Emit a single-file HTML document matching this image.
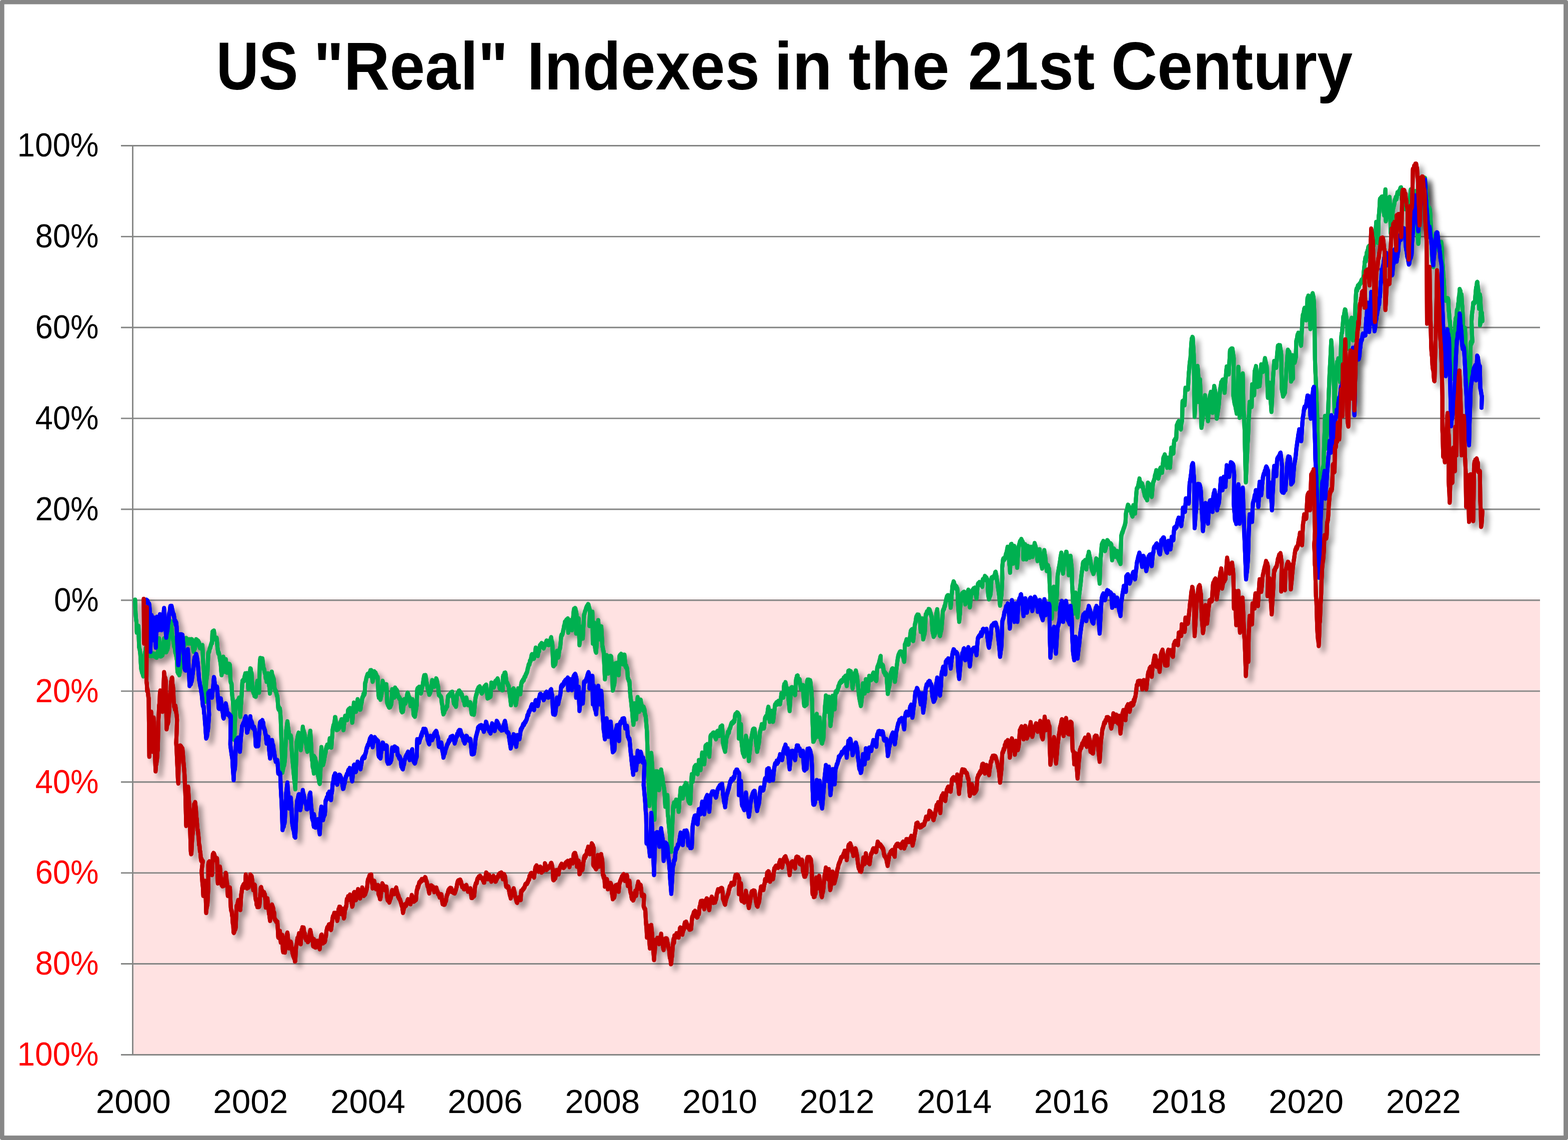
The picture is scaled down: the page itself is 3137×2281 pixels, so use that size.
<!DOCTYPE html>
<html><head><meta charset="utf-8"><title>US "Real" Indexes in the 21st Century</title>
<style>
html,body{margin:0;padding:0;background:#fff;}
body{width:3137px;height:2281px;overflow:hidden;}
svg{display:block;font-family:"Liberation Sans",sans-serif;}
.ax text{font-size:66.4px;}
.ln{fill:none;stroke-width:8;stroke-linejoin:round;stroke-linecap:round;}
</style></head><body>
<svg width="3137" height="2281" viewBox="0 0 3137 2281" xmlns="http://www.w3.org/2000/svg">
<defs>
<filter id="sh" x="-3%" y="-3%" width="106%" height="106%" filterUnits="objectBoundingBox" color-interpolation-filters="sRGB">
<feGaussianBlur in="SourceAlpha" stdDeviation="5.5"/>
<feOffset dx="9" dy="9"/>
<feComponentTransfer><feFuncA type="linear" slope="0.38"/></feComponentTransfer>
</filter>
</defs>
<rect x="0" y="0" width="3137" height="2281" fill="#fff"/>
<rect x="0" y="0" width="3137" height="2281" rx="4" ry="4" fill="#878787"/>
<rect x="8.6" y="8.5" width="3119.5" height="2263.6" fill="#fff"/>
<g font-weight="bold" font-size="134.8"><text x="432.4" y="178.6" textLength="164.0" lengthAdjust="spacingAndGlyphs">US</text><text x="627.4" y="178.6" textLength="389.1" lengthAdjust="spacingAndGlyphs">&quot;Real&quot;</text><text x="1054.6" y="178.6" textLength="465.4" lengthAdjust="spacingAndGlyphs">Indexes</text><text x="1549.1" y="178.6" textLength="116.0" lengthAdjust="spacingAndGlyphs">in</text><text x="1697.5" y="178.6" textLength="202.3" lengthAdjust="spacingAndGlyphs">the</text><text x="1936.4" y="178.6" textLength="253.7" lengthAdjust="spacingAndGlyphs">21st</text><text x="2222.9" y="178.6" textLength="483.2" lengthAdjust="spacingAndGlyphs">Century</text></g>
<linearGradient id="pg" x1="0" y1="0" x2="0" y2="1"><stop offset="0" stop-color="#ffe2e2" stop-opacity="0"/><stop offset="1" stop-color="#ffe2e2" stop-opacity="0.6"/></linearGradient>
<rect x="267" y="1194" width="2814" height="7" fill="url(#pg)"/>
<rect x="266.9" y="1201" width="2814.1" height="909.0" fill="#ffe2e2"/>
<g stroke="#858685" stroke-width="2.9"><line x1="242" x2="3081" y1="291.47" y2="291.47"/><line x1="242" x2="3081" y1="473.37" y2="473.37"/><line x1="242" x2="3081" y1="655.27" y2="655.27"/><line x1="242" x2="3081" y1="837.1700000000001" y2="837.1700000000001"/><line x1="242" x2="3081" y1="1019.07" y2="1019.07"/><line x1="242" x2="3081" y1="1200.97" y2="1200.97"/><line x1="242" x2="3081" y1="1382.8700000000001" y2="1382.8700000000001"/><line x1="242" x2="3081" y1="1564.77" y2="1564.77"/><line x1="242" x2="3081" y1="1746.67" y2="1746.67"/><line x1="242" x2="3081" y1="1928.5700000000002" y2="1928.5700000000002"/><line x1="242" x2="3081" y1="2110.4700000000003" y2="2110.4700000000003"/><line x1="265.5" x2="265.5" y1="290.97" y2="2111.9700000000003"/></g>
<g class="ax"><text x="197.5" y="313.2" text-anchor="end" fill="#000" textLength="163" lengthAdjust="spacingAndGlyphs">100%</text><text x="197.5" y="495.1" text-anchor="end" fill="#000" textLength="127" lengthAdjust="spacingAndGlyphs">80%</text><text x="197.5" y="677.0" text-anchor="end" fill="#000" textLength="127" lengthAdjust="spacingAndGlyphs">60%</text><text x="197.5" y="858.9" text-anchor="end" fill="#000" textLength="127" lengthAdjust="spacingAndGlyphs">40%</text><text x="197.5" y="1040.8" text-anchor="end" fill="#000" textLength="127" lengthAdjust="spacingAndGlyphs">20%</text><text x="197.5" y="1222.7" text-anchor="end" fill="#000" textLength="89.5" lengthAdjust="spacingAndGlyphs">0%</text><text x="197.5" y="1404.6" text-anchor="end" fill="#f00" textLength="127" lengthAdjust="spacingAndGlyphs">20%</text><text x="197.5" y="1586.5" text-anchor="end" fill="#f00" textLength="127" lengthAdjust="spacingAndGlyphs">40%</text><text x="197.5" y="1768.4" text-anchor="end" fill="#f00" textLength="127" lengthAdjust="spacingAndGlyphs">60%</text><text x="197.5" y="1950.3" text-anchor="end" fill="#f00" textLength="127" lengthAdjust="spacingAndGlyphs">80%</text><text x="197.5" y="2132.2" text-anchor="end" fill="#f00" textLength="163" lengthAdjust="spacingAndGlyphs">100%</text><text x="266.7" y="2227.2" text-anchor="middle" textLength="150" lengthAdjust="spacingAndGlyphs">2000</text><text x="501.3" y="2227.2" text-anchor="middle" textLength="150" lengthAdjust="spacingAndGlyphs">2002</text><text x="736.0" y="2227.2" text-anchor="middle" textLength="150" lengthAdjust="spacingAndGlyphs">2004</text><text x="970.6" y="2227.2" text-anchor="middle" textLength="150" lengthAdjust="spacingAndGlyphs">2006</text><text x="1205.3" y="2227.2" text-anchor="middle" textLength="150" lengthAdjust="spacingAndGlyphs">2008</text><text x="1439.9" y="2227.2" text-anchor="middle" textLength="150" lengthAdjust="spacingAndGlyphs">2010</text><text x="1674.5" y="2227.2" text-anchor="middle" textLength="150" lengthAdjust="spacingAndGlyphs">2012</text><text x="1909.2" y="2227.2" text-anchor="middle" textLength="150" lengthAdjust="spacingAndGlyphs">2014</text><text x="2143.8" y="2227.2" text-anchor="middle" textLength="150" lengthAdjust="spacingAndGlyphs">2016</text><text x="2378.5" y="2227.2" text-anchor="middle" textLength="150" lengthAdjust="spacingAndGlyphs">2018</text><text x="2613.1" y="2227.2" text-anchor="middle" textLength="150" lengthAdjust="spacingAndGlyphs">2020</text><text x="2847.7" y="2227.2" text-anchor="middle" textLength="150" lengthAdjust="spacingAndGlyphs">2022</text></g>
<defs><path id="lg" d="M270.3,1200.8 L270.8,1215.5 L271.3,1226.7 L272.1,1238.5 L273.0,1245.0 L273.7,1265.0 L274.5,1261.7 L275.4,1257.5 L276.2,1254.1 L277.0,1253.3 L277.6,1274.5 L278.3,1295.0 L279.1,1297.7 L280.0,1302.3 L280.8,1310.0 L281.6,1325.1 L282.5,1338.3 L283.3,1341.2 L284.2,1345.2 L285.0,1344.6 L285.9,1350.1 L286.7,1352.5 L287.4,1339.2 L288.0,1323.6 L288.7,1313.3 L289.4,1310.9 L290.2,1305.3 L290.9,1305.7 L291.7,1296.7 L292.5,1297.6 L293.4,1299.5 L294.2,1304.0 L295.0,1302.6 L295.9,1306.2 L296.7,1304.5 L297.5,1307.9 L298.3,1310.8 L299.2,1311.3 L300.0,1311.7 L300.8,1311.3 L301.7,1308.5 L302.5,1311.9 L303.4,1309.9 L304.2,1311.2 L305.0,1309.3 L305.9,1311.1 L306.7,1308.3 L307.6,1308.7 L308.5,1310.8 L309.4,1312.6 L310.2,1309.6 L311.1,1312.9 L312.0,1314.2 L312.8,1311.4 L313.5,1315.0 L314.3,1307.6 L315.0,1308.4 L315.8,1305.0 L316.6,1297.1 L317.5,1286.4 L318.3,1278.3 L319.1,1286.5 L320.0,1303.9 L320.8,1312.5 L321.6,1310.1 L322.5,1312.4 L323.3,1306.4 L324.1,1308.3 L325.0,1310.5 L325.8,1306.7 L326.6,1299.8 L327.5,1284.4 L328.3,1278.3 L329.1,1281.2 L330.0,1289.0 L330.8,1295.4 L331.7,1299.1 L332.5,1304.2 L333.3,1302.6 L334.1,1297.3 L335.0,1299.1 L335.8,1295.0 L336.6,1288.4 L337.5,1276.1 L338.4,1265.9 L339.2,1260.0 L339.9,1255.1 L340.6,1254.0 L341.3,1244.5 L342.0,1244.2 L342.7,1252.3 L343.5,1257.1 L344.2,1266.7 L345.0,1271.9 L345.9,1276.1 L346.7,1281.7 L347.5,1286.0 L348.4,1293.3 L349.2,1294.4 L350.0,1298.3 L350.8,1305.9 L351.7,1306.8 L352.5,1311.5 L353.4,1318.0 L354.2,1321.7 L355.0,1343.3 L355.7,1342.5 L356.5,1347.2 L357.2,1347.4 L358.0,1346.1 L358.7,1350.0 L359.6,1344.9 L360.4,1335.1 L361.3,1330.0 L362.0,1323.7 L362.8,1327.2 L363.5,1322.9 L364.2,1323.3 L365.0,1313.7 L365.9,1305.4 L366.7,1296.7 L367.5,1297.2 L368.4,1291.8 L369.2,1289.8 L370.0,1288.4 L370.8,1281.0 L371.6,1286.5 L372.5,1277.5 L373.3,1278.3 L374.1,1282.0 L375.0,1279.7 L375.9,1283.0 L376.7,1286.7 L377.5,1283.9 L378.4,1286.5 L379.2,1280.0 L380.0,1282.9 L380.9,1283.0 L381.7,1286.7 L382.5,1284.1 L383.4,1279.8 L384.2,1280.0 L385.0,1286.2 L385.9,1290.3 L386.7,1299.3 L387.5,1303.3 L388.3,1297.7 L389.2,1298.8 L390.0,1296.7 L390.8,1289.3 L391.7,1284.4 L392.5,1280.0 L393.3,1282.5 L394.2,1281.2 L395.0,1283.3 L395.9,1284.1 L396.7,1283.3 L397.5,1288.7 L398.4,1286.5 L399.2,1293.3 L400.0,1296.0 L400.9,1292.5 L401.7,1296.6 L402.5,1296.7 L403.3,1297.5 L404.2,1292.1 L405.0,1291.7 L405.6,1306.2 L406.3,1321.7 L407.0,1330.4 L407.6,1338.3 L408.3,1346.7 L409.2,1380.0 L409.8,1391.7 L410.3,1403.3 L411.0,1388.4 L411.8,1379.1 L412.5,1363.3 L413.3,1359.2 L414.2,1351.5 L415.0,1346.7 L415.9,1327.5 L416.7,1306.7 L417.5,1305.5 L418.4,1303.7 L419.2,1299.7 L420.0,1296.7 L420.9,1295.6 L421.7,1291.7 L422.5,1289.2 L423.4,1286.2 L424.2,1286.7 L425.0,1265.0 L425.8,1263.8 L426.5,1265.8 L427.2,1264.7 L428.0,1262.5 L428.9,1270.4 L429.7,1278.3 L430.4,1276.9 L431.1,1278.6 L431.9,1279.1 L432.6,1279.1 L433.3,1276.7 L434.1,1283.9 L435.0,1295.0 L435.9,1301.1 L436.7,1306.7 L437.5,1305.9 L438.4,1309.3 L439.2,1313.3 L440.0,1319.7 L440.9,1324.3 L441.7,1330.0 L442.5,1342.1 L443.3,1350.0 L444.1,1343.6 L445.0,1333.9 L445.9,1326.4 L446.7,1315.0 L447.5,1322.7 L448.4,1331.7 L449.2,1343.3 L450.0,1337.1 L450.9,1333.4 L451.7,1320.0 L452.5,1328.0 L453.4,1334.2 L454.2,1345.0 L455.0,1341.0 L455.9,1337.9 L456.7,1330.0 L457.5,1329.2 L458.4,1332.5 L459.2,1329.5 L460.0,1331.7 L460.6,1350.1 L461.3,1363.3 L462.0,1365.9 L462.6,1367.0 L463.3,1368.3 L464.1,1386.0 L465.0,1395.0 L465.9,1402.4 L466.7,1413.3 L467.5,1440.0 L468.1,1458.7 L468.7,1479.2 L469.4,1466.5 L470.0,1446.7 L470.9,1424.7 L471.7,1408.3 L472.5,1409.1 L473.3,1405.1 L474.2,1403.3 L475.0,1404.7 L475.8,1403.3 L476.6,1401.3 L477.5,1399.3 L478.3,1396.7 L479.1,1408.4 L480.0,1423.6 L480.8,1433.3 L481.6,1414.4 L482.5,1406.5 L483.3,1393.3 L484.1,1377.7 L485.0,1363.3 L485.8,1364.1 L486.6,1360.9 L487.5,1362.4 L488.3,1361.7 L489.1,1354.7 L490.0,1351.8 L490.8,1348.3 L491.6,1350.2 L492.5,1349.6 L493.3,1350.8 L494.2,1347.7 L495.0,1350.0 L495.9,1365.1 L496.7,1378.3 L497.5,1372.7 L498.3,1363.8 L499.2,1353.3 L500.0,1349.0 L500.8,1338.3 L501.6,1338.5 L502.5,1347.5 L503.3,1346.7 L504.1,1362.8 L505.0,1380.0 L505.8,1381.5 L506.6,1384.0 L507.5,1386.8 L508.3,1386.7 L509.1,1391.8 L510.0,1389.0 L510.9,1391.0 L511.7,1393.3 L512.5,1387.2 L513.4,1376.1 L514.2,1367.5 L515.0,1363.3 L515.8,1371.2 L516.6,1372.8 L517.5,1382.3 L518.3,1385.0 L519.1,1351.3 L520.0,1323.3 L520.8,1317.5 L521.7,1323.2 L522.5,1320.8 L523.3,1323.2 L524.2,1319.5 L525.0,1318.3 L525.9,1326.3 L526.7,1333.3 L527.5,1337.7 L528.4,1339.1 L529.2,1343.7 L530.0,1346.7 L530.8,1348.1 L531.6,1356.6 L532.5,1357.2 L533.3,1363.3 L534.1,1359.0 L535.0,1357.3 L535.9,1353.6 L536.7,1348.3 L537.5,1355.6 L538.4,1372.0 L539.2,1375.0 L540.0,1386.7 L540.7,1380.3 L541.5,1371.5 L542.2,1361.8 L543.0,1353.6 L543.7,1345.0 L544.5,1351.2 L545.2,1351.9 L546.0,1354.4 L546.7,1356.7 L547.5,1358.7 L548.4,1367.6 L549.2,1376.6 L550.0,1380.0 L550.8,1382.1 L551.7,1382.5 L552.5,1385.7 L553.3,1388.4 L554.2,1392.5 L555.0,1393.3 L555.9,1405.5 L556.7,1416.7 L557.5,1419.0 L558.4,1415.9 L559.2,1419.1 L560.0,1418.3 L560.9,1427.7 L561.7,1440.0 L562.5,1465.9 L563.4,1496.0 L564.2,1518.2 L565.0,1545.0 L565.8,1540.7 L566.7,1536.3 L567.5,1531.8 L568.3,1531.6 L569.2,1526.3 L570.0,1520.0 L570.8,1501.6 L571.7,1481.3 L572.5,1461.7 L573.3,1457.9 L574.2,1449.5 L575.0,1444.2 L575.8,1451.7 L576.6,1457.7 L577.5,1463.6 L578.3,1470.0 L579.1,1474.9 L580.0,1476.2 L580.8,1477.1 L581.7,1472.4 L582.5,1478.3 L583.3,1496.7 L584.2,1506.6 L585.0,1520.0 L585.8,1527.3 L586.7,1536.8 L587.5,1547.2 L588.3,1555.2 L589.1,1563.0 L590.0,1570.0 L590.8,1578.3 L591.6,1549.2 L592.5,1520.0 L593.3,1485.0 L594.1,1483.0 L595.0,1477.2 L595.8,1472.3 L596.7,1469.5 L597.5,1466.7 L598.3,1473.3 L599.2,1480.7 L600.0,1491.1 L600.9,1489.7 L601.7,1500.0 L602.5,1492.7 L603.3,1481.5 L604.2,1473.7 L605.0,1466.6 L605.8,1455.0 L606.6,1461.0 L607.5,1462.3 L608.3,1466.0 L609.2,1468.5 L610.0,1475.0 L610.8,1480.1 L611.7,1486.9 L612.5,1488.1 L613.3,1495.5 L614.2,1499.7 L615.0,1503.3 L615.8,1498.2 L616.7,1493.9 L617.5,1485.5 L618.3,1478.9 L619.1,1472.7 L620.0,1471.3 L620.8,1463.3 L621.6,1476.3 L622.5,1491.3 L623.4,1507.6 L624.2,1520.0 L625.0,1523.5 L625.7,1534.6 L626.5,1536.6 L627.2,1540.3 L628.0,1546.7 L628.0,1513.3 L628.8,1514.5 L629.7,1520.1 L630.5,1517.2 L631.3,1521.5 L632.2,1524.6 L633.0,1526.7 L633.8,1533.3 L634.6,1539.2 L635.5,1546.2 L636.3,1551.7 L637.1,1554.8 L638.0,1559.5 L638.9,1566.1 L639.7,1567.5 L640.5,1553.7 L641.3,1538.3 L642.1,1516.0 L643.0,1495.8 L643.8,1508.0 L644.6,1508.2 L645.5,1522.6 L646.3,1530.0 L647.1,1526.9 L648.0,1523.4 L648.9,1517.4 L649.7,1513.3 L650.5,1508.0 L651.4,1505.5 L652.2,1498.9 L653.0,1495.0 L653.8,1495.5 L654.7,1490.9 L655.5,1495.3 L656.3,1490.9 L657.2,1494.5 L658.0,1491.7 L658.9,1486.0 L659.7,1478.3 L660.5,1483.7 L661.4,1485.6 L662.2,1491.9 L663.0,1495.0 L663.8,1482.4 L664.7,1472.3 L665.5,1460.0 L666.3,1456.3 L667.1,1451.7 L668.0,1454.3 L668.8,1446.7 L669.5,1443.6 L670.3,1435.6 L671.0,1435.8 L671.7,1444.2 L672.4,1444.6 L673.1,1454.1 L673.8,1460.0 L674.6,1458.1 L675.5,1457.9 L676.3,1458.7 L677.2,1456.6 L678.0,1456.7 L678.8,1451.0 L679.6,1451.4 L680.5,1448.5 L681.3,1445.0 L682.1,1445.8 L683.0,1440.2 L683.8,1440.0 L684.6,1442.9 L685.5,1449.7 L686.4,1456.4 L687.2,1460.0 L688.0,1451.3 L688.9,1445.6 L689.7,1441.3 L690.5,1433.3 L691.3,1434.4 L692.2,1436.5 L693.0,1436.0 L693.9,1437.3 L694.7,1440.0 L695.5,1430.5 L696.3,1421.7 L697.1,1420.6 L698.0,1419.4 L698.8,1420.2 L699.7,1419.2 L700.5,1417.5 L701.3,1423.9 L702.2,1429.3 L703.0,1432.1 L703.9,1437.6 L704.7,1445.0 L705.5,1437.4 L706.4,1425.5 L707.2,1416.6 L708.0,1406.7 L708.8,1407.6 L709.7,1413.4 L710.5,1415.4 L711.4,1418.5 L712.2,1423.3 L713.0,1416.5 L713.9,1408.9 L714.7,1406.6 L715.5,1400.0 L716.3,1404.8 L717.2,1403.4 L718.0,1408.4 L718.8,1408.2 L719.6,1414.9 L720.5,1419.1 L721.3,1418.3 L722.1,1410.6 L723.0,1407.7 L723.9,1403.9 L724.7,1396.7 L725.5,1395.1 L726.4,1393.5 L727.2,1389.0 L728.0,1390.4 L728.9,1389.5 L729.7,1386.7 L730.5,1366.7 L731.3,1365.3 L732.2,1361.2 L733.0,1356.8 L733.9,1354.0 L734.7,1351.7 L735.5,1349.2 L736.4,1349.9 L737.2,1352.1 L738.0,1350.0 L738.8,1348.1 L739.6,1345.6 L740.4,1347.9 L741.1,1341.9 L741.9,1345.2 L742.7,1341.7 L743.4,1346.4 L744.1,1353.1 L744.8,1358.6 L745.5,1363.3 L746.3,1358.7 L747.1,1355.4 L748.0,1348.7 L748.8,1344.2 L749.6,1345.3 L750.5,1346.3 L751.4,1346.8 L752.2,1350.0 L753.0,1350.7 L753.9,1353.9 L754.7,1354.5 L755.5,1355.0 L756.4,1374.2 L757.2,1390.0 L758.0,1395.1 L758.8,1394.0 L759.7,1396.1 L760.5,1395.5 L761.3,1399.2 L762.1,1394.0 L763.0,1391.4 L763.8,1383.3 L764.6,1373.4 L765.5,1363.3 L766.3,1366.1 L767.2,1369.7 L768.0,1369.7 L768.9,1374.7 L769.7,1378.3 L770.5,1374.6 L771.4,1371.7 L772.2,1373.6 L773.0,1370.0 L773.9,1389.3 L774.7,1406.7 L775.5,1407.9 L776.3,1410.6 L777.2,1410.3 L778.0,1414.2 L778.8,1415.0 L779.6,1414.5 L780.5,1414.2 L781.3,1412.6 L782.2,1409.9 L783.0,1408.3 L783.9,1393.9 L784.7,1380.0 L785.5,1382.0 L786.3,1385.4 L787.2,1389.9 L788.0,1392.6 L788.8,1395.0 L789.6,1385.8 L790.5,1376.7 L791.3,1380.2 L792.2,1379.7 L793.0,1380.6 L793.9,1381.7 L794.7,1383.3 L795.5,1388.4 L796.3,1393.3 L797.1,1393.2 L798.0,1394.5 L798.8,1397.3 L799.6,1396.9 L800.5,1398.7 L801.3,1400.0 L802.1,1412.5 L803.0,1421.7 L803.8,1421.6 L804.5,1424.1 L805.2,1422.5 L806.0,1423.3 L806.7,1419.3 L807.4,1411.8 L808.1,1403.8 L808.8,1400.0 L809.6,1404.3 L810.5,1403.8 L811.3,1406.7 L812.1,1400.3 L813.0,1399.3 L813.8,1394.8 L814.7,1389.0 L815.5,1386.7 L816.3,1388.2 L817.2,1391.5 L818.0,1394.4 L818.9,1395.8 L819.7,1396.7 L820.5,1405.6 L821.3,1411.7 L822.1,1410.5 L823.0,1403.6 L823.8,1404.4 L824.7,1402.6 L825.5,1400.0 L826.4,1410.6 L827.2,1428.3 L827.9,1431.0 L828.6,1431.6 L829.3,1431.0 L830.0,1433.3 L830.8,1428.4 L831.5,1422.8 L832.3,1419.5 L833.0,1414.6 L833.8,1410.0 L834.2,1395.0 L834.7,1380.0 L835.5,1377.7 L836.3,1378.8 L837.2,1376.4 L838.0,1377.4 L838.8,1375.0 L839.6,1378.1 L840.5,1378.9 L841.4,1382.3 L842.2,1386.7 L843.0,1383.1 L843.8,1378.0 L844.7,1375.5 L845.5,1371.6 L846.3,1366.7 L847.1,1360.7 L848.0,1355.0 L848.8,1352.0 L849.6,1352.2 L850.5,1353.5 L851.3,1351.7 L852.1,1355.5 L853.0,1364.3 L853.9,1367.4 L854.7,1373.3 L855.5,1377.2 L856.3,1378.4 L857.2,1383.0 L858.0,1382.1 L858.8,1389.2 L859.6,1387.8 L860.5,1386.1 L861.4,1382.3 L862.2,1381.7 L863.0,1374.2 L863.9,1368.5 L864.7,1361.7 L865.5,1364.1 L866.3,1365.3 L867.2,1369.8 L868.0,1368.6 L868.8,1373.3 L869.6,1372.2 L870.4,1365.1 L871.1,1363.7 L871.9,1363.1 L872.7,1358.3 L873.6,1360.4 L874.5,1364.0 L875.4,1370.0 L876.3,1373.3 L877.1,1380.4 L878.0,1390.0 L878.8,1389.9 L879.7,1391.6 L880.5,1392.5 L881.3,1393.4 L882.2,1394.5 L883.0,1396.7 L883.8,1406.2 L884.7,1409.8 L885.5,1418.3 L886.4,1424.8 L887.2,1428.3 L888.0,1424.2 L888.8,1425.4 L889.7,1420.4 L890.5,1420.1 L891.3,1418.3 L892.1,1417.9 L893.0,1414.9 L893.9,1412.5 L894.7,1413.3 L895.5,1403.1 L896.3,1393.3 L897.1,1392.6 L898.0,1393.0 L898.8,1390.2 L899.6,1391.0 L900.5,1390.7 L901.3,1390.0 L902.1,1386.6 L903.0,1387.8 L903.9,1385.1 L904.7,1385.0 L905.5,1391.2 L906.4,1395.5 L907.2,1401.1 L908.0,1406.7 L908.8,1405.9 L909.7,1409.8 L910.5,1410.1 L911.4,1410.9 L912.2,1413.3 L913.0,1404.5 L913.9,1395.1 L914.7,1388.3 L915.5,1387.7 L916.3,1386.7 L917.2,1385.4 L918.0,1382.9 L918.8,1382.5 L919.6,1386.3 L920.5,1386.1 L921.3,1385.6 L922.2,1388.6 L923.0,1390.0 L923.8,1389.5 L924.6,1393.6 L925.5,1395.9 L926.3,1396.7 L927.1,1401.5 L928.0,1402.5 L928.9,1404.5 L929.7,1410.0 L930.5,1406.9 L931.4,1405.1 L932.2,1399.9 L933.0,1396.7 L933.8,1401.7 L934.6,1404.1 L935.5,1408.6 L936.3,1410.0 L937.1,1409.9 L938.0,1408.0 L938.8,1409.1 L939.6,1410.8 L940.5,1405.9 L941.3,1406.7 L942.1,1411.7 L943.0,1424.3 L943.8,1428.3 L944.6,1428.4 L945.5,1427.9 L946.3,1428.2 L947.2,1427.5 L948.0,1429.2 L948.8,1422.4 L949.6,1412.9 L950.5,1404.0 L951.3,1396.7 L952.1,1393.0 L953.0,1389.5 L953.8,1388.2 L954.7,1382.8 L955.5,1380.0 L956.3,1380.7 L957.2,1376.2 L958.0,1376.0 L958.9,1374.8 L959.7,1374.2 L960.5,1376.1 L961.3,1379.2 L962.2,1383.0 L963.0,1385.5 L963.8,1386.7 L964.6,1383.0 L965.5,1384.7 L966.3,1380.4 L967.2,1380.8 L968.0,1376.7 L968.8,1375.1 L969.6,1373.8 L970.4,1375.0 L971.1,1373.3 L971.9,1371.1 L972.7,1370.8 L973.4,1377.4 L974.1,1383.9 L974.8,1390.6 L975.5,1396.7 L976.3,1393.9 L977.2,1394.6 L978.0,1395.5 L978.8,1395.0 L979.6,1393.5 L980.5,1392.5 L981.3,1393.3 L982.1,1382.2 L983.0,1366.7 L983.8,1367.2 L984.7,1368.3 L985.5,1373.2 L986.3,1373.2 L987.2,1374.8 L988.0,1375.0 L988.8,1372.9 L989.6,1369.7 L990.5,1364.8 L991.3,1363.3 L992.1,1362.6 L993.0,1361.7 L993.8,1361.0 L994.7,1359.8 L995.5,1358.3 L996.3,1360.6 L997.2,1365.2 L998.0,1369.0 L998.9,1372.8 L999.7,1376.7 L1000.6,1376.1 L1001.5,1375.9 L1002.4,1377.0 L1003.3,1379.2 L1004.2,1378.9 L1005.1,1380.3 L1006.0,1380.0 L1006.0,1356.7 L1006.8,1352.4 L1007.7,1353.3 L1008.5,1352.9 L1009.3,1347.3 L1010.2,1347.5 L1011.0,1346.7 L1011.8,1350.8 L1012.7,1360.9 L1013.5,1365.0 L1014.3,1366.3 L1015.2,1367.6 L1016.0,1370.3 L1016.9,1371.5 L1017.7,1373.3 L1018.5,1380.1 L1019.4,1385.7 L1020.2,1390.0 L1020.9,1397.5 L1021.6,1403.6 L1022.3,1410.0 L1023.1,1403.2 L1023.9,1395.3 L1024.7,1386.7 L1025.5,1385.9 L1026.2,1379.8 L1027.0,1381.3 L1027.7,1378.3 L1028.5,1384.5 L1029.3,1391.2 L1030.2,1397.0 L1031.0,1403.6 L1031.8,1410.0 L1032.7,1405.6 L1033.5,1400.1 L1034.3,1395.1 L1035.2,1390.0 L1036.0,1382.7 L1036.8,1378.3 L1037.6,1379.0 L1038.5,1381.6 L1039.3,1382.1 L1040.2,1386.1 L1041.0,1388.3 L1041.8,1378.1 L1042.7,1370.0 L1043.5,1365.9 L1044.3,1363.9 L1045.2,1363.8 L1046.0,1361.3 L1046.8,1360.0 L1047.6,1360.8 L1048.5,1357.8 L1049.3,1354.9 L1050.2,1354.2 L1051.0,1353.3 L1051.8,1350.0 L1052.7,1348.4 L1053.5,1346.8 L1054.3,1345.0 L1055.2,1341.2 L1056.0,1336.7 L1056.8,1335.0 L1057.7,1330.0 L1058.5,1328.9 L1059.3,1329.1 L1060.2,1322.8 L1061.0,1323.3 L1061.8,1321.3 L1062.7,1315.9 L1063.5,1311.4 L1064.3,1310.0 L1065.1,1311.3 L1066.0,1310.5 L1066.8,1314.4 L1067.7,1317.5 L1068.5,1316.7 L1069.3,1312.7 L1070.2,1308.9 L1071.0,1302.8 L1071.8,1296.7 L1072.6,1297.5 L1073.5,1303.7 L1074.3,1305.7 L1075.2,1309.3 L1076.0,1311.7 L1076.8,1306.2 L1077.7,1301.4 L1078.5,1302.9 L1079.4,1296.6 L1080.2,1291.7 L1081.0,1291.2 L1081.8,1289.7 L1082.7,1290.0 L1083.5,1287.5 L1084.3,1288.3 L1085.2,1292.0 L1086.0,1292.4 L1086.8,1294.4 L1087.7,1296.7 L1088.5,1294.1 L1089.4,1292.7 L1090.2,1290.8 L1091.0,1288.0 L1091.8,1287.9 L1092.7,1284.5 L1093.5,1282.5 L1094.3,1283.9 L1095.2,1284.4 L1096.0,1288.8 L1096.9,1289.8 L1097.7,1290.0 L1098.5,1288.3 L1099.4,1282.7 L1100.2,1283.0 L1101.0,1281.8 L1101.9,1278.0 L1102.7,1275.8 L1103.5,1282.2 L1104.4,1284.4 L1105.2,1290.0 L1106.0,1316.7 L1106.8,1331.7 L1107.6,1332.2 L1108.5,1330.8 L1109.3,1327.5 L1110.2,1329.1 L1111.0,1328.3 L1111.8,1321.7 L1112.7,1315.1 L1113.5,1308.5 L1114.3,1303.3 L1115.1,1309.5 L1116.0,1310.5 L1116.8,1315.0 L1117.6,1311.8 L1118.5,1304.3 L1119.3,1299.7 L1120.2,1297.5 L1121.0,1293.3 L1121.8,1283.9 L1122.7,1273.3 L1123.5,1270.6 L1124.3,1270.9 L1125.2,1269.2 L1126.0,1266.7 L1126.8,1261.6 L1127.7,1258.1 L1128.5,1252.7 L1129.4,1250.9 L1130.2,1245.0 L1131.0,1245.8 L1131.9,1243.3 L1132.7,1241.4 L1133.5,1240.4 L1134.3,1240.0 L1135.2,1240.5 L1136.0,1238.3 L1136.8,1265.0 L1137.6,1259.9 L1138.5,1259.4 L1139.3,1251.3 L1140.1,1249.9 L1141.0,1247.2 L1141.8,1241.7 L1142.6,1249.8 L1143.5,1253.0 L1144.3,1260.0 L1145.2,1252.0 L1146.0,1244.7 L1146.8,1233.4 L1147.7,1223.3 L1148.5,1219.0 L1149.2,1221.4 L1150.0,1221.7 L1150.7,1217.5 L1151.4,1218.8 L1152.1,1225.4 L1152.8,1224.2 L1153.5,1230.0 L1152.7,1266.7 L1153.5,1264.6 L1154.4,1255.6 L1155.2,1253.9 L1156.0,1248.7 L1156.9,1239.2 L1157.7,1238.3 L1158.5,1263.0 L1159.3,1290.0 L1160.1,1283.6 L1161.0,1273.9 L1161.8,1269.4 L1162.7,1260.7 L1163.5,1255.0 L1164.3,1264.2 L1165.2,1268.4 L1166.0,1276.7 L1166.8,1260.2 L1167.7,1246.6 L1168.5,1230.0 L1169.3,1228.7 L1170.2,1224.2 L1171.0,1222.5 L1171.9,1219.9 L1172.7,1216.7 L1173.5,1214.9 L1174.2,1213.1 L1175.0,1214.3 L1175.8,1211.6 L1176.5,1209.5 L1177.3,1210.0 L1178.0,1214.2 L1178.8,1216.1 L1179.5,1218.9 L1180.2,1221.7 L1179.8,1236.1 L1179.3,1251.7 L1180.1,1247.8 L1181.0,1244.9 L1181.8,1240.7 L1182.7,1235.3 L1183.5,1231.7 L1184.4,1229.4 L1185.2,1225.0 L1186.0,1286.7 L1186.8,1273.5 L1187.7,1261.1 L1188.5,1246.7 L1189.3,1290.0 L1190.2,1292.0 L1191.0,1299.0 L1191.8,1303.2 L1192.7,1305.0 L1193.5,1291.7 L1194.3,1276.7 L1195.1,1265.0 L1196.0,1254.5 L1196.8,1241.7 L1197.6,1252.0 L1198.5,1265.9 L1199.3,1278.3 L1200.0,1276.0 L1200.8,1266.0 L1201.5,1262.9 L1202.3,1260.2 L1203.0,1254.2 L1203.7,1266.2 L1204.5,1279.8 L1205.2,1293.3 L1206.0,1295.3 L1206.9,1302.4 L1207.7,1303.3 L1208.5,1320.4 L1209.4,1339.9 L1210.2,1358.3 L1211.0,1344.3 L1211.8,1336.5 L1212.7,1323.0 L1213.5,1311.7 L1214.3,1321.2 L1215.2,1331.1 L1216.0,1337.8 L1216.8,1346.7 L1217.7,1329.3 L1218.5,1315.0 L1219.3,1313.8 L1220.2,1315.0 L1221.0,1315.8 L1221.9,1313.4 L1222.7,1314.2 L1223.5,1327.2 L1224.3,1340.0 L1225.2,1360.2 L1226.0,1380.8 L1226.8,1378.2 L1227.7,1372.4 L1228.5,1370.9 L1229.3,1366.7 L1230.2,1348.4 L1231.0,1328.3 L1231.8,1327.8 L1232.7,1327.7 L1233.5,1328.3 L1234.3,1327.8 L1235.2,1328.5 L1236.0,1326.7 L1236.8,1336.6 L1237.7,1350.0 L1238.5,1333.6 L1239.3,1313.3 L1240.1,1312.0 L1241.0,1310.6 L1241.8,1310.9 L1242.7,1309.2 L1243.5,1310.0 L1244.3,1316.1 L1245.2,1323.5 L1246.0,1328.3 L1246.8,1320.7 L1247.7,1318.7 L1248.5,1316.4 L1249.3,1310.8 L1250.2,1320.6 L1251.0,1331.7 L1251.8,1334.1 L1252.7,1332.2 L1253.5,1335.8 L1254.3,1336.7 L1255.2,1343.2 L1256.0,1356.7 L1256.8,1357.9 L1257.7,1361.0 L1258.5,1363.0 L1259.3,1363.3 L1260.2,1378.5 L1261.0,1390.0 L1261.8,1397.1 L1262.7,1403.9 L1263.5,1412.2 L1264.3,1420.0 L1265.0,1425.0 L1265.8,1436.8 L1266.5,1442.9 L1267.3,1449.2 L1268.0,1434.4 L1268.6,1424.2 L1269.3,1408.3 L1270.2,1411.8 L1271.0,1425.6 L1271.8,1428.2 L1272.7,1438.3 L1273.5,1423.9 L1274.2,1418.9 L1275.0,1403.3 L1275.7,1395.8 L1276.4,1406.0 L1277.1,1406.5 L1277.8,1417.2 L1278.5,1423.3 L1279.3,1416.3 L1280.2,1412.7 L1281.0,1404.7 L1281.8,1400.8 L1282.6,1407.5 L1283.5,1410.2 L1284.3,1413.3 L1285.1,1414.4 L1286.0,1415.2 L1286.8,1420.8 L1287.6,1414.9 L1288.5,1418.3 L1289.3,1420.0 L1290.2,1427.9 L1291.0,1431.2 L1291.8,1433.3 L1292.7,1443.3 L1293.5,1453.8 L1294.3,1463.3 L1295.1,1490.0 L1296.0,1516.5 L1296.8,1546.7 L1297.6,1569.3 L1298.5,1586.9 L1299.3,1611.7 L1300.0,1590.8 L1300.8,1567.1 L1301.5,1553.8 L1302.3,1526.8 L1303.0,1507.5 L1303.8,1518.7 L1304.5,1527.5 L1305.2,1538.5 L1306.0,1546.7 L1306.8,1569.1 L1307.7,1595.1 L1308.5,1616.0 L1309.3,1639.2 L1310.1,1602.0 L1311.0,1579.6 L1311.8,1546.7 L1312.6,1544.2 L1313.5,1547.5 L1314.3,1545.6 L1315.2,1544.4 L1316.0,1545.0 L1316.8,1550.3 L1317.7,1564.0 L1318.5,1580.0 L1319.3,1570.0 L1320.2,1563.8 L1321.0,1553.0 L1321.9,1554.5 L1322.7,1540.8 L1323.5,1546.4 L1324.3,1551.8 L1325.2,1555.2 L1326.0,1563.3 L1326.8,1567.9 L1327.7,1572.8 L1328.5,1577.3 L1329.3,1583.3 L1330.2,1598.3 L1331.0,1613.3 L1331.8,1611.1 L1332.7,1599.7 L1333.5,1601.9 L1334.4,1598.6 L1335.2,1591.7 L1336.0,1630.0 L1336.8,1634.3 L1337.7,1647.0 L1338.5,1653.9 L1339.3,1663.3 L1340.0,1668.7 L1340.8,1682.3 L1341.5,1685.8 L1342.3,1698.3 L1343.0,1703.3 L1343.7,1684.8 L1344.5,1664.8 L1345.2,1646.7 L1346.0,1630.9 L1346.8,1613.3 L1347.6,1610.8 L1348.5,1606.6 L1349.3,1613.8 L1350.2,1608.1 L1351.0,1606.7 L1351.8,1607.5 L1352.7,1600.9 L1353.5,1607.5 L1354.3,1604.8 L1355.2,1602.1 L1356.0,1601.7 L1356.8,1607.1 L1357.7,1623.3 L1358.5,1615.5 L1359.3,1603.0 L1360.2,1595.7 L1361.0,1586.8 L1361.8,1577.5 L1362.6,1579.0 L1363.5,1585.3 L1364.3,1589.0 L1365.2,1596.7 L1366.0,1596.7 L1366.8,1589.8 L1367.7,1591.3 L1368.5,1574.8 L1369.3,1573.3 L1370.1,1572.8 L1371.0,1574.1 L1371.8,1567.5 L1372.7,1571.9 L1373.5,1568.3 L1374.3,1575.8 L1375.2,1580.6 L1376.0,1589.0 L1376.9,1600.4 L1377.7,1603.3 L1378.5,1602.5 L1379.3,1606.1 L1380.2,1606.7 L1381.0,1606.7 L1381.8,1595.3 L1382.5,1572.4 L1383.2,1561.7 L1384.0,1550.0 L1384.8,1553.7 L1385.7,1563.3 L1386.5,1556.5 L1387.3,1551.6 L1388.2,1545.2 L1389.0,1536.7 L1389.8,1534.3 L1390.7,1537.5 L1391.5,1531.9 L1392.3,1531.7 L1393.2,1537.9 L1394.0,1537.6 L1394.8,1546.8 L1395.7,1548.3 L1396.5,1537.0 L1397.4,1534.1 L1398.2,1521.7 L1399.0,1527.8 L1399.8,1535.4 L1400.7,1533.4 L1401.5,1540.0 L1402.3,1530.6 L1403.2,1524.6 L1404.0,1515.2 L1404.8,1506.7 L1405.6,1510.3 L1406.5,1513.7 L1407.3,1521.0 L1408.2,1521.2 L1409.0,1528.3 L1409.8,1516.6 L1410.7,1506.4 L1411.5,1493.3 L1412.3,1491.9 L1413.2,1492.4 L1414.0,1491.3 L1414.8,1490.0 L1415.6,1495.3 L1416.5,1500.6 L1417.3,1504.6 L1418.2,1508.0 L1419.0,1513.3 L1419.8,1498.5 L1420.7,1486.6 L1421.5,1473.3 L1422.3,1471.4 L1423.2,1471.8 L1424.0,1470.0 L1424.8,1470.8 L1425.7,1469.4 L1426.5,1467.0 L1427.4,1467.8 L1428.2,1466.7 L1429.0,1468.9 L1429.8,1470.7 L1430.7,1475.5 L1431.5,1476.4 L1432.3,1478.3 L1433.2,1474.9 L1434.0,1469.1 L1434.8,1464.0 L1435.7,1463.3 L1436.5,1465.1 L1437.3,1469.0 L1438.2,1469.0 L1439.0,1471.7 L1439.8,1466.2 L1440.7,1460.2 L1441.5,1455.0 L1442.3,1455.1 L1443.2,1453.6 L1444.0,1455.4 L1444.8,1452.5 L1445.7,1469.0 L1446.5,1486.7 L1447.3,1489.8 L1448.2,1495.2 L1449.0,1497.3 L1449.9,1500.8 L1450.7,1503.3 L1451.5,1495.0 L1452.4,1485.4 L1453.2,1476.7 L1454.0,1474.8 L1454.8,1472.6 L1455.7,1469.7 L1456.5,1464.9 L1457.3,1465.0 L1458.2,1465.2 L1459.0,1459.8 L1459.8,1458.3 L1460.7,1456.7 L1461.5,1453.9 L1462.3,1450.8 L1463.2,1448.2 L1464.0,1446.7 L1464.8,1446.2 L1465.7,1446.7 L1466.5,1444.4 L1467.3,1445.2 L1468.2,1442.5 L1469.0,1443.3 L1469.8,1438.9 L1470.7,1431.7 L1471.5,1429.2 L1472.2,1431.3 L1473.0,1428.0 L1473.8,1427.8 L1474.5,1426.1 L1475.3,1426.7 L1476.0,1426.8 L1476.8,1429.3 L1477.5,1429.4 L1478.3,1431.9 L1479.0,1433.3 L1478.2,1476.7 L1479.0,1472.8 L1479.8,1464.6 L1480.7,1460.5 L1481.5,1455.2 L1482.3,1450.0 L1482.8,1464.6 L1483.2,1480.0 L1484.0,1487.9 L1484.9,1495.8 L1485.7,1503.3 L1486.5,1507.1 L1487.3,1507.1 L1488.2,1510.8 L1489.0,1513.3 L1489.8,1503.1 L1490.7,1494.9 L1491.5,1481.7 L1492.3,1473.3 L1493.2,1478.0 L1494.0,1482.5 L1494.8,1486.4 L1495.7,1490.0 L1496.5,1499.5 L1497.4,1510.0 L1498.2,1521.7 L1499.0,1511.2 L1499.9,1504.8 L1500.7,1496.7 L1501.5,1489.8 L1502.4,1481.5 L1503.2,1476.7 L1504.0,1474.0 L1504.8,1468.3 L1505.7,1463.9 L1506.5,1460.0 L1507.3,1459.2 L1508.2,1460.3 L1509.0,1458.9 L1509.8,1459.2 L1510.6,1468.0 L1511.5,1474.5 L1512.3,1483.3 L1513.1,1491.5 L1514.0,1494.2 L1514.8,1503.3 L1515.6,1497.7 L1516.5,1496.5 L1517.3,1490.2 L1518.2,1486.6 L1519.0,1480.0 L1519.8,1470.2 L1520.7,1463.3 L1521.5,1461.2 L1522.3,1457.7 L1523.2,1454.3 L1524.0,1450.0 L1524.8,1450.9 L1525.7,1454.7 L1526.5,1454.2 L1527.4,1453.6 L1528.2,1456.7 L1529.0,1453.6 L1529.9,1442.8 L1530.7,1436.7 L1531.5,1437.5 L1532.3,1433.7 L1533.2,1433.2 L1534.0,1433.3 L1534.8,1430.1 L1535.7,1425.0 L1536.5,1418.4 L1537.3,1415.0 L1538.1,1425.0 L1539.0,1432.0 L1539.8,1443.3 L1540.7,1436.0 L1541.5,1435.2 L1542.3,1426.4 L1543.2,1423.3 L1544.0,1429.6 L1544.8,1434.4 L1545.7,1438.6 L1546.5,1443.3 L1547.3,1438.6 L1548.2,1430.1 L1549.0,1423.7 L1549.9,1416.6 L1550.7,1410.0 L1551.5,1409.7 L1552.3,1408.7 L1553.2,1406.2 L1554.0,1406.8 L1554.8,1405.3 L1555.7,1408.8 L1556.5,1405.0 L1557.3,1403.3 L1558.2,1403.4 L1559.0,1406.8 L1559.8,1404.6 L1560.7,1408.3 L1561.5,1402.2 L1562.4,1397.2 L1563.2,1388.3 L1564.0,1389.3 L1564.8,1392.7 L1565.7,1391.5 L1566.5,1394.4 L1567.3,1395.0 L1567.8,1385.2 L1568.2,1375.0 L1569.0,1369.8 L1569.8,1369.9 L1570.7,1370.7 L1571.5,1365.8 L1572.3,1369.8 L1573.2,1378.9 L1574.0,1384.5 L1574.8,1388.3 L1575.2,1383.1 L1575.7,1378.3 L1576.5,1388.9 L1577.3,1396.7 L1578.1,1405.2 L1579.0,1412.6 L1579.8,1421.7 L1580.6,1408.2 L1581.5,1393.1 L1582.3,1378.3 L1583.1,1376.6 L1584.0,1377.4 L1584.8,1375.9 L1585.7,1376.9 L1586.5,1376.7 L1587.3,1379.3 L1588.2,1380.8 L1589.0,1382.5 L1589.9,1388.7 L1590.7,1390.0 L1591.5,1379.2 L1592.3,1363.3 L1593.0,1357.9 L1593.6,1357.2 L1594.3,1353.3 L1595.1,1353.7 L1595.9,1352.5 L1596.6,1364.1 L1597.4,1360.8 L1598.2,1363.3 L1599.0,1359.2 L1599.8,1360.0 L1600.6,1369.5 L1601.5,1373.1 L1602.3,1378.3 L1603.1,1379.1 L1604.0,1376.7 L1604.8,1375.3 L1605.7,1376.0 L1606.5,1371.7 L1607.3,1387.2 L1608.2,1405.0 L1609.0,1411.7 L1609.8,1411.9 L1610.7,1408.0 L1611.5,1408.0 L1612.3,1410.3 L1613.2,1409.2 L1614.0,1408.3 L1614.8,1363.3 L1615.6,1360.9 L1616.5,1364.1 L1617.3,1364.1 L1618.2,1360.9 L1619.0,1362.0 L1619.9,1364.1 L1620.7,1361.7 L1621.5,1365.2 L1622.4,1375.7 L1623.2,1380.0 L1624.0,1393.0 L1624.8,1403.3 L1625.2,1425.1 L1625.7,1446.7 L1626.3,1465.2 L1627.0,1483.3 L1627.7,1483.1 L1628.5,1481.1 L1629.2,1479.6 L1630.0,1475.9 L1630.7,1476.7 L1631.5,1458.7 L1632.3,1438.3 L1633.2,1431.8 L1634.0,1429.2 L1634.8,1443.9 L1635.7,1455.4 L1636.5,1463.9 L1637.3,1473.3 L1638.1,1456.0 L1639.0,1452.1 L1639.8,1436.7 L1640.6,1450.6 L1641.5,1464.2 L1642.3,1480.0 L1643.1,1480.9 L1644.0,1486.1 L1644.8,1486.7 L1645.6,1482.2 L1646.5,1480.2 L1647.3,1476.7 L1648.2,1457.6 L1649.0,1438.3 L1649.8,1428.1 L1650.7,1411.7 L1651.5,1406.3 L1652.3,1392.5 L1653.2,1398.7 L1654.0,1407.7 L1654.8,1416.4 L1655.7,1423.3 L1656.5,1414.2 L1657.4,1401.4 L1658.2,1395.0 L1659.0,1410.6 L1659.8,1422.9 L1660.7,1436.3 L1661.5,1451.7 L1662.3,1443.9 L1663.2,1435.3 L1664.0,1430.0 L1664.8,1413.1 L1665.7,1393.3 L1666.5,1399.9 L1667.3,1402.2 L1668.2,1407.9 L1669.0,1411.5 L1669.8,1418.3 L1670.7,1401.9 L1671.5,1386.7 L1672.3,1384.1 L1673.2,1384.3 L1674.0,1384.9 L1674.9,1382.3 L1675.7,1380.0 L1676.5,1378.6 L1677.3,1373.5 L1678.2,1373.9 L1679.0,1370.0 L1679.8,1367.1 L1680.7,1365.7 L1681.5,1366.1 L1682.3,1363.3 L1683.1,1362.4 L1684.0,1364.1 L1684.8,1361.2 L1685.6,1360.8 L1686.5,1361.6 L1687.3,1360.0 L1688.1,1356.9 L1689.0,1358.5 L1689.8,1357.8 L1690.7,1354.1 L1691.5,1353.3 L1692.3,1358.9 L1693.2,1367.1 L1694.0,1371.7 L1694.8,1362.8 L1695.7,1358.3 L1696.5,1349.5 L1697.3,1343.3 L1698.1,1344.0 L1699.0,1342.5 L1699.8,1344.8 L1700.6,1344.4 L1701.5,1345.0 L1702.3,1344.2 L1703.2,1351.4 L1704.0,1361.2 L1704.8,1366.1 L1705.7,1376.7 L1706.5,1370.3 L1707.3,1365.5 L1708.2,1357.3 L1709.0,1353.3 L1709.8,1350.8 L1710.7,1346.7 L1711.5,1346.1 L1712.3,1342.5 L1713.1,1347.3 L1714.0,1350.1 L1714.8,1355.0 L1715.6,1364.3 L1716.5,1370.7 L1717.3,1380.0 L1718.2,1387.8 L1719.0,1395.0 L1719.8,1399.8 L1720.7,1404.0 L1721.5,1408.2 L1722.3,1411.7 L1723.1,1407.6 L1724.0,1398.2 L1724.8,1393.3 L1725.7,1380.8 L1726.5,1368.3 L1727.3,1370.5 L1728.2,1379.1 L1729.0,1380.3 L1729.8,1386.7 L1730.6,1377.4 L1731.5,1368.3 L1732.3,1360.0 L1733.1,1365.0 L1734.0,1368.2 L1734.8,1372.8 L1735.7,1377.5 L1736.5,1381.7 L1737.3,1371.8 L1738.2,1362.8 L1739.0,1353.3 L1739.8,1353.4 L1740.7,1355.5 L1741.5,1355.8 L1742.4,1360.1 L1743.2,1360.0 L1744.0,1358.2 L1744.8,1355.4 L1745.7,1352.3 L1746.5,1348.5 L1747.3,1346.7 L1748.1,1349.7 L1749.0,1348.8 L1749.8,1350.3 L1750.7,1354.3 L1751.5,1359.6 L1752.4,1359.4 L1753.2,1361.7 L1754.0,1352.0 L1754.8,1338.3 L1755.6,1334.2 L1756.5,1334.3 L1757.3,1330.0 L1758.1,1328.9 L1758.9,1325.4 L1759.7,1321.8 L1760.4,1320.2 L1761.2,1315.2 L1762.0,1313.3 L1762.0,1330.0 L1762.8,1332.5 L1763.7,1329.2 L1764.5,1330.4 L1765.4,1331.5 L1766.2,1331.7 L1767.0,1335.1 L1767.9,1343.1 L1768.7,1345.0 L1769.5,1346.2 L1770.4,1345.6 L1771.2,1349.9 L1772.0,1349.6 L1772.9,1348.4 L1773.7,1350.0 L1774.5,1364.7 L1775.4,1376.1 L1776.2,1387.5 L1777.0,1382.1 L1777.8,1377.9 L1778.7,1374.5 L1779.5,1370.9 L1780.3,1365.0 L1781.2,1357.6 L1782.0,1346.7 L1782.8,1346.6 L1783.7,1342.4 L1784.5,1339.5 L1785.4,1338.2 L1786.2,1338.3 L1787.0,1345.6 L1787.8,1349.2 L1788.7,1354.7 L1789.5,1358.0 L1790.3,1363.3 L1791.1,1356.8 L1792.0,1350.6 L1792.8,1343.3 L1793.6,1337.1 L1794.5,1330.0 L1795.3,1323.3 L1796.1,1317.6 L1797.0,1312.9 L1797.8,1310.0 L1798.6,1308.8 L1799.5,1306.4 L1800.3,1305.0 L1801.1,1307.5 L1802.0,1304.3 L1802.8,1304.4 L1803.6,1305.1 L1804.5,1308.1 L1805.3,1308.3 L1806.0,1313.2 L1806.8,1313.4 L1807.5,1316.6 L1808.3,1320.9 L1809.0,1323.3 L1809.7,1308.2 L1810.3,1290.0 L1811.2,1288.5 L1812.0,1285.9 L1812.8,1283.5 L1813.7,1280.0 L1814.5,1281.1 L1815.3,1283.5 L1816.2,1285.5 L1817.0,1288.9 L1817.8,1288.3 L1818.6,1281.1 L1819.5,1280.5 L1820.3,1276.7 L1821.2,1270.5 L1822.0,1263.3 L1822.8,1261.8 L1823.7,1261.0 L1824.5,1260.0 L1825.3,1266.9 L1826.2,1273.3 L1827.0,1281.7 L1827.8,1274.7 L1828.7,1267.4 L1829.5,1257.2 L1830.3,1250.0 L1831.2,1246.6 L1832.0,1242.9 L1832.8,1236.4 L1833.7,1233.3 L1834.5,1232.9 L1835.3,1230.6 L1836.2,1234.1 L1837.0,1233.1 L1837.8,1230.8 L1838.6,1233.3 L1839.5,1239.7 L1840.3,1240.0 L1841.2,1252.2 L1842.0,1263.3 L1842.8,1254.6 L1843.7,1251.9 L1844.5,1244.6 L1845.3,1238.3 L1846.2,1258.9 L1847.0,1278.3 L1847.8,1275.3 L1848.7,1270.1 L1849.5,1268.7 L1850.3,1263.3 L1851.2,1246.7 L1852.0,1230.0 L1852.8,1230.8 L1853.7,1226.9 L1854.5,1224.2 L1855.3,1225.0 L1856.1,1225.8 L1857.0,1223.1 L1857.8,1219.6 L1858.7,1220.7 L1859.5,1220.0 L1860.3,1221.7 L1861.2,1226.7 L1862.0,1226.9 L1862.9,1232.4 L1863.7,1233.3 L1864.5,1245.6 L1865.3,1260.0 L1866.1,1265.9 L1867.0,1267.8 L1867.8,1273.3 L1868.7,1270.3 L1869.5,1271.0 L1870.3,1267.8 L1871.2,1266.7 L1872.0,1250.8 L1872.8,1233.3 L1873.5,1226.8 L1874.3,1223.6 L1875.0,1220.0 L1875.7,1228.9 L1876.4,1241.0 L1877.1,1247.5 L1877.8,1256.7 L1878.5,1258.5 L1879.2,1260.5 L1880.0,1270.8 L1880.7,1271.7 L1881.5,1267.8 L1882.2,1262.6 L1883.0,1262.0 L1883.7,1256.7 L1884.5,1246.4 L1885.4,1237.1 L1886.2,1223.3 L1887.0,1221.0 L1887.8,1218.7 L1888.7,1218.5 L1889.5,1213.3 L1890.3,1213.3 L1891.2,1209.0 L1892.0,1203.7 L1892.8,1200.4 L1893.7,1196.7 L1894.5,1193.9 L1895.3,1192.6 L1896.2,1191.8 L1897.0,1191.7 L1897.8,1194.5 L1898.7,1195.7 L1899.5,1197.8 L1900.3,1200.0 L1901.2,1208.1 L1902.0,1215.0 L1902.8,1205.4 L1903.7,1194.6 L1904.5,1186.3 L1905.3,1173.3 L1906.1,1170.1 L1907.0,1167.8 L1907.8,1164.2 L1908.7,1165.7 L1909.5,1170.3 L1910.3,1172.6 L1911.2,1173.3 L1912.0,1172.5 L1912.8,1177.2 L1913.7,1174.5 L1914.5,1178.1 L1915.3,1178.3 L1916.2,1196.6 L1917.0,1215.0 L1917.7,1223.1 L1918.3,1232.7 L1919.0,1243.3 L1919.8,1234.1 L1920.5,1228.4 L1921.2,1213.7 L1922.0,1206.7 L1922.8,1200.5 L1923.7,1194.1 L1924.5,1188.3 L1925.3,1187.4 L1926.2,1188.5 L1927.0,1188.7 L1927.9,1185.1 L1928.7,1185.0 L1929.5,1193.4 L1930.4,1200.0 L1931.2,1208.3 L1932.0,1206.5 L1932.8,1199.8 L1933.7,1197.3 L1934.5,1191.8 L1935.3,1188.3 L1936.0,1187.1 L1936.6,1183.0 L1937.3,1180.8 L1938.0,1188.2 L1938.8,1200.2 L1939.5,1203.0 L1940.3,1214.2 L1941.1,1207.0 L1942.0,1197.4 L1942.8,1190.0 L1943.6,1186.2 L1944.5,1187.4 L1945.3,1181.7 L1946.1,1180.7 L1947.0,1179.5 L1947.8,1178.1 L1948.6,1179.0 L1949.5,1177.4 L1950.3,1176.7 L1951.2,1181.4 L1952.0,1185.9 L1952.8,1193.8 L1953.7,1196.7 L1954.5,1187.7 L1955.4,1178.7 L1956.2,1170.0 L1957.0,1167.6 L1957.8,1167.6 L1958.7,1168.6 L1959.5,1165.4 L1960.3,1165.8 L1961.1,1168.1 L1962.0,1167.9 L1962.8,1170.1 L1963.6,1171.1 L1964.5,1171.4 L1965.3,1173.3 L1965.8,1166.5 L1966.2,1160.0 L1967.0,1159.0 L1967.9,1158.9 L1968.7,1160.1 L1969.5,1156.7 L1970.4,1153.4 L1971.2,1154.2 L1972.0,1158.6 L1972.8,1155.7 L1973.7,1156.9 L1974.5,1159.2 L1975.3,1160.0 L1976.2,1174.9 L1977.0,1190.0 L1977.8,1194.5 L1978.7,1198.3 L1979.5,1195.3 L1980.3,1192.5 L1981.2,1191.2 L1982.0,1186.7 L1982.8,1173.6 L1983.7,1156.7 L1984.5,1155.9 L1985.4,1157.5 L1986.2,1155.8 L1987.0,1155.8 L1987.9,1153.9 L1988.7,1153.3 L1989.5,1151.5 L1990.3,1150.1 L1991.2,1145.6 L1992.0,1145.0 L1992.8,1150.4 L1993.7,1153.5 L1994.5,1161.5 L1995.3,1165.0 L1996.2,1171.2 L1997.0,1178.3 L1997.8,1183.2 L1998.7,1190.0 L1999.4,1196.2 L2000.1,1205.1 L2000.8,1210.8 L2001.5,1204.8 L2002.2,1200.3 L2003.0,1195.3 L2003.7,1190.0 L2004.5,1173.9 L2005.3,1156.7 L2005.0,1136.7 L2005.8,1128.3 L2006.7,1120.0 L2007.5,1118.0 L2008.3,1117.6 L2009.2,1119.6 L2010.0,1116.6 L2010.8,1116.7 L2011.6,1113.2 L2012.5,1108.9 L2013.3,1106.7 L2014.1,1104.2 L2015.0,1099.2 L2015.8,1095.0 L2016.6,1100.3 L2017.5,1105.1 L2018.3,1113.3 L2019.1,1126.6 L2020.0,1133.2 L2020.8,1145.0 L2021.7,1116.2 L2022.5,1090.0 L2023.1,1089.3 L2023.7,1089.2 L2024.5,1097.3 L2025.2,1108.2 L2026.0,1116.6 L2026.7,1126.7 L2027.5,1114.2 L2028.4,1105.6 L2029.2,1093.3 L2030.0,1096.0 L2030.8,1099.2 L2031.7,1106.2 L2032.5,1108.4 L2033.3,1113.3 L2034.2,1122.9 L2035.0,1135.0 L2035.8,1120.3 L2036.7,1108.9 L2037.5,1096.7 L2038.3,1092.7 L2039.2,1089.5 L2040.0,1086.1 L2040.8,1083.3 L2041.6,1083.7 L2042.5,1081.6 L2043.3,1079.2 L2044.2,1081.3 L2045.0,1083.6 L2045.8,1084.1 L2046.7,1086.7 L2047.5,1118.3 L2048.3,1109.5 L2049.2,1105.2 L2050.0,1098.7 L2050.8,1090.0 L2051.6,1098.2 L2052.5,1108.2 L2053.3,1118.3 L2054.2,1111.3 L2055.0,1104.2 L2055.8,1100.6 L2056.7,1093.3 L2057.5,1097.1 L2058.3,1106.3 L2059.2,1111.3 L2060.0,1115.0 L2060.8,1109.8 L2061.7,1105.0 L2062.5,1098.9 L2063.3,1095.0 L2064.1,1102.5 L2065.0,1107.0 L2065.8,1113.3 L2066.6,1106.2 L2067.5,1102.1 L2068.3,1098.6 L2069.2,1091.9 L2070.0,1087.5 L2070.8,1090.9 L2071.7,1093.1 L2072.5,1097.4 L2073.3,1098.3 L2074.1,1105.6 L2075.0,1115.4 L2075.8,1121.7 L2076.6,1118.5 L2077.5,1114.5 L2078.3,1107.9 L2079.2,1104.9 L2080.0,1100.0 L2080.8,1110.3 L2081.7,1113.3 L2082.5,1120.6 L2083.3,1128.3 L2084.2,1132.8 L2085.0,1136.7 L2085.8,1128.1 L2086.7,1121.9 L2087.5,1115.3 L2088.4,1108.4 L2089.2,1101.7 L2090.0,1109.2 L2090.9,1112.2 L2091.7,1120.0 L2092.5,1127.3 L2093.4,1134.8 L2094.2,1141.7 L2095.0,1137.9 L2095.9,1136.1 L2096.7,1131.7 L2097.5,1138.3 L2098.4,1137.5 L2099.2,1143.3 L2100.0,1170.0 L2100.8,1185.9 L2101.7,1203.3 L2102.5,1213.9 L2103.4,1225.0 L2104.2,1236.7 L2105.0,1223.8 L2105.8,1212.7 L2106.7,1201.8 L2107.5,1190.1 L2108.3,1175.0 L2109.1,1183.0 L2110.0,1189.8 L2110.8,1203.5 L2111.7,1209.2 L2112.5,1218.3 L2113.3,1205.1 L2114.2,1194.3 L2115.0,1180.0 L2115.8,1153.3 L2116.6,1147.5 L2117.5,1142.5 L2118.3,1136.2 L2119.2,1133.4 L2120.0,1126.7 L2120.8,1122.5 L2121.7,1115.4 L2122.5,1111.2 L2123.3,1106.7 L2124.2,1118.4 L2125.0,1125.4 L2125.8,1136.4 L2126.7,1146.7 L2127.5,1139.1 L2128.3,1133.2 L2129.2,1127.8 L2130.0,1120.0 L2130.8,1116.1 L2131.5,1113.8 L2132.2,1109.2 L2133.0,1105.0 L2133.7,1105.1 L2134.5,1110.8 L2135.2,1112.8 L2136.0,1113.7 L2136.7,1118.3 L2137.5,1135.6 L2138.3,1150.0 L2139.2,1140.5 L2140.0,1131.1 L2140.8,1123.3 L2141.7,1113.3 L2142.5,1122.2 L2143.4,1129.6 L2144.2,1136.7 L2145.0,1170.0 L2145.8,1185.8 L2146.7,1203.3 L2147.5,1211.2 L2148.4,1222.1 L2149.2,1226.7 L2150.0,1211.0 L2150.9,1200.6 L2151.7,1186.7 L2152.5,1196.1 L2153.3,1207.7 L2154.2,1215.6 L2155.0,1224.9 L2155.8,1234.2 L2156.6,1221.3 L2157.5,1210.9 L2158.3,1196.7 L2159.2,1189.8 L2160.0,1183.3 L2160.8,1176.9 L2161.7,1170.0 L2162.5,1162.5 L2163.3,1153.3 L2164.2,1146.5 L2165.0,1140.4 L2165.8,1134.3 L2166.7,1126.7 L2167.5,1124.6 L2168.3,1124.6 L2169.2,1123.8 L2170.0,1123.6 L2170.8,1121.7 L2171.6,1127.8 L2172.5,1132.0 L2173.3,1138.3 L2174.1,1129.9 L2175.0,1123.7 L2175.8,1116.7 L2176.6,1112.2 L2177.5,1110.2 L2178.3,1105.0 L2179.2,1110.1 L2180.0,1114.1 L2180.8,1117.3 L2181.7,1123.3 L2182.5,1127.7 L2183.3,1135.0 L2184.1,1137.9 L2185.0,1140.7 L2185.8,1142.8 L2186.7,1144.6 L2187.5,1147.5 L2188.3,1145.6 L2189.2,1139.4 L2190.0,1141.4 L2190.8,1136.7 L2191.6,1132.1 L2192.5,1124.4 L2193.3,1118.3 L2194.2,1119.9 L2195.0,1120.5 L2195.8,1123.3 L2196.7,1123.3 L2197.5,1132.7 L2198.3,1144.5 L2199.2,1156.5 L2200.0,1166.7 L2200.8,1141.4 L2201.7,1120.0 L2202.5,1111.0 L2203.4,1100.4 L2204.2,1090.0 L2205.0,1088.2 L2205.8,1086.0 L2206.7,1087.4 L2207.5,1083.3 L2208.3,1086.7 L2209.2,1092.9 L2210.0,1098.1 L2210.8,1101.7 L2211.6,1098.2 L2212.3,1096.4 L2213.1,1091.4 L2213.8,1088.8 L2214.6,1085.0 L2215.3,1081.7 L2216.1,1083.9 L2216.9,1083.3 L2217.6,1087.0 L2218.4,1088.0 L2219.2,1088.3 L2220.0,1087.5 L2220.8,1087.5 L2221.7,1087.9 L2222.5,1088.9 L2223.3,1090.0 L2224.2,1106.0 L2225.0,1120.0 L2225.8,1114.5 L2226.7,1111.6 L2227.5,1105.3 L2228.3,1098.3 L2229.2,1099.7 L2230.0,1105.8 L2230.8,1109.2 L2231.7,1113.3 L2232.5,1113.0 L2233.3,1108.9 L2234.2,1106.9 L2235.0,1103.3 L2235.8,1107.0 L2236.7,1116.2 L2237.5,1118.3 L2238.3,1118.1 L2239.2,1122.4 L2240.0,1122.5 L2240.9,1124.8 L2241.7,1127.5 L2242.5,1095.0 L2243.3,1071.7 L2244.1,1069.7 L2245.0,1065.4 L2245.8,1065.3 L2246.6,1062.1 L2247.5,1059.2 L2248.3,1056.7 L2249.2,1054.6 L2250.0,1052.1 L2250.8,1049.1 L2251.7,1045.0 L2252.5,1028.3 L2253.3,1023.1 L2254.2,1022.5 L2255.0,1018.7 L2255.9,1013.6 L2256.7,1010.8 L2257.5,1011.6 L2258.3,1014.8 L2259.2,1014.9 L2260.0,1015.6 L2260.8,1016.7 L2261.6,1021.2 L2262.5,1022.8 L2263.3,1026.7 L2264.1,1026.3 L2265.0,1031.3 L2265.8,1032.5 L2266.7,1019.2 L2267.5,1011.7 L2268.3,1015.2 L2269.2,1021.4 L2270.0,1021.2 L2270.8,1026.7 L2271.7,1013.5 L2272.5,1000.0 L2273.3,988.7 L2274.2,978.3 L2275.0,976.9 L2275.8,975.5 L2276.7,973.9 L2277.5,970.0 L2278.2,965.6 L2279.0,962.7 L2279.7,958.3 L2280.4,962.6 L2281.1,966.3 L2281.8,967.8 L2282.5,971.7 L2283.3,972.5 L2284.2,967.5 L2285.0,968.3 L2285.8,972.9 L2286.7,973.8 L2287.5,979.3 L2288.3,983.3 L2289.2,984.8 L2290.0,990.8 L2290.8,992.5 L2291.7,993.3 L2292.5,995.7 L2293.3,996.7 L2294.2,995.8 L2295.0,1000.0 L2295.8,981.7 L2296.7,966.7 L2297.5,968.1 L2298.3,969.2 L2299.2,969.7 L2300.0,970.0 L2300.8,973.6 L2301.7,978.5 L2302.5,984.8 L2303.4,991.4 L2304.2,993.3 L2305.0,984.8 L2305.9,975.4 L2306.7,966.7 L2307.5,964.1 L2308.3,962.3 L2309.2,959.5 L2310.0,956.7 L2310.8,951.0 L2311.7,951.6 L2312.5,945.6 L2313.3,941.7 L2314.1,945.4 L2315.0,947.0 L2315.8,952.3 L2316.7,954.7 L2317.5,956.7 L2318.3,951.6 L2319.2,950.3 L2320.0,943.5 L2320.9,938.6 L2321.7,936.7 L2322.5,940.3 L2323.3,939.3 L2324.2,942.5 L2325.0,945.0 L2325.8,934.4 L2326.7,926.3 L2327.5,916.7 L2328.2,914.6 L2328.9,913.7 L2329.6,912.2 L2330.3,910.0 L2331.1,916.1 L2331.9,918.5 L2332.7,923.1 L2333.4,927.2 L2334.2,931.8 L2335.0,935.0 L2335.8,926.8 L2336.7,916.7 L2337.5,920.5 L2338.3,922.5 L2339.2,926.7 L2340.0,931.9 L2340.8,935.0 L2341.6,921.7 L2342.5,909.0 L2343.3,896.7 L2344.1,898.1 L2345.0,899.9 L2345.8,904.3 L2346.7,905.4 L2347.5,906.7 L2348.3,892.4 L2349.2,881.7 L2350.0,881.3 L2350.8,879.6 L2351.7,878.1 L2352.5,879.2 L2353.3,876.7 L2354.2,851.7 L2355.0,850.1 L2355.8,848.4 L2356.7,845.5 L2357.5,846.4 L2358.3,843.3 L2359.1,846.3 L2360.0,849.7 L2360.8,851.3 L2361.7,857.4 L2362.5,858.3 L2363.3,847.8 L2364.2,845.2 L2365.0,840.0 L2365.8,803.3 L2366.6,802.7 L2367.5,804.7 L2368.3,806.2 L2369.2,808.2 L2370.0,810.0 L2370.8,792.6 L2371.7,776.7 L2372.5,777.6 L2373.4,779.1 L2374.2,778.3 L2375.0,777.9 L2375.9,777.6 L2376.7,778.3 L2377.5,763.5 L2378.3,746.7 L2379.1,740.2 L2380.0,727.8 L2380.8,721.7 L2381.7,716.5 L2382.5,701.7 L2383.3,689.0 L2384.2,678.3 L2384.9,679.1 L2385.6,675.0 L2386.3,675.8 L2387.0,688.7 L2387.6,697.5 L2388.3,710.0 L2389.2,776.7 L2390.0,833.3 L2390.8,818.6 L2391.7,798.4 L2392.5,778.8 L2393.3,760.0 L2394.1,752.6 L2395.0,741.1 L2395.8,733.3 L2396.6,740.2 L2397.5,754.4 L2398.3,760.0 L2397.5,803.3 L2398.3,788.8 L2399.2,781.1 L2400.0,768.0 L2400.8,760.0 L2401.7,784.3 L2402.5,810.0 L2403.1,832.2 L2403.7,855.0 L2404.5,850.4 L2405.2,842.2 L2406.0,839.3 L2406.7,829.8 L2407.5,826.7 L2408.3,817.4 L2409.2,808.2 L2410.0,801.5 L2410.8,791.7 L2411.6,799.3 L2412.5,800.6 L2413.3,810.0 L2414.2,818.7 L2415.0,827.8 L2415.8,833.4 L2416.7,841.7 L2417.5,830.6 L2418.4,816.1 L2419.2,801.7 L2420.0,797.7 L2420.8,791.5 L2421.7,788.7 L2422.5,785.0 L2423.3,797.1 L2424.2,803.4 L2425.0,813.9 L2425.8,825.0 L2426.7,807.1 L2427.5,790.0 L2428.3,783.4 L2429.2,773.3 L2430.0,778.1 L2430.8,781.4 L2431.7,787.9 L2432.5,793.3 L2433.3,816.0 L2434.2,836.7 L2435.0,832.7 L2435.8,827.7 L2436.7,821.0 L2437.5,815.9 L2438.3,810.0 L2439.2,798.6 L2440.0,790.0 L2440.8,783.3 L2441.7,775.8 L2442.5,771.4 L2443.3,765.0 L2444.1,764.5 L2445.0,763.0 L2445.8,760.8 L2446.7,762.0 L2447.5,760.0 L2448.3,769.3 L2449.2,778.1 L2450.0,785.0 L2450.8,771.4 L2451.7,761.3 L2452.5,753.3 L2453.3,742.8 L2454.2,734.2 L2455.0,737.9 L2455.8,741.0 L2456.7,743.4 L2457.5,745.4 L2458.3,748.3 L2459.1,733.1 L2460.0,716.8 L2460.8,701.7 L2461.6,700.3 L2462.5,699.4 L2463.3,702.5 L2464.1,698.2 L2465.0,699.8 L2465.8,698.3 L2466.6,705.0 L2467.5,711.6 L2468.3,716.7 L2467.5,791.7 L2468.3,796.0 L2469.2,802.1 L2470.0,807.8 L2470.8,810.0 L2471.7,812.9 L2472.5,817.9 L2473.3,821.3 L2474.2,826.7 L2475.0,803.6 L2475.8,779.3 L2476.7,758.7 L2477.5,735.0 L2478.3,769.1 L2479.2,803.1 L2480.0,835.0 L2480.8,827.5 L2481.7,812.6 L2482.5,804.5 L2483.3,793.3 L2484.1,780.0 L2484.8,771.4 L2485.6,759.7 L2486.3,748.3 L2486.9,780.1 L2487.5,810.0 L2488.3,826.3 L2489.2,840.8 L2490.0,860.0 L2490.8,899.7 L2491.7,933.3 L2492.5,964.2 L2493.3,945.2 L2494.2,924.8 L2495.0,910.0 L2495.8,889.7 L2496.7,879.1 L2497.5,860.0 L2498.3,836.7 L2499.2,826.0 L2500.0,805.0 L2500.8,809.9 L2501.7,809.0 L2502.5,811.9 L2503.4,812.7 L2504.2,813.3 L2505.0,770.0 L2505.8,772.3 L2506.7,778.9 L2507.5,777.2 L2508.4,788.5 L2509.2,790.0 L2510.0,743.3 L2510.7,741.8 L2511.4,738.5 L2512.1,738.1 L2512.8,733.3 L2513.6,742.4 L2514.3,749.2 L2515.1,767.4 L2515.8,773.3 L2516.6,772.4 L2517.5,771.3 L2518.3,771.3 L2519.2,771.3 L2520.0,771.7 L2520.8,761.7 L2521.7,749.1 L2522.5,740.9 L2523.3,730.0 L2524.2,732.8 L2525.0,737.6 L2525.8,739.4 L2526.7,743.3 L2527.5,739.1 L2528.3,731.7 L2529.2,728.5 L2530.0,722.1 L2530.8,717.5 L2531.7,722.9 L2532.5,725.6 L2533.3,730.6 L2534.2,733.3 L2535.0,753.0 L2535.9,773.8 L2536.7,795.0 L2537.5,788.0 L2538.3,779.5 L2539.2,773.7 L2540.0,766.7 L2540.7,779.5 L2541.5,787.6 L2542.2,800.3 L2543.0,812.1 L2543.7,823.3 L2544.4,809.4 L2545.2,794.0 L2545.9,774.7 L2546.7,760.0 L2547.5,747.4 L2548.4,735.9 L2549.2,723.3 L2550.0,724.7 L2550.8,725.6 L2551.7,731.6 L2552.5,732.9 L2553.3,735.0 L2554.2,722.8 L2555.0,710.0 L2555.8,701.9 L2556.7,692.5 L2557.5,692.5 L2558.3,691.3 L2559.2,693.0 L2560.0,691.6 L2560.8,691.7 L2561.6,698.1 L2562.5,702.4 L2563.3,710.0 L2564.2,776.7 L2564.9,781.0 L2565.6,784.5 L2566.3,787.6 L2567.0,792.5 L2567.8,790.3 L2568.5,789.1 L2569.3,788.1 L2570.0,785.7 L2570.8,785.0 L2571.6,769.9 L2572.5,757.5 L2573.3,743.3 L2574.2,731.0 L2575.0,722.8 L2575.8,710.2 L2576.7,700.8 L2577.5,703.0 L2578.3,706.6 L2579.2,704.2 L2580.0,708.4 L2580.8,711.7 L2581.5,728.2 L2582.3,745.5 L2583.0,762.5 L2583.7,760.3 L2584.5,759.2 L2585.2,758.4 L2586.0,756.8 L2586.7,756.7 L2585.8,711.7 L2586.6,714.7 L2587.5,716.1 L2588.3,719.7 L2589.2,722.4 L2590.0,725.0 L2590.8,722.5 L2591.7,717.4 L2592.5,715.0 L2593.3,683.3 L2594.1,679.6 L2595.0,677.3 L2595.8,670.4 L2596.7,670.7 L2597.5,666.7 L2598.3,668.7 L2599.2,674.7 L2600.0,676.7 L2600.8,679.6 L2601.5,682.8 L2602.2,688.7 L2603.0,690.8 L2603.7,676.4 L2604.4,662.8 L2605.1,650.9 L2605.8,636.7 L2606.6,630.1 L2607.5,629.0 L2608.3,625.5 L2609.2,618.9 L2610.0,616.7 L2610.8,625.9 L2611.7,626.7 L2612.5,632.8 L2613.3,640.0 L2614.1,620.6 L2615.0,616.6 L2615.8,596.7 L2616.7,597.5 L2617.5,592.5 L2618.3,601.1 L2619.2,614.5 L2620.0,623.3 L2620.8,634.1 L2621.7,657.5 L2622.5,638.7 L2623.4,617.8 L2624.2,596.7 L2624.9,591.5 L2625.5,589.3 L2626.2,587.5 L2626.9,591.4 L2627.6,593.6 L2628.3,600.0 L2629.2,618.5 L2630.0,646.7 L2630.8,718.3 L2631.6,742.2 L2632.5,761.5 L2633.3,780.0 L2634.1,803.6 L2635.0,826.4 L2635.8,846.7 L2636.7,907.8 L2637.5,963.3 L2638.2,1011.8 L2639.0,1055.0 L2639.7,1113.3 L2640.2,1064.6 L2640.8,1013.3 L2641.7,980.0 L2642.5,971.6 L2643.3,964.2 L2644.2,963.4 L2645.0,955.0 L2645.8,943.0 L2646.7,935.3 L2647.5,938.2 L2648.3,921.7 L2649.1,889.3 L2650.0,863.8 L2650.8,833.3 L2651.7,866.6 L2652.5,896.7 L2653.3,887.1 L2654.2,873.8 L2655.0,863.3 L2655.8,848.4 L2656.7,829.3 L2657.5,813.3 L2658.3,789.8 L2659.2,768.3 L2660.0,746.7 L2660.8,732.5 L2661.7,715.9 L2662.5,699.0 L2663.3,681.7 L2664.1,692.8 L2665.0,714.2 L2665.8,730.0 L2666.6,738.8 L2667.5,742.9 L2668.3,751.7 L2669.2,789.3 L2670.0,823.3 L2670.8,793.3 L2671.7,763.3 L2672.5,757.5 L2673.3,736.2 L2674.2,736.7 L2675.0,725.0 L2675.8,725.8 L2676.7,723.2 L2677.5,718.0 L2678.3,718.3 L2679.1,733.0 L2680.0,747.2 L2680.8,763.3 L2681.6,736.0 L2682.5,707.6 L2683.3,676.7 L2684.2,667.0 L2685.0,665.5 L2685.8,654.9 L2686.7,646.7 L2687.5,634.1 L2688.3,635.1 L2689.2,628.7 L2690.0,623.3 L2690.8,620.0 L2691.7,620.8 L2692.5,628.0 L2693.3,633.4 L2694.2,640.0 L2695.0,646.7 L2695.8,670.9 L2696.7,696.7 L2697.5,689.4 L2698.4,677.9 L2699.2,673.8 L2700.0,657.3 L2700.9,656.4 L2701.7,646.7 L2702.5,641.6 L2703.4,639.2 L2704.2,636.7 L2705.0,652.2 L2705.9,663.3 L2706.7,680.0 L2707.5,663.7 L2708.3,664.0 L2709.2,659.9 L2710.0,652.5 L2710.8,646.7 L2711.7,610.0 L2712.5,594.5 L2713.3,581.7 L2714.1,578.2 L2715.0,580.8 L2715.8,576.2 L2716.7,571.8 L2717.5,571.2 L2718.3,575.0 L2719.2,569.6 L2720.0,568.3 L2720.8,568.5 L2721.7,566.0 L2722.5,565.9 L2723.3,562.3 L2724.2,560.4 L2725.0,559.5 L2725.9,559.2 L2726.7,560.0 L2727.5,558.5 L2728.3,545.8 L2729.2,537.5 L2730.0,530.0 L2730.0,525.0 L2730.8,522.6 L2731.7,515.9 L2732.5,522.2 L2733.3,516.7 L2734.2,506.4 L2735.0,512.8 L2735.8,501.7 L2736.7,500.0 L2737.5,495.0 L2738.3,500.8 L2739.2,492.7 L2740.0,495.8 L2740.8,494.3 L2741.7,490.9 L2742.5,495.0 L2743.3,491.7 L2744.1,486.1 L2745.0,490.1 L2745.8,485.2 L2746.6,492.5 L2747.5,486.0 L2748.3,490.9 L2749.1,482.5 L2750.0,485.5 L2750.8,483.3 L2751.6,472.0 L2752.5,457.7 L2753.3,445.0 L2754.2,454.2 L2755.0,468.7 L2755.8,475.4 L2756.7,485.0 L2757.5,459.3 L2758.3,433.3 L2759.2,425.9 L2760.0,413.3 L2760.8,398.7 L2761.7,400.8 L2762.5,396.7 L2763.3,397.5 L2764.2,394.5 L2765.0,395.1 L2765.9,394.2 L2766.7,395.0 L2767.5,406.4 L2768.4,422.7 L2769.2,430.0 L2770.0,410.9 L2770.9,394.0 L2771.7,380.0 L2772.5,441.7 L2773.3,436.3 L2774.2,435.1 L2775.0,424.0 L2775.9,417.1 L2776.7,416.7 L2777.5,412.9 L2778.3,404.4 L2779.2,401.2 L2780.0,395.0 L2780.8,413.4 L2781.7,440.4 L2782.5,466.7 L2783.3,456.2 L2784.2,447.9 L2785.0,442.0 L2785.9,429.9 L2786.7,416.7 L2787.5,416.3 L2788.3,412.4 L2789.2,409.5 L2790.0,404.8 L2790.8,400.0 L2791.6,400.0 L2792.5,395.1 L2793.3,393.8 L2794.2,397.7 L2795.0,391.7 L2795.8,385.8 L2796.7,388.0 L2797.5,387.0 L2798.3,386.8 L2799.2,382.5 L2800.0,383.3 L2800.8,380.5 L2801.5,377.3 L2802.2,375.9 L2803.0,375.8 L2803.7,381.1 L2804.4,398.6 L2805.1,388.8 L2805.8,400.0 L2806.6,412.2 L2807.5,401.0 L2808.3,411.7 L2809.2,412.8 L2810.0,416.7 L2810.8,417.4 L2811.7,412.5 L2812.5,409.4 L2813.3,410.0 L2814.2,408.9 L2815.0,408.3 L2815.8,407.5 L2816.7,411.7 L2817.5,412.7 L2818.3,409.1 L2819.2,412.1 L2820.0,416.7 L2820.8,407.6 L2821.7,388.6 L2822.5,380.0 L2823.3,382.6 L2824.2,386.4 L2825.0,390.3 L2825.9,398.0 L2826.7,400.0 L2827.5,397.5 L2828.4,400.8 L2829.2,389.2 L2830.0,390.5 L2830.9,383.6 L2831.7,383.3 L2832.5,401.6 L2833.4,407.4 L2834.2,426.1 L2835.0,442.0 L2835.8,466.0 L2836.7,477.1 L2837.5,486.7 L2838.3,474.6 L2839.2,450.9 L2840.0,430.0 L2840.9,420.0 L2841.7,400.0 L2842.5,397.3 L2843.4,386.2 L2844.2,390.1 L2845.0,382.6 L2845.9,366.0 L2846.7,366.7 L2847.5,364.7 L2848.3,361.9 L2849.2,360.1 L2850.0,358.3 L2850.8,356.7 L2851.6,365.8 L2852.5,373.6 L2853.3,383.3 L2854.2,399.9 L2855.0,396.9 L2855.8,405.1 L2856.7,416.7 L2857.5,420.8 L2858.3,420.3 L2859.2,415.9 L2860.0,417.3 L2860.8,420.0 L2861.7,432.6 L2862.5,450.0 L2863.3,465.9 L2864.2,491.6 L2865.0,516.7 L2865.8,524.2 L2866.7,523.2 L2867.5,533.3 L2868.3,516.8 L2869.2,499.1 L2870.0,483.3 L2870.8,477.5 L2871.7,476.8 L2872.5,471.0 L2873.3,466.7 L2874.1,476.1 L2875.0,478.1 L2875.8,481.4 L2876.6,494.6 L2877.5,494.3 L2878.3,500.0 L2879.1,499.1 L2880.0,495.6 L2880.8,491.3 L2881.6,487.3 L2882.5,492.0 L2883.3,485.0 L2884.2,493.9 L2885.0,508.8 L2885.8,524.1 L2886.7,533.3 L2887.5,549.2 L2888.4,559.5 L2889.2,573.3 L2890.0,593.0 L2890.8,600.0 L2891.6,597.7 L2892.5,600.8 L2893.3,600.8 L2894.2,598.6 L2895.0,597.5 L2895.9,600.8 L2896.7,597.5 L2897.5,600.6 L2898.3,619.3 L2899.1,626.4 L2899.9,638.9 L2900.7,643.3 L2901.5,655.2 L2902.3,660.3 L2903.2,669.8 L2904.0,676.7 L2904.8,713.4 L2905.7,756.7 L2906.5,739.1 L2907.3,713.8 L2908.2,693.0 L2909.0,676.7 L2909.8,673.4 L2910.7,661.9 L2911.5,646.7 L2912.3,638.3 L2913.1,635.5 L2914.0,637.6 L2914.8,620.6 L2915.7,628.3 L2916.5,618.3 L2917.3,608.4 L2918.0,605.1 L2918.8,594.1 L2919.5,591.8 L2920.3,579.2 L2921.0,584.0 L2921.8,582.5 L2922.5,589.7 L2923.3,589.9 L2924.0,590.0 L2924.8,606.5 L2925.7,615.0 L2926.5,633.4 L2927.3,660.0 L2928.2,660.8 L2929.0,657.7 L2929.8,658.5 L2930.7,656.7 L2931.5,669.9 L2932.3,693.3 L2933.2,713.7 L2934.0,716.6 L2934.8,732.6 L2935.7,743.3 L2936.4,761.3 L2937.0,788.1 L2937.7,810.0 L2938.4,793.8 L2939.2,777.0 L2939.9,756.6 L2940.7,743.3 L2941.5,716.8 L2942.3,686.7 L2943.2,684.2 L2944.0,687.5 L2944.8,682.5 L2945.7,683.3 L2944.8,667.9 L2944.0,643.3 L2944.8,630.0 L2945.7,622.3 L2946.5,617.9 L2947.3,606.7 L2948.2,607.5 L2949.0,606.9 L2949.8,604.2 L2950.7,605.0 L2951.5,594.5 L2952.3,585.0 L2953.1,575.8 L2954.0,576.3 L2954.8,565.8 L2955.7,565.0 L2956.5,574.5 L2957.3,579.5 L2958.2,588.3 L2959.0,616.7 L2959.8,605.6 L2960.7,590.0 L2961.5,595.4 L2962.4,614.7 L2963.2,621.7 L2962.5,625.5 L2961.7,636.7 L2961.0,650.0 L2961.8,647.1 L2962.5,641.6 L2963.3,634.7 L2964.0,635.7 L2964.8,626.7 L2965.7,641.7"/><path id="lb" d="M292.5,1200.8 L293.4,1204.1 L294.2,1203.3 L295.0,1202.5 L295.8,1206.9 L296.7,1206.4 L297.5,1209.1 L298.3,1208.3 L299.1,1214.2 L300.0,1228.3 L300.8,1303.3 L301.6,1279.2 L302.5,1253.7 L303.3,1231.7 L304.1,1245.4 L305.0,1262.2 L305.8,1280.0 L306.6,1264.6 L307.5,1250.6 L308.3,1236.7 L309.1,1249.0 L310.0,1267.4 L310.9,1278.7 L311.7,1295.0 L312.5,1267.0 L313.4,1259.7 L314.2,1235.0 L315.0,1241.4 L315.9,1250.1 L316.7,1260.0 L317.5,1253.5 L318.4,1245.4 L319.2,1237.6 L320.0,1230.0 L320.8,1235.3 L321.6,1245.9 L322.5,1248.3 L323.3,1260.0 L324.1,1257.5 L325.0,1241.6 L325.8,1239.1 L326.6,1231.7 L327.5,1225.2 L328.3,1217.5 L329.1,1228.2 L330.0,1241.9 L330.8,1242.3 L331.7,1264.8 L332.5,1275.0 L333.3,1268.3 L334.2,1262.4 L335.0,1261.9 L335.9,1248.7 L336.7,1246.7 L337.5,1240.2 L338.4,1227.7 L339.2,1228.2 L340.0,1220.0 L340.8,1213.4 L341.6,1213.2 L342.5,1220.8 L343.3,1213.3 L344.1,1217.7 L345.0,1221.2 L345.9,1226.0 L346.7,1230.0 L347.5,1229.2 L348.4,1234.4 L349.2,1241.2 L350.0,1243.3 L350.8,1242.5 L351.6,1249.9 L352.5,1245.6 L353.3,1253.3 L354.2,1273.3 L355.0,1293.2 L355.9,1307.6 L356.7,1330.0 L357.5,1320.8 L358.4,1303.0 L359.2,1285.5 L360.0,1273.3 L360.8,1270.0 L361.7,1271.0 L362.5,1271.8 L363.3,1270.0 L364.2,1272.2 L365.0,1270.8 L365.9,1281.6 L366.7,1288.3 L367.5,1303.5 L368.4,1319.3 L369.2,1336.7 L370.0,1339.5 L370.9,1336.8 L371.7,1340.8 L372.5,1340.0 L373.3,1328.4 L374.1,1324.2 L375.0,1308.1 L375.8,1300.0 L376.6,1315.2 L377.5,1336.3 L378.4,1351.7 L379.2,1371.7 L380.0,1367.6 L380.8,1368.1 L381.7,1368.3 L382.5,1362.5 L383.3,1363.3 L384.1,1358.6 L385.0,1351.3 L385.8,1346.7 L386.6,1338.4 L387.5,1333.0 L388.3,1323.3 L389.1,1316.3 L390.0,1319.9 L390.8,1313.5 L391.7,1312.3 L392.5,1309.2 L393.3,1312.4 L394.2,1316.5 L395.0,1321.7 L395.9,1329.3 L396.7,1340.0 L397.5,1348.8 L398.4,1360.6 L399.2,1363.3 L400.0,1369.2 L400.9,1373.9 L401.7,1376.7 L402.5,1383.7 L403.4,1387.2 L404.2,1395.0 L405.0,1402.8 L405.9,1412.1 L406.7,1413.3 L407.5,1414.2 L408.4,1427.3 L409.2,1430.0 L410.0,1443.5 L410.9,1453.5 L411.7,1466.8 L412.5,1476.7 L413.3,1475.1 L414.2,1472.3 L415.0,1464.9 L415.9,1461.7 L416.7,1453.3 L417.5,1441.6 L418.3,1430.0 L417.5,1410.3 L416.7,1386.7 L417.5,1386.0 L418.4,1386.2 L419.2,1383.5 L420.0,1386.4 L420.9,1387.1 L421.7,1383.3 L422.5,1386.0 L423.4,1391.9 L424.2,1395.0 L425.0,1388.4 L425.7,1379.0 L426.5,1373.9 L427.2,1363.7 L428.0,1355.8 L428.7,1358.4 L429.3,1364.6 L430.0,1371.7 L430.8,1374.6 L431.7,1374.1 L432.5,1375.8 L433.4,1374.4 L434.2,1375.0 L435.0,1385.4 L435.8,1395.0 L436.6,1401.5 L437.5,1416.7 L438.3,1417.4 L439.2,1405.9 L440.0,1409.0 L440.9,1398.2 L441.7,1398.3 L442.5,1404.5 L443.4,1413.3 L444.2,1420.0 L445.0,1422.9 L445.9,1426.7 L446.7,1435.1 L447.5,1436.7 L448.3,1432.2 L449.2,1426.1 L450.0,1418.6 L450.9,1412.0 L451.7,1408.3 L452.5,1412.9 L453.4,1418.2 L454.2,1425.0 L455.0,1426.4 L455.9,1429.4 L456.7,1427.9 L457.5,1430.0 L458.3,1429.2 L459.2,1430.0 L460.0,1434.1 L460.9,1432.3 L461.7,1433.3 L460.8,1490.0 L461.6,1496.6 L462.5,1502.6 L463.3,1509.4 L464.2,1514.0 L465.0,1520.0 L465.8,1536.4 L466.7,1548.2 L467.5,1560.0 L468.3,1542.3 L469.1,1541.2 L470.0,1537.5 L470.8,1520.0 L471.6,1496.0 L472.5,1481.7 L473.3,1482.0 L474.2,1482.2 L475.0,1478.2 L475.9,1481.3 L476.7,1476.7 L477.5,1479.3 L478.4,1487.5 L479.2,1496.6 L480.0,1503.3 L480.8,1490.3 L481.7,1478.7 L482.5,1470.0 L483.4,1463.6 L484.2,1453.3 L485.0,1451.9 L485.8,1449.9 L486.7,1447.3 L487.5,1447.6 L488.3,1445.0 L489.1,1441.8 L490.0,1437.8 L490.9,1438.6 L491.7,1434.2 L492.5,1445.1 L493.4,1454.8 L494.2,1465.0 L495.0,1464.5 L495.8,1457.1 L496.7,1458.3 L497.5,1454.2 L498.3,1453.3 L499.1,1450.7 L500.0,1441.1 L500.8,1434.2 L501.6,1443.4 L502.5,1444.9 L503.3,1444.1 L504.2,1446.9 L505.0,1453.3 L505.8,1456.2 L506.7,1454.4 L507.5,1456.5 L508.3,1455.0 L509.2,1460.8 L510.0,1460.0 L510.9,1475.9 L511.7,1491.7 L512.5,1492.5 L513.4,1492.3 L514.2,1490.9 L515.0,1490.9 L515.9,1492.1 L516.7,1491.7 L517.5,1478.7 L518.4,1468.2 L519.2,1460.7 L520.0,1446.7 L520.8,1445.1 L521.7,1447.5 L522.5,1443.9 L523.3,1444.9 L524.2,1443.3 L525.0,1441.7 L525.8,1447.1 L526.6,1446.1 L527.5,1456.0 L528.3,1456.7 L529.1,1459.7 L530.0,1461.3 L530.9,1468.4 L531.7,1470.0 L532.5,1478.8 L533.3,1486.7 L534.1,1486.5 L535.0,1481.9 L535.9,1478.5 L536.7,1475.0 L537.6,1481.7 L538.5,1500.3 L539.4,1508.7 L540.3,1516.7 L541.1,1510.9 L541.9,1503.5 L542.6,1498.2 L543.4,1486.3 L544.2,1481.7 L545.0,1488.0 L545.8,1490.0 L546.7,1492.5 L547.5,1500.2 L548.3,1503.3 L549.1,1508.8 L550.0,1516.9 L550.9,1519.6 L551.7,1523.3 L552.5,1520.9 L553.4,1520.9 L554.2,1522.6 L555.0,1521.7 L555.9,1533.6 L556.7,1546.7 L557.5,1545.9 L558.3,1545.9 L559.2,1548.8 L560.0,1546.8 L560.8,1550.0 L561.2,1561.9 L561.7,1575.0 L562.5,1591.2 L563.3,1603.3 L564.0,1622.3 L564.6,1639.7 L565.3,1660.0 L566.1,1654.6 L566.9,1653.3 L567.6,1653.8 L568.4,1644.8 L569.2,1647.4 L570.0,1640.0 L570.8,1619.7 L571.7,1604.5 L572.5,1586.7 L573.3,1581.6 L574.2,1571.4 L575.0,1566.7 L575.8,1579.7 L576.6,1588.6 L577.5,1606.3 L578.3,1616.7 L579.1,1613.8 L580.0,1604.8 L580.9,1602.5 L581.7,1596.7 L582.5,1609.0 L583.4,1618.8 L584.2,1643.6 L585.0,1650.0 L585.8,1653.6 L586.7,1659.0 L587.5,1661.2 L588.3,1664.6 L589.1,1673.0 L590.0,1666.4 L590.8,1675.0 L591.6,1656.2 L592.5,1636.7 L593.4,1619.0 L594.2,1603.3 L595.0,1600.4 L595.8,1599.6 L596.7,1593.4 L597.5,1590.1 L598.3,1590.0 L599.1,1598.0 L600.0,1611.4 L600.8,1620.0 L601.6,1615.4 L602.5,1608.6 L603.3,1604.1 L604.1,1592.7 L605.0,1590.6 L605.8,1581.7 L606.6,1587.0 L607.5,1589.8 L608.3,1593.1 L609.2,1601.2 L610.0,1603.3 L610.8,1603.9 L611.7,1608.0 L612.5,1608.7 L613.3,1617.6 L614.2,1614.8 L615.0,1618.3 L615.8,1612.9 L616.7,1608.9 L617.5,1604.3 L618.3,1600.5 L619.1,1591.9 L620.0,1589.4 L620.8,1586.7 L621.6,1600.2 L622.5,1612.9 L623.4,1620.3 L624.2,1635.0 L625.0,1639.4 L625.7,1640.9 L626.5,1641.3 L627.2,1649.9 L628.0,1653.3 L628.0,1630.0 L628.8,1633.8 L629.6,1644.9 L630.5,1647.8 L631.3,1655.0 L632.1,1652.6 L633.0,1646.8 L633.8,1648.5 L634.6,1640.5 L635.5,1643.9 L636.3,1640.0 L637.1,1649.8 L638.0,1650.9 L638.9,1663.7 L639.7,1668.3 L640.5,1651.7 L641.3,1630.0 L642.1,1621.5 L643.0,1615.0 L643.8,1623.9 L644.6,1627.2 L645.5,1632.7 L646.3,1640.0 L647.1,1633.3 L648.0,1633.5 L648.9,1629.5 L649.7,1630.0 L650.5,1622.5 L651.3,1603.3 L652.1,1601.0 L653.0,1599.7 L653.9,1595.9 L654.7,1596.7 L655.5,1597.5 L656.3,1588.6 L657.2,1593.6 L658.0,1588.9 L658.8,1585.0 L659.6,1588.6 L660.5,1591.1 L661.4,1596.4 L662.2,1600.0 L663.0,1589.1 L663.9,1586.2 L664.7,1579.5 L665.5,1568.3 L666.3,1565.5 L667.1,1562.0 L668.0,1553.9 L668.8,1551.7 L669.5,1551.8 L670.3,1548.4 L671.0,1549.2 L671.7,1552.7 L672.5,1558.9 L673.2,1566.4 L674.0,1564.4 L674.7,1569.2 L675.5,1565.1 L676.4,1556.2 L677.2,1557.3 L678.0,1551.7 L678.8,1550.9 L679.7,1551.3 L680.5,1552.2 L681.3,1557.0 L682.2,1556.1 L683.0,1558.3 L683.8,1564.8 L684.6,1567.0 L685.5,1572.9 L686.3,1577.5 L687.1,1577.2 L688.0,1571.6 L688.8,1568.5 L689.7,1566.5 L690.5,1560.0 L691.3,1557.9 L692.2,1553.8 L693.0,1552.7 L693.9,1549.2 L694.7,1550.0 L695.5,1548.1 L696.3,1543.3 L697.1,1541.1 L698.0,1542.7 L698.8,1541.9 L699.7,1537.5 L700.5,1538.3 L701.3,1544.0 L702.2,1550.6 L703.0,1552.5 L703.9,1559.8 L704.7,1562.5 L705.5,1553.9 L706.4,1545.2 L707.2,1539.3 L708.0,1531.7 L708.8,1530.9 L709.7,1538.7 L710.5,1537.0 L711.4,1544.1 L712.2,1543.3 L713.0,1535.3 L713.9,1535.1 L714.7,1530.1 L715.5,1525.0 L716.3,1526.3 L717.2,1529.8 L718.0,1528.8 L718.8,1530.6 L719.6,1531.8 L720.5,1535.7 L721.3,1538.3 L722.1,1532.4 L723.0,1528.8 L723.9,1522.7 L724.7,1518.3 L725.5,1517.0 L726.4,1516.4 L727.2,1514.3 L728.0,1516.1 L728.9,1516.1 L729.7,1515.0 L730.5,1509.4 L731.4,1507.5 L732.2,1504.6 L733.0,1500.0 L733.8,1496.4 L734.6,1495.5 L735.5,1491.8 L736.3,1490.0 L737.1,1490.8 L738.0,1486.2 L738.9,1483.8 L739.7,1480.0 L740.5,1477.5 L741.2,1478.2 L742.0,1475.2 L742.7,1474.2 L743.4,1479.7 L744.1,1483.3 L744.8,1489.5 L745.5,1494.2 L746.3,1488.7 L747.1,1486.1 L748.0,1483.3 L748.8,1476.7 L749.6,1475.9 L750.5,1477.1 L751.4,1480.1 L752.2,1480.0 L753.0,1481.5 L753.8,1480.7 L754.7,1482.9 L755.5,1483.0 L756.3,1483.3 L756.8,1497.0 L757.2,1510.0 L758.0,1513.0 L758.8,1511.5 L759.7,1515.1 L760.5,1515.4 L761.3,1516.7 L762.1,1508.3 L763.0,1501.7 L763.8,1497.5 L764.7,1489.8 L765.5,1486.7 L766.3,1487.1 L767.2,1492.4 L768.0,1490.9 L768.9,1497.3 L769.7,1496.7 L770.5,1496.9 L771.3,1494.5 L772.2,1493.7 L773.0,1492.5 L773.8,1493.3 L774.2,1508.6 L774.7,1523.3 L775.5,1522.5 L776.3,1527.2 L777.2,1522.6 L778.0,1526.6 L778.8,1526.7 L779.6,1521.6 L780.5,1524.3 L781.3,1524.4 L782.2,1520.4 L783.0,1520.0 L783.9,1507.4 L784.7,1496.7 L785.5,1497.5 L786.4,1499.8 L787.2,1501.5 L788.0,1501.7 L788.8,1498.9 L789.7,1494.6 L790.5,1495.0 L791.3,1496.6 L792.2,1497.4 L793.0,1499.1 L793.9,1497.3 L794.7,1498.3 L795.5,1510.0 L796.3,1511.5 L797.2,1511.6 L798.0,1514.7 L798.8,1516.9 L799.6,1514.2 L800.5,1517.6 L801.3,1518.3 L802.1,1524.3 L803.0,1533.3 L803.8,1534.0 L804.5,1535.7 L805.2,1537.7 L806.0,1538.3 L806.7,1533.5 L807.5,1530.8 L808.2,1529.2 L809.0,1523.9 L809.7,1520.0 L810.5,1518.4 L811.3,1515.0 L812.1,1513.7 L813.0,1511.3 L813.8,1510.6 L814.6,1508.9 L815.5,1506.5 L816.3,1505.0 L817.1,1510.1 L818.0,1512.2 L818.9,1517.5 L819.7,1520.0 L820.5,1516.4 L821.4,1514.3 L822.2,1508.9 L823.0,1506.1 L823.9,1501.9 L824.7,1500.0 L825.5,1511.9 L826.3,1520.0 L827.0,1521.6 L827.8,1522.9 L828.5,1524.8 L829.3,1524.2 L830.0,1526.7 L830.8,1524.4 L831.5,1520.6 L832.3,1516.3 L833.0,1516.1 L833.8,1513.3 L834.2,1496.0 L834.7,1480.0 L835.5,1483.1 L836.3,1480.6 L837.2,1482.5 L838.0,1485.4 L838.8,1485.0 L839.6,1481.8 L840.5,1477.4 L841.4,1476.9 L842.2,1473.3 L843.0,1470.2 L843.8,1471.8 L844.7,1465.4 L845.5,1464.7 L846.3,1463.3 L847.1,1459.2 L848.0,1462.0 L848.8,1464.1 L849.6,1460.4 L850.5,1459.4 L851.3,1460.0 L852.1,1463.9 L853.0,1466.1 L853.9,1470.0 L854.7,1473.3 L855.5,1479.6 L856.3,1481.3 L857.2,1484.0 L858.0,1487.2 L858.8,1488.3 L859.6,1481.7 L860.5,1476.0 L861.3,1473.3 L862.1,1476.4 L863.0,1476.9 L863.9,1478.3 L864.7,1480.0 L865.5,1477.5 L866.3,1476.3 L867.2,1473.5 L868.0,1470.9 L868.8,1468.3 L869.6,1467.9 L870.4,1465.9 L871.1,1464.9 L871.9,1466.2 L872.7,1463.3 L873.6,1465.9 L874.5,1472.8 L875.4,1473.6 L876.3,1476.7 L877.1,1485.0 L878.0,1493.3 L878.8,1493.7 L879.7,1490.1 L880.5,1489.9 L881.3,1488.5 L882.2,1487.9 L883.0,1486.7 L883.8,1493.2 L884.7,1500.6 L885.5,1503.9 L886.4,1507.9 L887.2,1515.0 L888.0,1511.2 L888.8,1506.7 L889.7,1507.4 L890.5,1503.9 L891.3,1500.0 L892.1,1497.8 L893.0,1495.4 L893.9,1493.1 L894.7,1490.0 L895.5,1488.8 L896.4,1487.4 L897.2,1485.1 L898.0,1482.0 L898.9,1483.2 L899.7,1480.0 L900.5,1480.5 L901.4,1475.6 L902.2,1477.3 L903.0,1474.6 L903.8,1476.2 L904.7,1473.7 L905.5,1473.3 L906.3,1478.0 L907.2,1479.7 L908.0,1480.5 L908.9,1483.5 L909.7,1486.7 L910.5,1483.1 L911.4,1481.7 L912.2,1476.5 L913.0,1475.0 L913.8,1474.0 L914.7,1469.2 L915.5,1471.1 L916.3,1467.7 L917.1,1463.9 L918.0,1462.9 L918.8,1461.7 L919.6,1463.3 L920.5,1464.6 L921.3,1461.8 L922.2,1468.0 L923.0,1468.3 L923.8,1472.2 L924.6,1471.5 L925.5,1473.0 L926.3,1476.7 L927.1,1481.1 L928.0,1481.6 L928.9,1484.5 L929.7,1486.7 L930.5,1484.1 L931.4,1478.2 L932.2,1476.1 L933.0,1473.3 L933.8,1473.6 L934.6,1475.4 L935.5,1478.1 L936.3,1480.0 L937.1,1479.2 L938.0,1480.8 L938.8,1480.2 L939.6,1480.8 L940.5,1479.2 L941.3,1480.0 L942.1,1489.6 L943.0,1498.6 L943.8,1508.3 L944.6,1508.4 L945.5,1508.5 L946.3,1506.7 L947.2,1506.7 L948.0,1507.5 L948.8,1502.1 L949.6,1496.4 L950.5,1489.1 L951.3,1480.0 L952.1,1475.3 L953.0,1471.3 L953.8,1468.8 L954.6,1465.0 L955.5,1462.8 L956.3,1456.7 L957.1,1455.3 L958.0,1454.6 L958.8,1456.4 L959.6,1452.9 L960.5,1452.7 L961.3,1453.8 L962.2,1451.9 L963.0,1451.7 L963.8,1452.3 L964.7,1455.5 L965.5,1457.0 L966.3,1459.2 L967.2,1460.4 L968.0,1463.3 L968.8,1460.6 L969.7,1455.3 L970.5,1451.6 L971.4,1450.2 L972.2,1445.0 L973.0,1445.8 L973.8,1451.0 L974.7,1452.5 L975.5,1453.9 L976.3,1456.7 L977.1,1458.7 L978.0,1458.0 L978.8,1462.4 L979.6,1461.8 L980.5,1464.2 L981.3,1466.7 L982.1,1462.6 L983.0,1456.4 L983.9,1453.3 L984.7,1448.3 L985.5,1451.0 L986.4,1454.1 L987.2,1455.3 L988.0,1458.5 L988.9,1458.2 L989.7,1461.7 L990.5,1457.8 L991.3,1455.2 L992.2,1452.0 L993.0,1447.3 L993.8,1443.3 L994.6,1444.4 L995.5,1445.9 L996.3,1448.0 L997.2,1452.6 L998.0,1451.2 L998.9,1454.8 L999.7,1456.7 L1000.6,1458.0 L1001.5,1458.0 L1002.4,1457.1 L1003.3,1460.8 L1004.2,1458.7 L1005.1,1460.0 L1006.0,1460.0 L1006.0,1456.7 L1006.8,1455.0 L1007.7,1450.7 L1008.5,1449.7 L1009.4,1445.6 L1010.2,1443.3 L1011.0,1447.2 L1011.9,1452.3 L1012.7,1459.0 L1013.5,1463.3 L1014.3,1464.3 L1015.2,1465.1 L1016.0,1465.7 L1016.9,1467.1 L1017.7,1468.3 L1018.5,1475.2 L1019.3,1480.0 L1020.1,1486.8 L1021.0,1490.6 L1021.8,1496.7 L1022.5,1492.9 L1023.2,1485.8 L1024.0,1483.3 L1024.7,1480.0 L1025.5,1476.8 L1026.2,1473.9 L1027.0,1473.5 L1027.7,1470.0 L1028.5,1470.9 L1029.4,1479.0 L1030.2,1482.3 L1031.0,1488.3 L1031.9,1488.2 L1032.7,1493.3 L1033.5,1486.9 L1034.4,1480.7 L1035.2,1471.7 L1036.0,1473.9 L1036.8,1472.9 L1037.7,1475.5 L1038.5,1475.5 L1039.3,1478.3 L1040.1,1472.6 L1041.0,1466.9 L1041.8,1460.0 L1042.6,1460.0 L1043.5,1457.1 L1044.3,1456.1 L1045.2,1454.5 L1046.0,1451.7 L1046.8,1449.3 L1047.7,1450.6 L1048.5,1449.4 L1049.3,1446.8 L1050.2,1445.0 L1051.0,1445.0 L1051.8,1443.4 L1052.7,1441.0 L1053.5,1439.7 L1054.3,1436.7 L1055.2,1431.3 L1056.0,1430.9 L1056.8,1430.6 L1057.7,1425.0 L1058.5,1424.9 L1059.3,1422.1 L1060.2,1421.0 L1061.0,1420.0 L1061.8,1417.2 L1062.7,1413.8 L1063.5,1412.1 L1064.3,1410.0 L1065.1,1412.0 L1066.0,1412.4 L1066.8,1416.2 L1067.7,1418.3 L1068.5,1420.0 L1069.3,1413.7 L1070.2,1410.6 L1071.0,1404.3 L1071.8,1401.7 L1072.6,1404.1 L1073.5,1405.9 L1074.3,1407.0 L1075.2,1409.9 L1076.0,1411.7 L1076.8,1408.0 L1077.7,1403.8 L1078.5,1396.8 L1079.4,1394.3 L1080.2,1390.0 L1081.0,1389.2 L1081.8,1389.2 L1082.7,1392.5 L1083.5,1392.0 L1084.3,1391.7 L1085.2,1395.3 L1086.0,1396.5 L1086.8,1397.1 L1087.7,1400.0 L1088.5,1398.3 L1089.4,1394.9 L1090.2,1395.5 L1091.0,1388.0 L1091.8,1390.5 L1092.7,1386.2 L1093.5,1385.0 L1094.3,1388.6 L1095.2,1391.3 L1096.0,1391.4 L1096.8,1395.0 L1097.6,1394.9 L1098.5,1391.7 L1099.3,1386.3 L1100.2,1389.3 L1101.0,1382.2 L1101.9,1380.8 L1102.7,1380.0 L1103.5,1387.1 L1104.4,1389.9 L1105.2,1396.7 L1106.0,1420.0 L1106.8,1428.3 L1107.6,1428.5 L1108.5,1427.5 L1109.3,1426.0 L1110.2,1429.1 L1111.0,1426.7 L1111.8,1420.7 L1112.7,1411.5 L1113.5,1406.3 L1114.3,1396.7 L1115.1,1400.1 L1116.0,1404.9 L1116.8,1408.3 L1117.6,1404.2 L1118.5,1399.3 L1119.3,1397.2 L1120.2,1392.4 L1121.0,1390.0 L1121.8,1382.4 L1122.7,1373.3 L1123.5,1372.5 L1124.3,1370.9 L1125.2,1372.7 L1126.0,1370.0 L1126.8,1368.8 L1127.7,1369.7 L1128.5,1365.0 L1129.4,1364.3 L1130.2,1363.3 L1131.0,1361.5 L1131.9,1361.9 L1132.7,1360.2 L1133.5,1359.6 L1134.3,1360.9 L1135.2,1358.2 L1136.0,1356.7 L1136.8,1380.0 L1137.6,1375.7 L1138.5,1374.0 L1139.3,1369.5 L1140.1,1366.4 L1141.0,1363.1 L1141.8,1360.0 L1142.6,1366.8 L1143.5,1374.1 L1144.3,1380.0 L1145.2,1374.5 L1146.0,1366.5 L1146.8,1359.0 L1147.7,1353.3 L1148.5,1352.5 L1149.2,1351.0 L1150.0,1350.0 L1150.7,1349.2 L1151.4,1350.6 L1152.1,1354.7 L1152.8,1355.2 L1153.5,1360.0 L1152.7,1395.0 L1153.5,1393.8 L1154.4,1388.9 L1155.2,1385.9 L1156.0,1380.3 L1156.9,1378.9 L1157.7,1375.0 L1158.5,1399.9 L1159.3,1421.7 L1160.1,1414.1 L1161.0,1406.4 L1161.8,1400.8 L1162.7,1390.7 L1163.5,1386.7 L1164.3,1395.2 L1165.2,1400.2 L1166.0,1406.7 L1166.8,1391.0 L1167.7,1380.2 L1168.5,1365.0 L1169.3,1365.2 L1170.2,1363.6 L1171.0,1362.8 L1171.9,1362.9 L1172.7,1360.0 L1173.5,1357.6 L1174.2,1357.1 L1175.0,1352.3 L1175.8,1349.8 L1176.5,1347.9 L1177.3,1345.8 L1178.0,1347.3 L1178.8,1352.0 L1179.5,1353.0 L1180.2,1356.7 L1179.8,1367.1 L1179.3,1376.7 L1180.1,1373.6 L1181.0,1372.1 L1181.8,1368.6 L1182.7,1362.2 L1183.5,1360.0 L1184.4,1356.4 L1185.2,1353.3 L1186.0,1408.3 L1186.8,1395.9 L1187.7,1387.5 L1188.5,1373.3 L1189.3,1413.3 L1190.2,1418.2 L1191.0,1420.3 L1191.8,1422.9 L1192.7,1428.3 L1193.5,1414.5 L1194.3,1401.7 L1195.1,1392.4 L1196.0,1384.8 L1196.8,1373.3 L1197.6,1382.9 L1198.5,1398.9 L1199.3,1408.3 L1200.0,1401.2 L1200.8,1399.2 L1201.5,1391.6 L1202.3,1388.1 L1203.0,1383.3 L1203.7,1392.7 L1204.5,1409.0 L1205.2,1420.0 L1206.0,1433.1 L1206.9,1445.4 L1207.7,1460.0 L1208.5,1463.6 L1209.4,1472.6 L1210.2,1478.3 L1211.0,1468.2 L1211.8,1456.4 L1212.7,1449.3 L1213.5,1438.3 L1214.3,1446.7 L1215.2,1454.4 L1216.0,1463.8 L1216.8,1473.3 L1217.7,1456.9 L1218.5,1446.7 L1219.3,1447.5 L1220.2,1446.8 L1221.0,1445.0 L1221.8,1445.0 L1222.7,1458.4 L1223.5,1475.0 L1224.3,1483.6 L1225.2,1494.3 L1226.0,1504.2 L1226.8,1502.0 L1227.7,1502.7 L1228.5,1499.8 L1229.3,1500.0 L1230.2,1483.1 L1231.0,1463.3 L1231.8,1462.6 L1232.7,1458.4 L1233.5,1456.6 L1234.3,1451.9 L1235.2,1454.4 L1236.0,1451.7 L1236.8,1462.0 L1237.7,1470.4 L1238.5,1481.7 L1239.3,1450.0 L1240.1,1450.4 L1241.0,1446.1 L1241.8,1444.7 L1242.7,1446.0 L1243.5,1443.3 L1244.3,1442.8 L1245.2,1438.9 L1246.0,1440.4 L1246.8,1438.3 L1247.7,1439.2 L1248.5,1438.3 L1249.3,1444.6 L1250.2,1449.9 L1251.0,1456.7 L1251.8,1456.2 L1252.7,1456.1 L1253.5,1453.5 L1254.3,1453.3 L1255.2,1461.8 L1256.0,1473.3 L1256.8,1473.6 L1257.7,1477.1 L1258.5,1479.0 L1259.3,1478.3 L1260.2,1486.9 L1261.0,1496.7 L1261.8,1505.6 L1262.7,1512.2 L1263.5,1521.7 L1264.3,1528.0 L1265.2,1536.8 L1266.0,1541.4 L1266.8,1549.2 L1267.6,1538.8 L1268.5,1527.6 L1269.3,1516.7 L1270.2,1525.5 L1271.0,1528.3 L1271.8,1534.0 L1272.7,1540.0 L1273.5,1530.1 L1274.2,1520.4 L1275.0,1515.2 L1275.7,1503.3 L1276.4,1512.6 L1277.1,1508.2 L1277.8,1521.5 L1278.5,1523.3 L1279.3,1515.4 L1280.2,1513.2 L1281.0,1508.9 L1281.8,1505.0 L1282.6,1507.8 L1283.5,1512.0 L1284.3,1516.7 L1285.1,1516.9 L1286.0,1524.9 L1286.8,1516.9 L1287.6,1522.6 L1288.5,1523.1 L1289.3,1526.7 L1288.5,1550.0 L1287.7,1571.7 L1288.5,1576.5 L1289.4,1589.0 L1290.2,1596.7 L1291.0,1607.9 L1291.9,1623.9 L1292.7,1630.0 L1293.5,1686.7 L1294.3,1685.7 L1295.2,1683.0 L1296.0,1682.0 L1296.8,1680.0 L1297.7,1692.8 L1298.5,1695.0 L1299.3,1702.8 L1300.2,1712.5 L1300.9,1690.1 L1301.6,1669.3 L1302.3,1650.8 L1303.0,1627.5 L1303.8,1637.7 L1304.5,1652.8 L1305.2,1666.9 L1306.0,1680.0 L1306.8,1700.9 L1307.7,1728.8 L1308.5,1750.0 L1309.3,1721.3 L1310.2,1697.1 L1311.0,1668.3 L1311.8,1669.0 L1312.7,1669.1 L1313.5,1669.1 L1314.3,1665.9 L1315.2,1665.9 L1316.0,1666.7 L1316.8,1670.9 L1317.7,1681.7 L1318.5,1687.6 L1319.3,1693.3 L1320.2,1684.3 L1321.0,1675.7 L1321.8,1671.0 L1322.7,1658.3 L1323.5,1665.2 L1324.3,1669.4 L1325.2,1676.1 L1326.0,1680.0 L1326.8,1696.6 L1327.7,1721.7 L1328.5,1716.8 L1329.3,1708.7 L1330.2,1694.9 L1331.0,1686.7 L1331.8,1687.0 L1332.7,1692.7 L1333.5,1688.7 L1334.4,1692.6 L1335.2,1693.3 L1336.0,1703.4 L1336.8,1710.0 L1337.7,1721.3 L1338.5,1722.6 L1339.3,1736.7 L1340.0,1742.0 L1340.8,1760.0 L1341.5,1768.0 L1342.3,1777.7 L1343.0,1787.5 L1343.8,1773.8 L1344.5,1762.4 L1345.2,1750.4 L1346.0,1736.7 L1346.8,1729.3 L1347.7,1729.6 L1348.5,1721.9 L1349.3,1720.0 L1350.2,1720.4 L1351.0,1708.9 L1351.8,1704.5 L1352.7,1698.3 L1353.5,1699.1 L1354.4,1697.5 L1355.2,1696.2 L1356.0,1690.7 L1356.9,1692.2 L1357.7,1690.0 L1358.5,1687.5 L1359.3,1680.8 L1360.2,1676.3 L1361.0,1669.8 L1361.8,1666.7 L1362.6,1672.2 L1363.5,1679.4 L1364.3,1676.9 L1365.2,1682.6 L1366.0,1690.0 L1366.8,1680.8 L1367.7,1673.2 L1368.5,1674.0 L1369.3,1663.3 L1370.1,1664.1 L1371.0,1663.5 L1371.8,1663.0 L1372.7,1664.1 L1373.5,1662.5 L1374.3,1670.0 L1375.2,1667.2 L1376.0,1680.1 L1376.9,1690.6 L1377.7,1690.0 L1378.5,1689.2 L1379.4,1690.3 L1380.2,1691.2 L1381.0,1695.8 L1381.9,1692.2 L1382.7,1695.0 L1383.3,1695.8 L1384.0,1695.0 L1384.8,1677.0 L1385.7,1653.3 L1386.5,1649.1 L1387.3,1645.1 L1388.2,1638.2 L1389.0,1636.7 L1389.8,1633.2 L1390.7,1637.5 L1391.5,1632.5 L1392.3,1633.3 L1393.2,1640.6 L1394.0,1643.3 L1394.8,1647.9 L1395.7,1648.3 L1396.5,1637.7 L1397.4,1627.5 L1398.2,1620.0 L1399.0,1622.7 L1399.8,1627.4 L1400.7,1627.0 L1401.5,1628.3 L1402.3,1622.9 L1403.2,1616.4 L1404.0,1612.1 L1404.8,1605.0 L1405.6,1606.9 L1406.5,1613.4 L1407.3,1621.2 L1408.2,1623.8 L1409.0,1628.3 L1409.8,1619.7 L1410.7,1606.8 L1411.5,1600.0 L1412.3,1597.4 L1413.2,1595.4 L1414.0,1593.7 L1414.8,1591.7 L1415.6,1599.6 L1416.5,1603.3 L1417.3,1611.0 L1418.2,1616.0 L1419.0,1623.3 L1419.8,1612.7 L1420.7,1602.7 L1421.5,1591.7 L1422.3,1590.5 L1423.2,1589.6 L1424.0,1586.7 L1424.8,1584.5 L1425.7,1587.4 L1426.5,1586.0 L1427.4,1584.3 L1428.2,1585.0 L1429.0,1588.9 L1429.8,1587.8 L1430.7,1590.8 L1431.5,1593.7 L1432.3,1595.0 L1433.2,1592.9 L1434.0,1586.6 L1434.8,1585.8 L1435.7,1580.0 L1436.5,1578.7 L1437.4,1576.2 L1438.2,1577.0 L1439.0,1574.3 L1439.9,1572.2 L1440.7,1571.7 L1441.5,1571.2 L1442.3,1572.3 L1443.2,1570.3 L1444.0,1569.4 L1444.8,1569.2 L1445.7,1580.7 L1446.5,1590.0 L1447.3,1592.8 L1448.2,1600.9 L1449.0,1606.0 L1449.9,1607.6 L1450.7,1614.2 L1451.5,1606.2 L1452.4,1599.4 L1453.2,1593.3 L1454.0,1590.6 L1454.8,1587.0 L1455.7,1585.5 L1456.5,1581.4 L1457.3,1580.0 L1458.2,1576.9 L1459.0,1573.1 L1459.8,1569.2 L1460.7,1565.0 L1461.5,1562.9 L1462.3,1563.7 L1463.2,1559.2 L1464.0,1560.0 L1464.8,1558.8 L1465.7,1558.3 L1466.5,1559.2 L1467.3,1555.8 L1468.2,1556.8 L1469.0,1555.0 L1469.8,1551.9 L1470.7,1545.0 L1471.5,1545.8 L1472.3,1545.1 L1473.2,1541.1 L1474.0,1542.3 L1474.8,1540.8 L1475.6,1542.8 L1476.5,1544.6 L1477.3,1545.8 L1478.2,1546.6 L1479.0,1548.3 L1478.2,1590.0 L1479.0,1584.8 L1479.8,1577.5 L1480.7,1575.3 L1481.5,1568.8 L1482.3,1563.3 L1483.2,1584.2 L1484.0,1606.7 L1484.8,1611.4 L1485.7,1610.7 L1486.5,1612.6 L1487.3,1616.5 L1488.2,1618.2 L1489.0,1620.0 L1489.8,1612.4 L1490.7,1603.1 L1491.5,1596.1 L1492.3,1586.7 L1493.2,1594.6 L1494.0,1604.1 L1494.8,1610.5 L1495.7,1618.3 L1496.5,1622.2 L1497.4,1627.2 L1498.2,1633.3 L1499.0,1627.6 L1499.9,1621.0 L1500.7,1613.3 L1501.5,1605.7 L1502.4,1603.4 L1503.2,1596.7 L1504.0,1593.9 L1504.8,1592.1 L1505.7,1588.1 L1506.5,1586.7 L1507.3,1584.7 L1508.2,1584.5 L1509.0,1583.2 L1509.8,1583.3 L1510.6,1589.6 L1511.5,1596.8 L1512.3,1603.3 L1513.1,1609.5 L1514.0,1618.0 L1514.8,1621.7 L1515.6,1616.3 L1516.5,1614.1 L1517.3,1610.8 L1518.2,1607.8 L1519.0,1603.3 L1519.8,1593.0 L1520.7,1584.0 L1521.5,1576.7 L1522.3,1577.8 L1523.2,1578.0 L1524.0,1578.8 L1524.8,1579.3 L1525.6,1577.0 L1526.5,1580.8 L1527.3,1580.0 L1528.2,1574.1 L1529.0,1571.9 L1529.8,1562.7 L1530.7,1558.3 L1531.5,1557.5 L1532.3,1559.5 L1533.2,1559.8 L1534.0,1560.0 L1534.8,1540.0 L1535.7,1540.0 L1536.5,1539.4 L1537.3,1538.0 L1538.2,1538.3 L1539.0,1548.0 L1539.8,1561.7 L1540.7,1557.7 L1541.5,1552.9 L1542.3,1548.4 L1543.2,1545.0 L1544.0,1549.0 L1544.8,1552.1 L1545.7,1553.8 L1546.5,1560.0 L1547.3,1551.7 L1548.2,1543.5 L1549.0,1536.7 L1549.8,1532.4 L1550.7,1528.3 L1551.5,1529.1 L1552.3,1526.6 L1553.2,1527.2 L1554.0,1523.0 L1554.8,1527.3 L1555.7,1523.5 L1556.5,1524.8 L1557.3,1523.3 L1558.2,1518.4 L1559.0,1516.9 L1559.8,1514.3 L1560.7,1510.0 L1561.5,1511.8 L1562.3,1514.3 L1563.2,1515.0 L1564.0,1517.3 L1564.8,1520.0 L1565.6,1514.9 L1566.5,1508.5 L1567.3,1503.3 L1568.1,1501.0 L1569.0,1497.4 L1569.8,1495.5 L1570.7,1494.3 L1571.5,1490.8 L1572.3,1496.8 L1573.2,1498.7 L1574.0,1503.3 L1574.8,1508.3 L1575.2,1503.5 L1575.7,1498.3 L1576.5,1506.9 L1577.3,1513.3 L1578.1,1521.8 L1579.0,1531.3 L1579.8,1538.3 L1580.6,1527.3 L1581.5,1516.1 L1582.3,1506.7 L1583.1,1503.9 L1584.0,1506.9 L1584.8,1504.7 L1585.7,1503.2 L1586.5,1503.3 L1587.3,1507.3 L1588.2,1508.4 L1589.0,1515.0 L1589.9,1517.7 L1590.7,1520.0 L1591.5,1514.0 L1592.3,1503.3 L1593.0,1498.5 L1593.6,1498.9 L1594.3,1492.5 L1595.1,1495.1 L1595.9,1498.7 L1596.6,1492.7 L1597.4,1500.8 L1598.2,1500.0 L1599.0,1500.8 L1599.8,1498.3 L1600.6,1501.7 L1601.5,1509.5 L1602.3,1511.7 L1603.1,1509.8 L1604.0,1511.5 L1604.8,1505.5 L1605.7,1505.3 L1606.5,1503.3 L1607.3,1517.4 L1608.2,1536.7 L1609.0,1540.0 L1609.8,1540.8 L1610.7,1536.2 L1611.5,1536.7 L1612.3,1536.2 L1613.2,1537.8 L1614.0,1536.7 L1614.8,1518.0 L1615.7,1499.2 L1616.5,1500.6 L1617.4,1502.5 L1618.2,1502.0 L1619.0,1498.4 L1619.9,1502.4 L1620.7,1501.7 L1621.5,1504.5 L1622.4,1510.1 L1623.2,1511.7 L1624.0,1524.1 L1624.8,1536.7 L1625.2,1560.0 L1625.7,1580.0 L1626.3,1593.9 L1627.0,1608.3 L1627.7,1609.1 L1628.5,1604.2 L1629.2,1609.1 L1630.0,1606.9 L1630.7,1605.0 L1631.5,1594.0 L1632.3,1586.7 L1633.2,1571.7 L1634.0,1561.7 L1634.8,1569.6 L1635.7,1580.2 L1636.5,1591.3 L1637.3,1596.7 L1638.1,1581.8 L1639.0,1574.6 L1639.8,1563.3 L1640.6,1575.0 L1641.5,1591.3 L1642.3,1603.3 L1643.1,1607.7 L1644.0,1612.3 L1644.8,1616.7 L1645.6,1607.7 L1646.5,1596.9 L1647.3,1586.7 L1648.2,1576.8 L1649.0,1563.3 L1649.8,1554.7 L1650.7,1546.9 L1651.5,1539.8 L1652.3,1531.7 L1653.2,1539.1 L1654.0,1548.4 L1654.8,1553.4 L1655.7,1561.7 L1656.5,1552.3 L1657.4,1543.2 L1658.2,1535.0 L1659.0,1547.9 L1659.8,1560.2 L1660.7,1576.9 L1661.5,1590.0 L1662.3,1581.6 L1663.2,1572.3 L1664.0,1563.3 L1664.8,1550.7 L1665.7,1540.0 L1666.5,1547.0 L1667.3,1552.0 L1668.2,1557.2 L1669.0,1563.4 L1669.8,1568.3 L1670.7,1553.0 L1671.5,1538.3 L1672.3,1536.6 L1673.2,1534.2 L1674.0,1529.7 L1674.9,1528.7 L1675.7,1526.7 L1676.5,1522.9 L1677.3,1521.5 L1678.2,1514.5 L1679.0,1515.0 L1679.8,1514.8 L1680.7,1512.3 L1681.5,1511.1 L1682.3,1510.0 L1683.1,1509.4 L1684.0,1505.8 L1684.8,1507.3 L1685.6,1504.4 L1686.5,1503.9 L1687.3,1503.3 L1688.1,1503.9 L1689.0,1499.9 L1689.8,1500.9 L1690.7,1497.7 L1691.5,1496.7 L1692.3,1502.5 L1693.2,1508.5 L1694.0,1515.0 L1694.8,1505.3 L1695.7,1499.1 L1696.5,1491.4 L1697.3,1483.3 L1698.1,1484.1 L1699.0,1482.6 L1699.8,1482.3 L1700.7,1479.3 L1701.5,1480.0 L1702.3,1485.3 L1703.2,1492.6 L1704.0,1498.6 L1704.9,1502.6 L1705.7,1510.0 L1706.5,1507.5 L1707.3,1500.5 L1708.2,1498.1 L1709.0,1493.3 L1709.8,1490.9 L1710.7,1491.1 L1711.5,1489.3 L1712.3,1486.7 L1713.1,1491.7 L1714.0,1493.1 L1714.8,1498.3 L1715.6,1506.0 L1716.5,1515.5 L1717.3,1520.0 L1718.2,1527.8 L1719.0,1536.7 L1719.7,1539.0 L1720.5,1540.1 L1721.2,1541.0 L1722.0,1545.5 L1722.7,1545.0 L1723.4,1541.4 L1724.1,1534.0 L1724.8,1530.0 L1725.7,1520.9 L1726.5,1510.0 L1727.3,1516.8 L1728.2,1519.3 L1729.0,1523.8 L1729.8,1528.3 L1730.6,1519.6 L1731.5,1509.1 L1732.3,1498.3 L1733.1,1500.3 L1734.0,1505.0 L1734.8,1511.5 L1735.7,1511.9 L1736.5,1516.7 L1737.3,1510.2 L1738.2,1502.5 L1739.0,1496.7 L1739.8,1500.3 L1740.7,1496.6 L1741.5,1500.4 L1742.4,1500.1 L1743.2,1501.7 L1744.0,1497.5 L1744.8,1492.2 L1745.7,1489.0 L1746.5,1485.6 L1747.3,1481.7 L1748.1,1483.7 L1749.0,1482.6 L1749.8,1487.3 L1750.7,1487.1 L1751.5,1490.2 L1752.4,1491.1 L1753.2,1493.3 L1754.0,1482.5 L1754.8,1471.7 L1755.6,1468.9 L1756.5,1467.4 L1757.3,1464.2 L1758.1,1464.8 L1758.9,1463.4 L1759.7,1463.6 L1760.4,1465.6 L1761.2,1468.2 L1762.0,1468.3 L1762.0,1466.7 L1762.8,1464.2 L1763.7,1465.2 L1764.5,1467.5 L1765.4,1464.4 L1766.2,1465.0 L1767.0,1469.9 L1767.9,1475.4 L1768.7,1480.0 L1769.5,1480.7 L1770.4,1479.2 L1771.2,1480.3 L1772.0,1479.2 L1772.9,1480.8 L1773.7,1480.0 L1774.5,1491.1 L1775.4,1498.8 L1776.2,1511.7 L1777.0,1508.7 L1777.8,1504.5 L1778.7,1494.0 L1779.5,1493.5 L1780.3,1488.3 L1781.2,1486.3 L1782.0,1481.3 L1782.8,1476.0 L1783.7,1473.3 L1784.5,1470.5 L1785.4,1468.5 L1786.2,1466.7 L1787.0,1472.0 L1787.8,1474.0 L1788.7,1478.0 L1789.5,1484.5 L1790.3,1488.3 L1791.1,1480.5 L1792.0,1477.3 L1792.8,1468.3 L1793.6,1462.1 L1794.5,1460.1 L1795.3,1455.0 L1796.1,1451.8 L1797.0,1447.6 L1797.8,1446.7 L1798.6,1444.7 L1799.5,1440.9 L1800.3,1441.7 L1801.1,1442.1 L1802.0,1439.1 L1802.8,1438.7 L1803.6,1437.7 L1804.5,1441.0 L1805.3,1438.3 L1806.0,1442.5 L1806.8,1445.0 L1807.5,1450.3 L1808.3,1455.0 L1809.0,1458.3 L1809.7,1447.1 L1810.3,1435.0 L1811.2,1432.4 L1812.0,1427.3 L1812.8,1430.2 L1813.7,1425.0 L1814.5,1425.3 L1815.3,1428.9 L1816.2,1426.0 L1817.0,1430.4 L1817.8,1430.0 L1818.6,1427.5 L1819.5,1423.4 L1820.3,1418.3 L1821.1,1414.0 L1822.0,1413.3 L1822.8,1410.8 L1823.6,1420.8 L1824.5,1425.5 L1825.3,1435.0 L1826.2,1430.4 L1827.0,1422.9 L1827.8,1415.7 L1828.7,1411.7 L1829.5,1404.4 L1830.4,1395.0 L1831.2,1385.0 L1832.0,1384.3 L1832.8,1382.5 L1833.7,1382.2 L1834.5,1377.5 L1835.3,1378.3 L1836.2,1380.9 L1837.0,1384.6 L1837.8,1384.8 L1838.7,1386.7 L1839.5,1393.4 L1840.3,1396.9 L1841.2,1403.5 L1842.0,1408.3 L1842.8,1401.7 L1843.7,1399.3 L1844.5,1393.5 L1845.3,1388.3 L1846.2,1406.1 L1847.0,1425.0 L1847.8,1418.8 L1848.7,1412.6 L1849.5,1406.5 L1850.3,1400.0 L1851.2,1389.3 L1852.0,1376.7 L1852.8,1376.1 L1853.7,1370.3 L1854.5,1372.6 L1855.3,1370.0 L1856.1,1369.9 L1857.0,1365.6 L1857.8,1366.1 L1858.7,1367.7 L1859.5,1363.3 L1860.3,1363.9 L1861.2,1368.9 L1862.0,1369.3 L1862.9,1369.4 L1863.7,1373.3 L1864.5,1383.3 L1865.3,1393.3 L1866.1,1394.3 L1867.0,1400.0 L1867.8,1403.3 L1868.7,1402.8 L1869.5,1400.6 L1870.3,1398.6 L1871.2,1396.7 L1872.0,1382.6 L1872.8,1370.0 L1873.5,1366.5 L1874.3,1362.4 L1875.0,1356.7 L1875.7,1362.7 L1876.4,1368.6 L1877.1,1373.2 L1877.8,1378.3 L1878.5,1381.9 L1879.2,1383.3 L1880.0,1389.7 L1880.7,1390.8 L1881.4,1382.3 L1882.1,1376.2 L1882.8,1370.0 L1883.2,1358.7 L1883.7,1348.3 L1884.5,1344.2 L1885.3,1343.5 L1886.2,1337.7 L1887.0,1335.0 L1887.8,1337.5 L1888.7,1340.0 L1889.5,1343.0 L1890.4,1347.4 L1891.2,1348.3 L1892.0,1325.0 L1892.8,1325.5 L1893.7,1321.9 L1894.5,1324.0 L1895.3,1320.8 L1896.2,1319.8 L1897.0,1318.3 L1897.8,1322.0 L1898.7,1322.3 L1899.5,1325.1 L1900.3,1326.7 L1901.2,1331.8 L1902.0,1336.7 L1902.8,1328.5 L1903.7,1322.0 L1904.5,1315.7 L1905.3,1310.0 L1906.1,1305.7 L1907.0,1302.8 L1907.8,1300.0 L1908.7,1300.7 L1909.5,1304.1 L1910.3,1303.5 L1911.2,1305.0 L1912.0,1306.7 L1912.8,1306.5 L1913.7,1305.8 L1914.5,1307.5 L1915.3,1308.3 L1916.2,1322.2 L1917.0,1340.0 L1917.7,1344.3 L1918.3,1352.4 L1919.0,1357.5 L1919.8,1348.7 L1920.5,1340.5 L1921.2,1333.0 L1922.0,1323.3 L1922.8,1318.0 L1923.7,1316.8 L1924.5,1313.3 L1925.3,1307.3 L1926.2,1306.7 L1927.0,1305.2 L1927.9,1299.1 L1928.7,1298.3 L1929.5,1304.3 L1930.4,1312.6 L1931.2,1320.0 L1932.0,1318.8 L1932.8,1313.8 L1933.7,1309.6 L1934.5,1307.5 L1935.3,1303.3 L1936.0,1300.7 L1936.6,1297.9 L1937.3,1295.8 L1938.0,1304.4 L1938.8,1314.8 L1939.5,1323.0 L1940.3,1332.5 L1941.1,1324.9 L1942.0,1314.3 L1942.8,1306.7 L1943.6,1305.7 L1944.5,1301.4 L1945.3,1300.0 L1946.1,1300.8 L1947.0,1299.8 L1947.8,1297.2 L1948.6,1300.8 L1949.5,1297.1 L1950.3,1296.7 L1951.2,1299.2 L1952.0,1301.9 L1952.8,1307.1 L1953.7,1310.0 L1954.5,1299.5 L1955.4,1287.8 L1956.2,1278.3 L1957.0,1275.7 L1957.8,1275.3 L1958.7,1273.0 L1959.5,1272.4 L1960.3,1271.7 L1961.1,1269.8 L1962.0,1270.8 L1962.8,1265.9 L1963.6,1271.6 L1964.5,1266.3 L1965.3,1266.7 L1965.8,1263.4 L1966.2,1260.0 L1967.0,1259.2 L1967.8,1262.4 L1968.7,1260.5 L1969.5,1261.0 L1970.3,1261.7 L1971.2,1259.9 L1972.0,1261.4 L1972.8,1260.2 L1973.7,1259.2 L1974.5,1265.2 L1975.3,1275.2 L1976.2,1278.2 L1977.0,1286.7 L1977.8,1292.7 L1978.7,1295.0 L1979.5,1289.4 L1980.3,1282.4 L1981.2,1278.7 L1982.0,1273.3 L1982.8,1264.0 L1983.7,1253.3 L1984.5,1251.8 L1985.4,1251.9 L1986.2,1250.6 L1987.0,1250.5 L1987.9,1248.1 L1988.7,1248.3 L1989.5,1249.1 L1990.3,1247.4 L1991.2,1249.0 L1992.0,1246.7 L1992.8,1249.3 L1993.7,1253.7 L1994.5,1255.3 L1995.3,1260.0 L1996.2,1267.8 L1997.0,1276.9 L1997.8,1282.5 L1998.7,1290.0 L1999.4,1296.9 L2000.1,1305.1 L2000.8,1313.3 L2001.5,1308.2 L2002.2,1301.2 L2003.0,1298.3 L2003.7,1290.0 L2004.5,1266.4 L2005.3,1243.3 L2006.2,1240.0 L2007.0,1237.6 L2007.8,1235.2 L2008.7,1230.0 L2009.5,1224.7 L2010.3,1223.7 L2011.2,1220.4 L2012.0,1218.3 L2012.8,1213.9 L2013.7,1214.5 L2014.5,1212.1 L2015.4,1211.4 L2016.2,1208.3 L2017.0,1216.1 L2017.9,1223.5 L2018.7,1230.0 L2019.5,1244.0 L2020.3,1256.7 L2021.2,1239.3 L2022.0,1223.3 L2022.8,1219.9 L2023.7,1210.0 L2024.5,1201.7 L2025.3,1205.5 L2026.2,1209.5 L2027.0,1215.0 L2027.8,1225.3 L2028.7,1235.0 L2029.5,1243.3 L2030.3,1232.0 L2031.2,1220.9 L2032.0,1208.3 L2032.8,1218.1 L2033.7,1226.1 L2034.5,1233.3 L2035.3,1243.3 L2036.1,1229.6 L2037.0,1214.4 L2037.8,1203.3 L2038.6,1202.7 L2039.5,1197.8 L2040.3,1197.1 L2041.1,1197.1 L2042.0,1190.7 L2042.8,1190.0 L2043.6,1195.9 L2044.5,1200.0 L2045.3,1206.7 L2046.1,1212.9 L2047.0,1225.1 L2047.8,1231.7 L2048.7,1222.9 L2049.5,1215.0 L2050.3,1207.6 L2051.2,1198.3 L2052.0,1204.5 L2052.8,1212.6 L2053.7,1219.7 L2054.5,1225.0 L2055.3,1219.8 L2056.2,1217.8 L2057.0,1213.0 L2057.9,1210.3 L2058.7,1205.0 L2059.5,1205.8 L2060.3,1199.0 L2061.2,1201.1 L2062.0,1196.7 L2062.8,1202.6 L2063.7,1210.1 L2064.5,1215.7 L2065.3,1221.7 L2066.1,1217.0 L2067.0,1211.3 L2067.8,1208.7 L2068.6,1202.7 L2069.5,1201.6 L2070.3,1195.0 L2071.2,1197.2 L2072.0,1198.4 L2072.8,1200.9 L2073.7,1203.3 L2074.5,1211.5 L2075.4,1214.5 L2076.2,1223.3 L2077.0,1219.6 L2077.8,1214.7 L2078.7,1209.2 L2079.5,1207.6 L2080.3,1201.7 L2081.1,1210.3 L2082.0,1222.1 L2082.8,1230.0 L2083.7,1232.4 L2084.5,1234.2 L2085.3,1237.5 L2086.2,1240.0 L2087.0,1231.3 L2087.8,1218.5 L2088.7,1209.2 L2089.5,1200.0 L2090.3,1210.0 L2091.2,1220.7 L2092.0,1230.0 L2092.8,1225.2 L2093.7,1217.8 L2094.5,1212.5 L2095.3,1208.3 L2096.1,1209.1 L2097.0,1209.3 L2097.8,1210.8 L2098.7,1209.0 L2099.5,1211.7 L2100.3,1273.3 L2100.9,1294.0 L2101.5,1315.0 L2102.2,1305.4 L2103.0,1300.4 L2103.7,1290.0 L2104.5,1281.3 L2105.4,1278.3 L2106.2,1273.3 L2107.0,1266.6 L2107.9,1259.0 L2108.7,1255.0 L2109.5,1266.5 L2110.4,1277.4 L2111.2,1290.0 L2111.8,1296.9 L2112.5,1306.7 L2113.2,1295.3 L2113.8,1285.8 L2114.5,1273.3 L2115.3,1263.1 L2116.2,1253.3 L2117.0,1252.5 L2117.8,1249.6 L2118.7,1245.7 L2119.5,1243.3 L2120.3,1229.6 L2121.2,1216.7 L2122.0,1210.6 L2122.8,1207.9 L2123.7,1207.3 L2124.5,1203.3 L2125.3,1216.6 L2126.2,1230.2 L2127.0,1243.3 L2127.8,1235.5 L2128.7,1229.8 L2129.5,1223.3 L2130.3,1216.9 L2131.2,1214.6 L2132.0,1208.1 L2132.8,1203.3 L2133.7,1209.9 L2134.5,1221.4 L2135.3,1232.4 L2136.2,1240.0 L2137.0,1240.1 L2137.7,1242.2 L2138.5,1243.9 L2139.2,1246.1 L2140.0,1248.3 L2140.8,1231.0 L2141.7,1213.3 L2142.5,1220.8 L2143.4,1229.1 L2144.2,1236.7 L2145.0,1270.0 L2145.8,1285.8 L2146.7,1303.3 L2147.5,1309.8 L2148.4,1316.0 L2149.2,1320.0 L2150.0,1303.5 L2150.9,1290.6 L2151.7,1275.0 L2152.5,1283.6 L2153.3,1291.8 L2154.2,1299.9 L2155.0,1309.0 L2155.8,1316.7 L2156.6,1309.0 L2157.5,1301.3 L2158.3,1293.8 L2159.2,1288.4 L2160.0,1280.0 L2160.8,1272.4 L2161.7,1264.5 L2162.5,1259.8 L2163.3,1253.3 L2164.2,1247.7 L2165.0,1244.5 L2165.8,1239.3 L2166.7,1233.3 L2167.5,1230.4 L2168.3,1232.5 L2169.2,1229.4 L2170.0,1230.0 L2170.8,1226.7 L2171.6,1230.6 L2172.5,1237.7 L2173.3,1241.7 L2174.1,1237.4 L2175.0,1233.5 L2175.8,1226.7 L2176.6,1220.2 L2177.5,1218.1 L2178.3,1213.3 L2179.2,1216.3 L2180.0,1218.9 L2180.8,1221.0 L2181.7,1225.0 L2182.5,1230.7 L2183.3,1236.7 L2184.1,1238.8 L2185.0,1243.1 L2185.8,1242.3 L2186.7,1246.1 L2187.5,1246.7 L2188.3,1239.9 L2189.2,1235.5 L2190.0,1229.0 L2190.8,1223.3 L2191.5,1220.9 L2192.2,1216.4 L2193.0,1216.1 L2193.7,1213.3 L2194.4,1218.0 L2195.2,1216.0 L2195.9,1216.9 L2196.7,1220.0 L2197.5,1234.9 L2198.3,1243.3 L2199.2,1255.5 L2200.0,1266.7 L2200.8,1249.1 L2201.7,1235.6 L2202.5,1220.0 L2203.3,1208.0 L2204.2,1196.7 L2205.0,1194.5 L2205.8,1191.3 L2206.7,1191.5 L2207.5,1188.3 L2208.3,1189.3 L2209.2,1196.0 L2210.0,1196.7 L2210.8,1200.0 L2211.6,1196.5 L2212.3,1192.0 L2213.1,1191.7 L2213.8,1188.1 L2214.6,1182.9 L2215.3,1181.7 L2216.1,1185.1 L2216.9,1182.9 L2217.6,1182.9 L2218.4,1187.5 L2219.2,1186.7 L2220.0,1185.9 L2220.8,1186.5 L2221.7,1186.0 L2222.5,1187.1 L2223.3,1188.3 L2224.2,1201.5 L2225.0,1215.0 L2225.8,1207.8 L2226.7,1203.9 L2227.5,1196.1 L2228.3,1191.7 L2229.2,1196.8 L2230.0,1198.8 L2230.8,1206.6 L2231.7,1211.7 L2232.5,1207.8 L2233.3,1205.0 L2234.2,1199.8 L2235.0,1196.7 L2235.8,1202.5 L2236.7,1208.1 L2237.5,1213.3 L2238.3,1215.8 L2239.2,1221.5 L2240.0,1224.5 L2240.9,1227.3 L2241.7,1231.7 L2242.5,1216.1 L2243.3,1203.3 L2244.2,1200.1 L2245.0,1194.3 L2245.8,1188.3 L2246.7,1183.3 L2247.5,1179.6 L2248.3,1173.3 L2249.1,1176.8 L2250.0,1176.8 L2250.8,1180.1 L2251.7,1181.8 L2252.5,1183.3 L2253.3,1153.3 L2254.2,1152.9 L2255.0,1151.4 L2255.8,1150.3 L2256.7,1150.0 L2257.5,1155.2 L2258.3,1158.4 L2259.2,1164.6 L2260.0,1166.7 L2260.8,1164.3 L2261.7,1161.8 L2262.5,1157.6 L2263.3,1156.7 L2264.1,1154.5 L2265.0,1152.3 L2265.8,1149.4 L2266.7,1146.4 L2267.5,1145.0 L2268.3,1144.8 L2269.2,1151.2 L2270.0,1155.2 L2270.8,1158.3 L2271.6,1153.2 L2272.5,1142.4 L2273.3,1138.3 L2274.2,1128.4 L2275.0,1123.3 L2275.8,1121.5 L2276.7,1116.7 L2277.4,1113.6 L2278.1,1111.8 L2278.8,1109.5 L2279.5,1106.7 L2280.2,1109.1 L2281.0,1112.7 L2281.8,1117.9 L2282.5,1120.0 L2283.3,1122.3 L2284.2,1128.1 L2285.0,1133.3 L2285.8,1127.7 L2286.7,1120.6 L2287.5,1113.3 L2288.3,1114.6 L2289.2,1117.5 L2290.0,1121.1 L2290.8,1123.3 L2291.6,1131.7 L2292.5,1136.9 L2293.3,1141.7 L2294.1,1137.1 L2295.0,1133.3 L2295.8,1130.0 L2296.6,1124.4 L2297.5,1116.6 L2298.3,1113.3 L2299.2,1113.2 L2300.0,1110.9 L2300.8,1112.2 L2301.7,1110.0 L2302.5,1115.9 L2303.4,1125.1 L2304.2,1131.7 L2305.0,1122.4 L2305.9,1114.5 L2306.7,1106.7 L2307.5,1105.1 L2308.4,1097.3 L2309.2,1095.0 L2310.0,1094.0 L2310.9,1093.2 L2311.7,1093.9 L2312.5,1090.4 L2313.4,1088.9 L2314.2,1088.3 L2315.0,1091.2 L2315.8,1095.4 L2316.7,1096.1 L2317.5,1098.3 L2318.3,1101.5 L2319.2,1106.0 L2320.0,1104.1 L2320.8,1108.3 L2321.6,1101.2 L2322.5,1089.1 L2323.3,1081.7 L2324.0,1082.4 L2324.8,1080.0 L2325.5,1079.4 L2326.3,1077.9 L2327.0,1076.7 L2327.8,1078.6 L2328.5,1076.2 L2329.2,1080.9 L2330.0,1083.3 L2330.8,1093.6 L2331.7,1098.3 L2332.5,1099.5 L2333.3,1101.6 L2334.2,1104.1 L2335.0,1105.0 L2335.8,1098.8 L2336.7,1090.6 L2337.5,1083.3 L2338.3,1087.6 L2339.2,1089.8 L2340.0,1091.4 L2340.9,1095.7 L2341.7,1098.3 L2342.5,1091.7 L2343.4,1081.4 L2344.2,1075.0 L2345.0,1076.6 L2345.8,1076.5 L2346.7,1078.6 L2347.5,1080.0 L2348.3,1066.4 L2349.2,1056.7 L2350.0,1056.9 L2350.8,1055.1 L2351.7,1057.2 L2352.5,1054.6 L2353.3,1055.0 L2354.2,1053.6 L2355.0,1046.7 L2355.8,1045.0 L2356.5,1040.6 L2357.2,1041.8 L2358.0,1036.7 L2358.7,1036.9 L2359.3,1038.2 L2360.0,1038.3 L2360.8,1039.9 L2361.7,1045.2 L2362.5,1047.5 L2363.3,1051.7 L2364.1,1044.1 L2365.0,1038.3 L2365.8,1033.3 L2366.7,1016.7 L2367.5,1019.9 L2368.3,1018.2 L2369.2,1020.8 L2370.0,1020.9 L2370.8,1023.3 L2371.7,1009.8 L2372.5,998.3 L2373.3,998.3 L2374.2,1000.5 L2375.0,1001.9 L2375.8,1005.1 L2376.6,1003.6 L2377.5,1005.2 L2378.3,1006.7 L2379.2,984.6 L2380.0,966.7 L2380.8,963.4 L2381.7,957.3 L2382.5,950.7 L2383.3,946.7 L2384.2,934.0 L2385.0,930.0 L2385.7,929.8 L2386.3,927.5 L2387.0,928.3 L2387.7,945.2 L2388.5,953.0 L2389.2,966.7 L2390.0,1055.8 L2390.8,1047.8 L2391.7,1032.2 L2392.5,1024.5 L2393.4,1014.6 L2394.2,1000.0 L2395.0,987.0 L2395.8,971.7 L2396.6,969.2 L2397.5,969.2 L2398.3,969.8 L2399.2,970.8 L2400.0,970.0 L2400.8,972.7 L2401.7,976.6 L2402.5,983.3 L2403.3,999.5 L2404.2,1016.7 L2405.0,1031.4 L2405.9,1044.2 L2406.7,1061.7 L2407.5,1052.4 L2408.4,1043.5 L2409.2,1033.3 L2410.0,1022.9 L2410.9,1016.4 L2411.7,1007.5 L2412.5,1015.7 L2413.4,1024.9 L2414.2,1033.3 L2415.0,1037.9 L2415.9,1040.8 L2416.7,1046.7 L2417.5,1034.1 L2418.4,1022.3 L2419.2,1006.7 L2420.0,1005.3 L2420.8,1002.2 L2421.7,1002.7 L2422.5,1001.7 L2423.3,1009.3 L2424.2,1011.6 L2425.0,1018.0 L2425.8,1023.3 L2426.7,1006.4 L2427.5,993.3 L2428.3,987.6 L2429.2,985.6 L2430.0,981.7 L2430.8,986.5 L2431.7,989.7 L2432.5,995.9 L2433.3,1000.0 L2434.2,1009.2 L2435.0,1020.0 L2435.8,1013.3 L2436.7,1012.0 L2437.5,1008.6 L2438.4,1006.6 L2439.2,1000.0 L2440.0,987.0 L2440.8,979.9 L2441.7,968.8 L2442.5,958.3 L2443.3,964.0 L2444.2,969.1 L2445.0,976.3 L2445.8,980.0 L2446.6,972.6 L2447.5,962.1 L2448.3,955.0 L2449.2,958.6 L2450.0,964.2 L2450.8,966.7 L2451.7,973.3 L2452.5,959.8 L2453.4,946.3 L2454.2,931.7 L2455.0,934.3 L2455.9,938.6 L2456.7,941.5 L2457.5,946.3 L2458.4,950.1 L2459.2,953.3 L2460.0,944.9 L2460.8,940.9 L2461.7,931.0 L2462.5,925.8 L2463.3,927.0 L2464.2,927.9 L2465.0,927.3 L2465.8,929.4 L2466.7,929.2 L2467.5,931.7 L2468.3,942.3 L2469.2,950.0 L2468.3,1008.3 L2469.1,1018.2 L2470.0,1027.5 L2470.8,1040.0 L2471.7,1042.9 L2472.5,1042.5 L2473.3,1047.4 L2474.2,1046.7 L2475.0,1026.7 L2475.8,1009.2 L2476.7,987.4 L2477.5,970.0 L2478.3,995.4 L2479.2,1020.8 L2480.0,1046.7 L2480.8,1041.1 L2481.7,1034.3 L2482.5,1023.6 L2483.3,1016.7 L2484.1,1006.2 L2484.8,994.3 L2485.6,985.3 L2486.3,976.7 L2487.0,995.3 L2487.6,1016.4 L2488.3,1033.3 L2489.2,1062.0 L2490.0,1083.3 L2490.8,1102.5 L2491.7,1125.0 L2492.3,1140.3 L2493.0,1158.3 L2493.7,1148.5 L2494.5,1145.2 L2495.2,1138.0 L2496.0,1128.4 L2496.7,1120.0 L2497.5,1097.0 L2498.3,1066.7 L2499.2,1047.5 L2500.0,1030.0 L2500.8,1031.1 L2501.7,1034.9 L2502.5,1033.4 L2503.3,1038.7 L2504.2,1039.4 L2505.0,1043.3 L2505.8,1020.4 L2506.7,1006.7 L2507.5,1004.1 L2508.3,1001.0 L2509.2,999.5 L2510.0,992.2 L2510.8,990.0 L2511.6,990.1 L2512.5,981.7 L2513.3,981.7 L2514.1,991.3 L2515.0,991.7 L2515.8,1000.7 L2516.7,1003.5 L2517.5,1013.3 L2518.3,1001.9 L2519.2,978.9 L2520.0,965.0 L2520.8,973.0 L2521.7,976.9 L2522.5,984.1 L2523.3,990.0 L2524.2,982.0 L2525.0,970.8 L2525.8,964.5 L2526.7,955.0 L2527.5,951.6 L2528.3,948.5 L2529.2,948.6 L2530.0,943.8 L2530.8,941.7 L2531.6,940.9 L2532.5,936.4 L2533.3,934.2 L2534.2,935.6 L2535.0,937.2 L2535.8,939.9 L2536.7,941.7 L2537.5,993.3 L2538.3,987.1 L2539.2,984.0 L2540.0,976.3 L2540.9,973.9 L2541.7,966.7 L2542.4,979.2 L2543.2,993.4 L2543.9,1005.9 L2544.7,1020.0 L2545.4,1008.5 L2546.1,988.4 L2546.8,978.9 L2547.5,963.3 L2548.3,949.3 L2549.2,933.3 L2550.0,938.2 L2550.8,942.7 L2551.7,945.8 L2552.5,945.6 L2553.3,951.7 L2554.2,936.5 L2555.0,920.0 L2555.8,916.9 L2556.7,916.6 L2557.5,914.6 L2558.3,913.3 L2559.0,913.2 L2559.8,911.4 L2560.5,909.1 L2561.3,907.1 L2562.0,906.7 L2562.8,913.9 L2563.5,919.9 L2564.2,926.1 L2565.0,933.3 L2564.2,981.7 L2565.0,983.5 L2565.8,984.4 L2566.7,982.2 L2567.5,984.2 L2568.3,985.0 L2569.2,980.7 L2570.0,981.4 L2570.9,979.2 L2571.7,980.0 L2572.5,968.3 L2573.3,957.0 L2574.2,940.5 L2575.0,930.0 L2575.8,924.2 L2576.7,918.2 L2577.5,914.2 L2578.3,915.5 L2579.2,917.5 L2580.0,915.1 L2580.8,918.3 L2581.6,936.3 L2582.5,953.8 L2583.3,968.3 L2584.2,966.2 L2585.0,965.9 L2585.8,965.2 L2586.7,963.3 L2587.5,949.5 L2588.4,940.4 L2589.2,930.0 L2590.0,926.3 L2590.9,920.9 L2591.7,916.7 L2592.5,909.8 L2593.4,899.6 L2594.2,893.3 L2595.0,887.8 L2595.9,881.1 L2596.7,876.7 L2597.5,869.8 L2598.4,866.6 L2599.2,860.0 L2600.0,866.2 L2600.8,867.0 L2601.7,873.8 L2602.5,877.9 L2603.3,881.7 L2604.1,870.4 L2605.0,854.8 L2605.8,843.3 L2606.6,834.8 L2607.5,830.8 L2608.3,823.3 L2609.1,817.7 L2610.0,814.5 L2610.8,816.0 L2611.6,814.1 L2612.5,812.6 L2613.3,810.0 L2614.2,803.0 L2615.0,798.3 L2615.8,792.5 L2616.5,792.5 L2617.2,797.2 L2618.0,793.3 L2618.3,795.0 L2619.1,807.6 L2620.0,812.4 L2620.8,815.5 L2621.7,832.5 L2622.5,836.7 L2623.3,812.0 L2624.2,796.7 L2624.9,797.5 L2625.7,789.3 L2626.4,788.9 L2627.2,778.3 L2627.9,781.3 L2628.7,775.0 L2629.2,813.3 L2630.0,863.3 L2630.8,879.9 L2631.7,919.5 L2632.5,938.3 L2633.3,951.7 L2634.2,978.0 L2635.0,996.7 L2635.8,1033.1 L2636.7,1063.3 L2637.5,1096.6 L2638.4,1124.3 L2639.2,1155.0 L2639.9,1119.3 L2640.6,1099.2 L2641.3,1063.3 L2642.0,1042.6 L2642.8,1021.9 L2643.5,1014.9 L2644.3,998.1 L2645.0,971.7 L2645.8,963.9 L2646.7,967.1 L2647.5,960.3 L2648.3,953.8 L2649.2,950.3 L2650.0,943.3 L2650.8,970.8 L2651.7,996.7 L2652.5,977.2 L2653.4,972.1 L2654.2,960.1 L2655.0,947.1 L2655.9,939.2 L2656.7,926.7 L2657.5,915.4 L2658.3,907.6 L2659.2,902.0 L2660.0,883.3 L2660.8,886.2 L2661.7,901.6 L2662.5,905.0 L2663.1,872.8 L2663.7,831.7 L2664.4,844.3 L2665.2,853.3 L2665.9,873.9 L2666.7,886.7 L2667.5,881.2 L2668.3,868.2 L2669.2,851.0 L2670.0,846.7 L2670.8,844.8 L2671.7,837.4 L2672.5,832.6 L2673.3,833.5 L2674.2,820.9 L2675.0,821.7 L2675.8,822.5 L2676.7,818.9 L2677.5,806.7 L2678.3,801.9 L2679.2,796.0 L2680.0,796.7 L2680.8,795.0 L2681.7,785.7 L2682.5,777.1 L2683.3,773.6 L2684.2,779.2 L2685.0,774.5 L2685.9,762.5 L2686.7,763.3 L2687.5,764.1 L2688.3,755.8 L2689.2,758.2 L2690.0,750.9 L2690.8,757.6 L2691.7,749.0 L2692.5,748.9 L2693.3,746.7 L2694.1,746.2 L2695.0,740.3 L2695.8,747.5 L2696.7,740.0 L2697.5,735.9 L2698.3,732.6 L2699.2,736.5 L2700.0,733.5 L2700.9,730.9 L2701.7,730.0 L2702.5,720.1 L2703.4,724.6 L2704.2,712.5 L2705.0,711.7 L2705.9,703.6 L2706.7,696.7 L2707.4,729.1 L2708.2,760.9 L2708.9,792.4 L2709.7,830.0 L2710.4,799.6 L2711.1,759.9 L2711.8,732.3 L2712.5,693.3 L2713.3,701.3 L2714.2,701.6 L2715.0,704.1 L2715.8,711.6 L2716.6,716.9 L2717.5,713.3 L2718.3,718.3 L2719.1,714.6 L2720.0,710.6 L2720.8,693.6 L2721.7,695.3 L2722.5,685.0 L2723.3,680.5 L2724.2,680.9 L2725.0,678.2 L2725.9,670.7 L2726.7,668.3 L2727.5,670.6 L2728.4,670.8 L2729.2,670.8 L2730.0,670.8 L2730.9,670.1 L2731.7,670.0 L2732.5,653.9 L2733.3,636.7 L2734.2,633.5 L2735.0,620.4 L2735.8,613.2 L2736.7,606.7 L2737.5,624.0 L2738.4,643.9 L2739.2,663.3 L2740.0,648.8 L2740.8,632.0 L2741.7,615.9 L2742.5,609.8 L2743.3,585.0 L2744.1,594.6 L2745.0,617.1 L2745.8,630.0 L2746.6,638.9 L2747.5,642.5 L2748.3,649.8 L2749.2,650.6 L2750.0,661.7 L2750.8,657.0 L2751.7,651.9 L2752.5,639.2 L2753.4,638.9 L2754.2,630.0 L2755.0,629.3 L2755.8,622.4 L2756.7,619.6 L2757.5,615.0 L2758.3,603.3 L2759.2,608.6 L2760.0,596.7 L2760.8,593.3 L2761.7,577.9 L2762.5,563.3 L2763.3,563.2 L2764.2,539.9 L2765.0,544.9 L2765.9,537.5 L2766.7,533.3 L2767.5,530.6 L2768.3,524.4 L2769.2,516.7 L2770.0,520.3 L2770.8,510.3 L2771.7,513.1 L2772.5,513.3 L2773.3,506.7 L2774.2,524.5 L2775.0,530.0 L2775.8,528.5 L2776.7,528.2 L2777.5,515.9 L2778.3,518.0 L2779.2,521.8 L2780.0,516.7 L2780.8,523.8 L2781.7,527.9 L2782.5,530.5 L2783.3,537.6 L2784.2,546.2 L2785.0,550.0 L2785.8,548.0 L2786.7,531.7 L2787.5,516.5 L2788.3,526.8 L2789.2,508.8 L2790.0,500.0 L2790.8,502.2 L2791.7,514.8 L2792.5,515.1 L2793.4,515.7 L2794.2,522.5 L2795.0,514.4 L2795.9,513.3 L2796.7,503.0 L2797.5,502.6 L2798.3,487.5 L2799.2,482.4 L2800.0,478.3 L2800.8,471.7 L2801.7,474.4 L2802.5,479.1 L2803.3,465.9 L2804.2,472.2 L2805.0,466.7 L2805.8,460.2 L2806.7,461.2 L2807.5,467.5 L2808.3,457.5 L2809.2,459.5 L2810.0,458.3 L2810.8,461.1 L2811.7,480.6 L2812.5,493.3 L2813.4,500.2 L2814.3,502.7 L2815.2,512.1 L2816.0,515.2 L2816.9,515.8 L2817.8,523.8 L2818.7,528.3 L2819.5,527.0 L2820.3,520.6 L2821.1,511.5 L2821.8,516.6 L2822.6,515.1 L2823.4,511.5 L2824.2,508.3 L2825.0,485.9 L2825.8,476.2 L2826.7,466.1 L2827.5,444.4 L2828.3,433.3 L2829.2,427.0 L2830.0,407.1 L2830.8,395.9 L2831.7,391.7 L2832.5,398.1 L2833.4,420.9 L2834.2,416.7 L2835.0,430.0 L2835.8,443.6 L2836.7,449.0 L2837.5,461.7 L2838.3,445.4 L2839.2,443.1 L2840.0,439.3 L2840.8,419.1 L2841.6,413.7 L2842.5,408.6 L2843.3,400.0 L2844.1,396.1 L2845.0,388.2 L2845.8,393.9 L2846.6,379.3 L2847.5,373.2 L2848.3,374.6 L2849.1,369.2 L2850.0,364.2 L2850.8,360.0 L2851.6,372.2 L2852.5,394.6 L2853.3,400.0 L2854.2,416.5 L2855.0,425.9 L2855.8,436.5 L2856.7,450.0 L2857.5,454.9 L2858.3,456.4 L2859.2,456.5 L2860.0,454.2 L2860.8,460.0 L2861.6,472.9 L2862.5,477.0 L2863.3,479.1 L2864.2,495.6 L2865.0,500.0 L2865.8,513.1 L2866.7,521.9 L2867.5,530.0 L2868.3,518.4 L2869.2,509.5 L2870.0,500.0 L2870.8,489.6 L2871.7,483.1 L2872.5,480.9 L2873.3,468.3 L2874.1,469.1 L2875.0,465.9 L2875.8,466.7 L2876.7,475.6 L2877.5,483.3 L2878.3,490.5 L2879.2,491.7 L2880.0,501.0 L2880.9,505.0 L2881.7,516.7 L2882.5,521.7 L2883.4,525.4 L2884.2,533.3 L2885.0,596.7 L2885.8,616.8 L2886.7,636.5 L2887.5,663.3 L2888.3,679.2 L2889.2,693.3 L2890.0,705.0 L2890.8,729.9 L2891.7,733.8 L2892.5,751.7 L2893.3,732.6 L2894.2,712.8 L2895.0,680.7 L2895.8,660.0 L2896.6,671.9 L2897.4,668.5 L2898.2,677.5 L2899.0,676.7 L2899.8,711.8 L2900.7,739.4 L2901.5,776.7 L2902.3,812.3 L2903.2,851.7 L2904.0,840.4 L2904.9,838.6 L2905.7,831.5 L2906.5,829.4 L2907.3,813.5 L2908.2,810.3 L2909.0,810.0 L2909.8,788.6 L2910.7,765.8 L2911.5,751.2 L2912.3,726.7 L2913.1,709.0 L2914.0,693.0 L2914.8,680.0 L2915.6,678.3 L2916.5,667.5 L2917.3,668.3 L2918.1,660.6 L2918.8,651.5 L2919.6,640.9 L2920.3,628.3 L2921.0,632.6 L2921.8,651.1 L2922.5,651.4 L2923.3,660.6 L2924.0,666.7 L2924.8,683.5 L2925.7,693.3 L2926.5,697.5 L2927.3,692.5 L2928.2,696.7 L2929.0,696.7 L2929.8,711.4 L2930.7,728.0 L2931.5,743.3 L2932.3,761.8 L2933.2,778.9 L2934.0,793.3 L2934.8,814.8 L2935.7,841.1 L2936.5,860.0 L2937.3,874.4 L2938.2,880.3 L2939.0,890.0 L2939.8,855.7 L2940.7,826.7 L2941.5,804.8 L2942.3,776.7 L2943.1,770.3 L2944.0,765.1 L2944.8,760.3 L2945.6,754.0 L2946.5,754.0 L2947.3,743.3 L2948.1,739.8 L2949.0,737.0 L2949.8,734.7 L2950.7,736.7 L2951.5,731.7 L2952.3,742.6 L2953.2,760.0 L2953.9,743.7 L2954.6,727.9 L2955.3,712.5 L2956.0,714.0 L2956.8,715.7 L2957.5,722.0 L2958.3,727.0 L2959.0,735.0 L2959.8,732.5 L2960.7,733.3 L2961.5,776.7 L2962.3,779.5 L2963.2,785.0 L2964.0,790.6 L2964.8,793.3 L2964.0,815.0"/><path id="lr" d="M287.5,1199.2 L288.3,1286.7 L289.2,1275.3 L290.1,1268.0 L291.0,1246.5 L291.9,1244.3 L292.8,1225.6 L293.7,1215.8 L293.0,1363.3 L293.8,1368.3 L294.5,1382.2 L295.2,1379.1 L296.0,1385.6 L296.8,1393.9 L297.5,1396.7 L298.1,1457.9 L298.7,1513.3 L299.5,1494.8 L300.2,1480.5 L301.0,1455.9 L301.7,1442.1 L302.5,1425.0 L303.3,1442.9 L304.1,1459.1 L305.0,1478.7 L305.8,1503.3 L306.6,1464.5 L307.5,1436.7 L308.3,1458.0 L309.0,1478.3 L309.8,1499.0 L310.5,1521.8 L311.3,1542.5 L312.1,1530.3 L312.8,1529.1 L313.6,1522.0 L314.3,1517.0 L315.1,1503.4 L315.8,1500.0 L316.7,1445.0 L317.5,1431.7 L318.3,1412.1 L319.2,1407.1 L320.0,1386.3 L320.8,1382.5 L321.6,1386.7 L322.5,1404.0 L323.3,1397.1 L324.2,1420.3 L325.0,1423.3 L325.8,1404.2 L326.6,1383.2 L327.5,1367.3 L328.3,1345.8 L329.1,1351.9 L330.0,1358.4 L330.9,1357.2 L331.7,1363.3 L332.5,1408.8 L333.3,1458.3 L334.1,1452.5 L335.0,1447.3 L335.9,1447.6 L336.7,1443.3 L337.5,1428.7 L338.3,1425.6 L339.2,1400.9 L340.0,1395.3 L340.8,1386.7 L341.5,1376.4 L342.2,1364.4 L343.0,1373.1 L343.7,1357.5 L344.4,1356.7 L345.2,1369.9 L345.9,1372.2 L346.7,1380.0 L347.5,1403.7 L348.3,1413.3 L349.1,1412.5 L350.0,1419.1 L350.9,1412.9 L351.7,1418.3 L352.5,1425.7 L353.4,1430.0 L354.2,1440.0 L353.4,1466.5 L352.5,1486.7 L353.3,1497.5 L354.2,1519.4 L355.0,1536.0 L355.9,1557.8 L356.7,1566.7 L357.5,1531.2 L358.4,1526.1 L359.2,1493.3 L360.0,1496.1 L360.9,1492.5 L361.7,1497.1 L362.5,1494.0 L363.3,1499.1 L364.2,1497.0 L365.0,1498.3 L365.9,1508.4 L366.7,1520.0 L367.5,1529.2 L368.4,1539.4 L369.2,1550.0 L370.0,1567.8 L370.8,1586.7 L371.6,1615.8 L372.5,1651.7 L373.3,1644.8 L374.0,1611.6 L374.8,1593.1 L375.5,1592.3 L376.3,1575.0 L377.0,1585.4 L377.8,1599.2 L378.5,1607.7 L379.2,1620.0 L380.0,1647.4 L380.9,1676.9 L381.7,1703.3 L382.4,1708.3 L383.0,1707.5 L383.9,1688.7 L384.8,1674.0 L385.6,1666.7 L386.5,1643.0 L387.4,1622.2 L388.3,1610.0 L389.0,1610.8 L389.8,1608.2 L390.5,1605.8 L391.2,1612.4 L392.0,1619.7 L392.8,1634.9 L393.5,1638.2 L394.2,1647.7 L395.0,1660.0 L395.8,1661.1 L396.7,1670.0 L397.5,1676.7 L398.3,1690.2 L399.2,1691.8 L400.0,1703.3 L400.9,1704.7 L401.7,1716.7 L402.5,1721.7 L403.3,1718.9 L404.2,1724.1 L405.0,1724.1 L405.8,1723.3 L405.0,1728.5 L404.1,1736.4 L403.3,1743.3 L404.1,1754.9 L405.0,1766.7 L405.9,1774.7 L406.7,1791.7 L407.5,1789.6 L408.3,1785.1 L409.2,1774.4 L410.0,1768.1 L410.8,1763.3 L411.6,1793.7 L412.5,1825.8 L413.3,1817.6 L414.2,1812.6 L415.0,1810.0 L415.9,1792.3 L416.7,1776.7 L416.7,1730.0 L417.5,1726.0 L418.4,1727.2 L419.2,1724.2 L420.0,1729.3 L420.9,1725.5 L421.7,1725.0 L422.5,1728.8 L423.4,1733.4 L424.2,1750.0 L425.0,1731.6 L425.8,1710.0 L426.5,1710.8 L427.3,1707.5 L428.0,1708.3 L428.7,1710.2 L429.4,1712.1 L430.1,1719.7 L430.8,1720.0 L431.6,1717.5 L432.5,1720.8 L433.4,1717.5 L434.2,1718.3 L435.0,1746.6 L435.8,1766.7 L436.6,1759.7 L437.5,1753.2 L438.3,1741.9 L439.2,1739.7 L440.0,1735.0 L440.8,1743.0 L441.6,1755.3 L442.5,1761.7 L443.3,1770.0 L444.1,1769.2 L445.0,1772.5 L445.8,1772.5 L446.7,1770.1 L447.5,1771.7 L448.3,1765.4 L449.2,1760.7 L450.0,1760.7 L450.9,1753.8 L451.7,1747.5 L452.5,1749.9 L453.4,1762.6 L454.2,1766.7 L455.0,1776.8 L455.8,1791.7 L456.6,1786.2 L457.5,1791.2 L458.3,1784.9 L459.2,1776.4 L460.0,1776.7 L460.9,1796.8 L461.7,1815.0 L462.5,1821.8 L463.4,1822.1 L464.2,1830.1 L465.0,1835.0 L465.7,1847.4 L466.5,1848.0 L467.2,1865.0 L467.9,1865.8 L468.7,1864.1 L469.4,1861.5 L470.2,1854.2 L470.9,1858.9 L471.7,1855.0 L472.5,1830.2 L473.3,1813.3 L474.1,1813.5 L475.0,1809.3 L475.9,1805.1 L476.7,1801.7 L477.5,1802.2 L478.3,1807.3 L479.2,1816.4 L480.0,1812.0 L480.8,1820.0 L481.6,1807.9 L482.5,1790.0 L483.3,1786.5 L484.2,1778.6 L485.0,1775.0 L485.8,1775.8 L486.7,1771.6 L487.5,1775.8 L488.3,1769.2 L489.2,1769.2 L490.0,1770.0 L490.9,1765.7 L491.7,1750.8 L492.5,1760.9 L493.4,1766.5 L494.2,1776.7 L495.0,1776.4 L495.9,1774.2 L496.7,1774.4 L497.5,1775.0 L498.3,1765.0 L499.1,1762.8 L500.0,1760.4 L500.8,1750.8 L501.6,1752.2 L502.5,1756.1 L503.4,1753.3 L504.2,1758.3 L505.0,1764.4 L505.9,1773.4 L506.7,1780.0 L507.5,1776.7 L508.4,1780.8 L509.2,1770.9 L510.0,1771.7 L510.9,1794.3 L511.7,1800.0 L512.5,1799.2 L513.4,1809.8 L514.2,1802.5 L515.0,1814.1 L515.9,1810.1 L516.7,1813.3 L517.5,1814.0 L518.4,1813.7 L519.2,1810.0 L520.0,1796.8 L520.9,1785.6 L521.7,1776.7 L522.5,1775.9 L523.4,1785.7 L524.2,1781.7 L525.0,1786.7 L525.8,1786.3 L526.7,1787.9 L527.5,1790.8 L528.3,1785.9 L529.2,1790.8 L530.0,1790.0 L530.9,1801.2 L531.7,1815.0 L532.5,1812.4 L533.4,1801.8 L534.2,1802.4 L535.0,1798.3 L535.8,1807.6 L536.7,1816.2 L537.5,1820.0 L538.2,1828.3 L538.9,1828.1 L539.6,1836.9 L540.3,1841.7 L541.1,1835.1 L541.9,1826.0 L542.6,1820.2 L543.4,1819.4 L544.2,1810.8 L545.0,1813.4 L545.9,1815.4 L546.7,1818.3 L547.5,1826.8 L548.4,1826.0 L549.2,1836.5 L550.0,1840.0 L550.8,1840.5 L551.7,1841.6 L552.5,1843.7 L553.3,1843.5 L554.2,1844.8 L555.0,1845.0 L555.9,1860.5 L556.7,1875.0 L557.5,1875.8 L558.4,1867.4 L559.2,1869.1 L560.0,1863.3 L560.9,1875.1 L561.7,1885.0 L562.5,1880.6 L563.4,1880.6 L564.2,1872.4 L565.0,1871.7 L565.8,1900.0 L566.6,1904.4 L567.5,1899.3 L568.3,1902.3 L569.2,1904.9 L570.0,1905.0 L570.8,1897.5 L571.7,1888.0 L572.5,1876.7 L573.3,1875.2 L574.2,1869.1 L575.0,1866.7 L575.8,1872.0 L576.6,1883.5 L577.5,1889.6 L578.3,1896.7 L579.1,1891.3 L580.0,1893.8 L580.9,1887.8 L581.7,1885.0 L582.5,1888.0 L583.4,1897.4 L584.2,1897.6 L585.0,1906.7 L585.8,1907.5 L586.7,1912.5 L587.5,1909.3 L588.3,1916.7 L589.1,1914.4 L590.0,1922.8 L590.8,1922.5 L591.6,1905.6 L592.5,1893.3 L593.4,1890.1 L594.2,1885.0 L595.0,1877.7 L595.8,1878.2 L596.7,1877.4 L597.5,1872.3 L598.3,1868.3 L599.1,1868.6 L600.0,1881.6 L600.9,1884.9 L601.7,1888.3 L602.5,1873.7 L603.3,1861.7 L604.1,1862.5 L605.0,1856.3 L605.8,1859.2 L606.7,1860.4 L607.5,1856.7 L608.3,1864.4 L609.1,1869.4 L610.0,1868.4 L610.8,1876.7 L611.6,1875.9 L612.5,1880.3 L613.3,1875.9 L614.2,1880.9 L615.0,1878.1 L615.9,1884.1 L616.7,1883.3 L617.5,1880.3 L618.3,1875.8 L619.2,1870.2 L620.0,1866.2 L620.8,1861.7 L621.6,1865.1 L622.5,1871.1 L623.4,1874.6 L624.2,1878.3 L625.0,1882.3 L625.7,1883.0 L626.5,1892.3 L627.2,1890.0 L628.0,1893.3 L628.0,1880.0 L628.8,1887.3 L629.6,1890.1 L630.5,1888.5 L631.3,1895.0 L632.1,1888.4 L633.0,1893.0 L633.9,1884.5 L634.7,1883.3 L635.5,1886.4 L636.4,1887.5 L637.2,1891.3 L638.0,1890.2 L638.9,1896.2 L639.7,1898.3 L640.5,1887.9 L641.3,1880.0 L642.0,1876.0 L642.7,1871.7 L643.6,1870.9 L644.5,1882.4 L645.4,1883.1 L646.3,1886.7 L647.1,1881.3 L648.0,1883.7 L648.8,1884.0 L649.7,1884.2 L650.5,1881.7 L651.3,1875.3 L652.2,1873.0 L653.0,1863.3 L653.8,1860.5 L654.7,1856.5 L655.5,1856.7 L656.3,1854.1 L657.2,1856.1 L658.0,1850.7 L658.9,1853.8 L659.7,1850.0 L660.5,1855.4 L661.4,1857.7 L662.2,1860.0 L663.0,1856.5 L663.9,1847.4 L664.7,1842.7 L665.5,1836.7 L666.3,1833.5 L667.2,1832.1 L668.0,1831.7 L668.7,1827.6 L669.5,1829.7 L670.2,1827.5 L671.0,1827.5 L671.7,1828.3 L672.5,1832.6 L673.2,1835.9 L674.0,1837.4 L674.7,1841.7 L675.5,1838.1 L676.4,1828.9 L677.2,1820.0 L678.0,1820.8 L678.9,1815.2 L679.7,1815.8 L680.5,1815.6 L681.4,1824.1 L682.2,1825.5 L683.0,1828.3 L683.8,1827.0 L684.7,1822.9 L685.5,1819.2 L686.3,1828.0 L687.2,1829.5 L688.0,1836.7 L688.8,1834.0 L689.6,1824.9 L690.5,1817.7 L691.3,1818.3 L692.1,1813.7 L693.0,1812.9 L693.9,1799.6 L694.7,1800.0 L695.5,1800.8 L696.4,1794.3 L697.2,1795.0 L698.0,1793.8 L698.7,1793.9 L699.5,1793.5 L700.2,1790.9 L701.0,1791.7 L701.7,1796.8 L702.5,1801.3 L703.2,1806.6 L704.0,1806.9 L704.7,1813.3 L705.5,1811.0 L706.4,1803.9 L707.2,1798.6 L708.0,1786.7 L708.8,1785.9 L709.7,1793.3 L710.5,1789.8 L711.4,1799.3 L712.2,1800.0 L713.0,1797.0 L713.8,1788.9 L714.7,1784.6 L715.5,1785.1 L716.3,1780.0 L717.1,1784.7 L718.0,1784.4 L718.8,1789.8 L719.7,1787.1 L720.5,1796.7 L721.3,1793.0 L722.2,1788.8 L723.0,1784.9 L723.9,1782.7 L724.7,1776.7 L725.5,1778.6 L726.4,1781.6 L727.2,1789.0 L728.0,1791.7 L728.8,1789.5 L729.6,1789.8 L730.5,1788.8 L731.3,1786.7 L732.1,1784.0 L733.0,1781.8 L733.9,1778.1 L734.7,1773.3 L735.5,1764.2 L736.3,1760.0 L737.1,1758.2 L738.0,1758.1 L738.8,1753.3 L739.6,1751.8 L740.4,1753.8 L741.1,1751.4 L741.9,1750.8 L742.7,1750.8 L743.4,1759.2 L744.1,1764.7 L744.8,1769.8 L745.5,1776.7 L746.3,1774.6 L747.1,1768.0 L748.0,1766.1 L748.8,1763.3 L749.6,1768.3 L750.5,1770.6 L751.4,1773.2 L752.2,1778.3 L753.0,1777.8 L753.8,1775.9 L754.7,1776.0 L755.5,1773.9 L756.3,1771.7 L756.8,1779.7 L757.2,1788.3 L758.0,1789.8 L758.7,1792.2 L759.5,1794.0 L760.2,1798.2 L761.0,1798.3 L761.7,1793.6 L762.3,1787.3 L763.0,1780.0 L763.7,1776.3 L764.3,1771.9 L765.0,1768.3 L765.8,1771.5 L766.6,1771.5 L767.4,1774.6 L768.1,1773.8 L768.9,1778.0 L769.7,1780.0 L770.5,1780.6 L771.4,1775.8 L772.2,1774.7 L773.0,1775.0 L773.9,1786.0 L774.7,1796.7 L775.5,1800.5 L776.3,1801.5 L777.2,1800.9 L778.0,1802.9 L778.8,1805.0 L779.6,1802.5 L780.5,1798.8 L781.4,1797.8 L782.2,1795.0 L783.0,1790.1 L783.9,1784.3 L784.7,1781.7 L785.5,1782.6 L786.3,1784.1 L787.2,1784.6 L788.0,1785.7 L788.8,1788.3 L789.6,1787.4 L790.4,1785.8 L791.1,1780.5 L791.9,1778.6 L792.7,1776.7 L793.4,1780.6 L794.0,1783.0 L794.7,1786.7 L795.5,1788.3 L796.4,1793.7 L797.2,1792.4 L798.0,1796.7 L798.8,1797.7 L799.6,1799.3 L800.5,1800.6 L801.3,1803.3 L802.1,1805.7 L803.0,1809.1 L803.9,1812.5 L804.7,1813.3 L805.5,1820.1 L806.3,1825.8 L807.1,1822.2 L808.0,1817.1 L808.9,1815.5 L809.7,1811.7 L810.5,1810.0 L811.4,1811.0 L812.2,1811.7 L813.0,1810.0 L813.8,1807.5 L814.6,1804.7 L815.5,1801.6 L816.3,1800.0 L817.1,1801.5 L818.0,1802.9 L818.8,1802.9 L819.6,1805.1 L820.5,1808.1 L821.3,1808.3 L822.1,1800.4 L823.0,1797.1 L823.8,1791.7 L824.6,1793.1 L825.5,1799.8 L826.4,1800.7 L827.2,1803.3 L828.0,1803.4 L828.9,1802.6 L829.7,1801.9 L830.5,1801.4 L831.4,1799.2 L832.2,1800.0 L833.0,1791.6 L833.8,1781.7 L834.6,1780.0 L835.5,1775.0 L836.3,1776.1 L837.2,1772.9 L838.0,1770.0 L838.8,1766.2 L839.6,1766.5 L840.5,1764.6 L841.3,1763.3 L842.1,1762.1 L843.0,1762.8 L843.8,1759.9 L844.6,1761.2 L845.5,1760.8 L846.3,1760.0 L847.1,1760.3 L848.0,1758.8 L848.8,1758.1 L849.6,1758.8 L850.5,1755.9 L851.3,1756.7 L852.1,1761.8 L853.0,1762.6 L853.9,1765.2 L854.7,1770.0 L855.5,1773.1 L856.3,1774.3 L857.2,1777.8 L858.0,1783.4 L858.8,1786.7 L859.6,1781.2 L860.5,1778.9 L861.3,1773.3 L862.1,1772.5 L863.0,1772.5 L863.8,1773.2 L864.6,1775.8 L865.5,1774.3 L866.3,1775.0 L867.1,1777.4 L868.0,1780.0 L868.8,1784.2 L869.6,1781.5 L870.5,1781.2 L871.3,1780.3 L872.2,1779.6 L873.0,1776.7 L873.8,1780.8 L874.6,1782.6 L875.5,1784.5 L876.3,1788.3 L877.1,1789.0 L878.0,1788.8 L878.9,1792.6 L879.7,1795.0 L880.5,1794.4 L881.4,1791.9 L882.2,1791.8 L883.0,1790.0 L883.8,1794.2 L884.7,1803.7 L885.5,1808.3 L886.3,1808.6 L887.2,1808.7 L888.0,1809.4 L888.9,1807.5 L889.7,1809.2 L890.5,1806.0 L891.4,1801.8 L892.2,1802.4 L893.0,1796.7 L893.8,1793.0 L894.6,1790.3 L895.5,1789.1 L896.3,1785.0 L897.1,1781.9 L898.0,1784.2 L898.8,1779.2 L899.7,1779.2 L900.5,1777.5 L901.3,1777.4 L902.2,1781.1 L903.0,1777.9 L903.9,1783.7 L904.7,1783.3 L905.5,1782.5 L906.4,1784.8 L907.2,1783.4 L908.0,1786.2 L908.9,1786.3 L909.7,1786.7 L910.5,1784.9 L911.4,1782.0 L912.2,1780.0 L913.0,1776.7 L913.8,1773.9 L914.7,1768.2 L915.5,1765.0 L916.4,1762.9 L917.3,1762.2 L918.1,1764.1 L919.0,1761.5 L919.9,1763.0 L920.8,1760.8 L921.5,1762.9 L922.3,1764.1 L923.0,1769.0 L923.8,1770.0 L924.6,1773.9 L925.5,1772.6 L926.3,1773.9 L927.2,1775.8 L928.0,1778.3 L928.8,1778.5 L929.7,1775.1 L930.5,1774.7 L931.3,1774.9 L932.2,1772.6 L933.0,1771.7 L933.8,1774.8 L934.6,1776.8 L935.5,1779.7 L936.3,1783.3 L937.1,1782.8 L938.0,1781.8 L938.8,1781.5 L939.6,1779.2 L940.5,1779.7 L941.3,1778.3 L942.0,1784.5 L942.6,1790.0 L943.3,1795.8 L944.1,1795.9 L944.9,1795.8 L945.7,1794.1 L946.4,1793.6 L947.2,1791.6 L948.0,1793.0 L948.8,1791.7 L949.6,1782.2 L950.5,1773.3 L951.3,1770.4 L952.2,1767.3 L953.0,1766.7 L953.8,1766.4 L954.7,1760.7 L955.5,1758.3 L956.3,1757.4 L957.2,1756.8 L958.0,1754.4 L958.9,1754.6 L959.7,1753.3 L960.5,1753.2 L961.4,1754.3 L962.2,1756.2 L963.0,1756.8 L963.9,1757.3 L964.7,1758.3 L965.5,1758.6 L966.3,1761.5 L967.2,1760.8 L968.0,1765.0 L968.8,1765.0 L969.6,1760.6 L970.4,1757.8 L971.1,1755.0 L971.9,1750.9 L972.7,1746.7 L973.6,1747.8 L974.5,1752.5 L975.4,1755.9 L976.3,1758.3 L977.1,1754.6 L978.0,1751.1 L978.8,1751.7 L979.6,1754.5 L980.5,1756.2 L981.3,1759.2 L982.2,1761.0 L983.0,1763.3 L983.8,1761.5 L984.7,1759.6 L985.5,1759.0 L986.4,1755.6 L987.2,1753.3 L988.0,1755.9 L988.8,1756.7 L989.7,1760.9 L990.5,1760.7 L991.3,1763.3 L992.1,1762.7 L993.0,1757.0 L993.8,1759.2 L994.6,1756.3 L995.5,1754.5 L996.3,1755.1 L997.2,1751.8 L998.0,1750.0 L998.8,1749.2 L999.7,1748.3 L1000.5,1750.8 L1001.3,1748.3 L1002.2,1748.0 L1003.0,1746.7 L1003.8,1748.5 L1004.5,1754.4 L1005.2,1755.7 L1006.0,1758.3 L1006.0,1750.0 L1006.8,1750.2 L1007.7,1751.3 L1008.5,1749.9 L1009.4,1753.9 L1010.2,1753.3 L1011.0,1758.3 L1011.9,1768.1 L1012.7,1773.3 L1013.5,1773.0 L1014.4,1773.8 L1015.2,1775.6 L1016.0,1775.7 L1016.9,1774.6 L1017.7,1776.7 L1018.5,1781.9 L1019.3,1786.7 L1020.1,1790.8 L1021.0,1792.9 L1021.8,1796.7 L1022.5,1792.7 L1023.2,1791.7 L1024.0,1788.1 L1024.7,1786.7 L1025.5,1784.1 L1026.2,1782.7 L1027.0,1780.3 L1027.7,1778.3 L1028.5,1782.2 L1029.3,1784.6 L1030.2,1791.7 L1031.0,1795.0 L1031.8,1797.1 L1032.5,1799.6 L1033.2,1802.8 L1034.0,1805.0 L1034.7,1805.6 L1035.5,1799.5 L1036.2,1798.4 L1037.0,1799.6 L1037.7,1796.7 L1038.5,1796.1 L1039.3,1800.0 L1040.2,1797.0 L1041.0,1799.0 L1041.8,1800.0 L1042.2,1792.3 L1042.7,1783.3 L1043.5,1783.4 L1044.4,1782.0 L1045.2,1781.3 L1046.0,1779.7 L1046.9,1778.6 L1047.7,1778.3 L1048.5,1776.1 L1049.3,1775.8 L1050.2,1772.7 L1051.0,1770.0 L1051.8,1769.1 L1052.7,1768.8 L1053.5,1768.5 L1054.3,1768.0 L1055.2,1765.4 L1056.0,1765.0 L1056.8,1762.1 L1057.7,1759.6 L1058.5,1759.5 L1059.3,1753.3 L1060.1,1752.1 L1061.0,1753.3 L1061.8,1748.5 L1062.6,1751.5 L1063.5,1747.5 L1064.3,1748.3 L1065.1,1748.7 L1066.0,1750.4 L1066.8,1752.3 L1067.7,1753.9 L1068.5,1755.0 L1069.3,1749.3 L1070.2,1743.0 L1071.0,1736.7 L1071.8,1734.7 L1072.7,1737.4 L1073.5,1732.5 L1074.3,1734.5 L1075.2,1737.7 L1076.0,1741.4 L1076.9,1741.9 L1077.7,1743.3 L1078.5,1741.8 L1079.3,1739.4 L1080.2,1739.4 L1081.0,1735.0 L1081.8,1736.5 L1082.7,1740.8 L1083.5,1745.0 L1084.3,1744.2 L1085.2,1739.9 L1086.0,1741.0 L1086.8,1741.8 L1087.6,1738.2 L1088.5,1738.3 L1089.3,1736.7 L1089.8,1733.0 L1090.2,1728.3 L1091.0,1729.6 L1091.8,1734.8 L1092.7,1736.1 L1093.5,1740.0 L1094.3,1737.8 L1095.2,1738.0 L1096.0,1737.1 L1096.8,1735.7 L1097.6,1734.5 L1098.5,1735.6 L1099.3,1733.3 L1100.1,1733.3 L1100.9,1731.5 L1101.6,1729.6 L1102.4,1727.4 L1103.2,1727.5 L1103.9,1729.9 L1104.6,1732.5 L1105.3,1737.3 L1106.0,1740.0 L1106.8,1760.0 L1107.6,1760.4 L1108.5,1759.6 L1109.3,1757.8 L1110.2,1756.9 L1111.0,1756.7 L1111.8,1752.0 L1112.7,1746.8 L1113.5,1741.7 L1114.3,1744.1 L1115.2,1746.7 L1116.0,1745.4 L1116.8,1748.3 L1117.6,1748.6 L1118.5,1739.7 L1119.3,1738.7 L1120.2,1736.0 L1121.0,1735.0 L1121.8,1732.1 L1122.7,1731.0 L1123.5,1729.2 L1124.3,1733.2 L1125.2,1730.4 L1126.0,1734.9 L1126.9,1733.7 L1127.7,1735.8 L1128.5,1734.3 L1129.3,1730.7 L1130.2,1733.4 L1131.0,1728.3 L1131.8,1726.8 L1132.7,1726.0 L1133.5,1728.9 L1134.3,1724.6 L1135.2,1724.7 L1136.0,1723.3 L1136.8,1725.7 L1137.7,1727.7 L1138.5,1729.8 L1139.3,1734.2 L1140.1,1730.1 L1141.0,1727.9 L1141.8,1721.7 L1142.6,1722.8 L1143.5,1723.4 L1144.3,1726.1 L1145.2,1724.2 L1146.0,1726.7 L1146.8,1720.4 L1147.7,1710.0 L1148.5,1709.0 L1149.2,1707.8 L1150.0,1709.1 L1150.7,1707.5 L1151.4,1710.6 L1152.1,1712.4 L1152.8,1715.9 L1153.5,1718.3 L1154.3,1733.3 L1155.2,1732.0 L1156.0,1729.9 L1156.8,1724.4 L1157.7,1723.3 L1158.5,1732.7 L1159.3,1748.3 L1160.1,1747.9 L1161.0,1740.0 L1161.8,1737.0 L1162.7,1734.3 L1163.5,1730.0 L1164.3,1734.3 L1165.2,1740.0 L1166.0,1735.7 L1166.8,1726.5 L1167.7,1722.6 L1168.5,1716.7 L1169.3,1713.7 L1170.2,1716.3 L1171.0,1711.9 L1171.9,1712.9 L1172.7,1710.0 L1173.5,1708.5 L1174.3,1702.2 L1175.2,1701.1 L1176.0,1698.9 L1176.8,1695.0 L1177.7,1698.2 L1178.5,1701.5 L1179.3,1706.1 L1180.2,1708.3 L1181.0,1705.2 L1181.7,1699.3 L1182.5,1696.3 L1183.2,1693.1 L1184.0,1688.3 L1184.7,1690.1 L1185.5,1691.8 L1186.2,1691.9 L1187.0,1697.4 L1187.7,1696.7 L1187.2,1712.9 L1186.8,1730.0 L1187.6,1731.7 L1188.5,1732.2 L1189.3,1733.7 L1190.2,1734.9 L1191.0,1734.8 L1191.9,1737.8 L1192.7,1738.3 L1193.5,1733.1 L1194.3,1725.2 L1195.2,1719.2 L1196.0,1711.7 L1196.8,1719.3 L1197.7,1726.1 L1198.5,1733.3 L1199.3,1731.0 L1200.2,1722.6 L1201.0,1720.1 L1201.9,1715.8 L1202.7,1710.0 L1203.5,1715.1 L1204.4,1718.6 L1205.2,1725.0 L1206.0,1750.0 L1206.8,1750.6 L1207.7,1755.6 L1208.5,1753.3 L1209.3,1756.7 L1209.8,1765.2 L1210.2,1773.3 L1211.0,1771.3 L1211.8,1768.0 L1212.7,1763.0 L1213.5,1760.7 L1214.3,1760.0 L1215.2,1769.4 L1216.0,1778.3 L1216.8,1774.8 L1217.7,1773.2 L1218.5,1770.9 L1219.3,1768.3 L1220.2,1768.9 L1221.0,1767.5 L1221.8,1767.8 L1222.7,1770.0 L1223.5,1779.9 L1224.3,1786.7 L1225.2,1791.4 L1226.0,1798.3 L1226.8,1795.8 L1227.7,1793.5 L1228.5,1795.7 L1229.3,1793.3 L1230.2,1781.4 L1231.0,1773.3 L1231.8,1772.1 L1232.7,1773.8 L1233.5,1772.7 L1234.3,1772.9 L1235.2,1770.9 L1236.0,1771.7 L1236.8,1774.2 L1237.7,1783.3 L1238.5,1775.2 L1239.3,1768.3 L1240.2,1765.5 L1241.0,1762.5 L1241.8,1762.1 L1242.7,1758.3 L1243.5,1757.1 L1244.4,1754.1 L1245.2,1755.2 L1246.0,1752.4 L1246.9,1750.8 L1247.7,1750.0 L1248.5,1755.5 L1249.4,1755.3 L1250.2,1761.7 L1251.0,1761.5 L1251.8,1758.7 L1252.7,1752.8 L1253.5,1754.0 L1254.3,1751.7 L1255.2,1761.4 L1256.0,1771.7 L1256.8,1768.2 L1257.7,1767.0 L1258.5,1764.4 L1259.3,1763.3 L1260.2,1773.6 L1261.0,1783.3 L1261.8,1786.4 L1262.7,1788.5 L1263.5,1795.0 L1264.3,1798.5 L1265.2,1798.6 L1266.0,1798.1 L1266.8,1800.8 L1267.6,1798.7 L1268.5,1796.1 L1269.3,1787.8 L1270.2,1786.8 L1271.0,1783.3 L1271.8,1786.2 L1272.7,1791.7 L1273.5,1788.1 L1274.3,1779.9 L1275.2,1772.3 L1276.0,1774.3 L1276.8,1765.0 L1277.6,1767.3 L1278.5,1775.0 L1279.3,1776.7 L1280.1,1777.5 L1281.0,1770.9 L1281.8,1771.7 L1282.6,1777.9 L1283.5,1787.5 L1284.3,1791.7 L1285.1,1790.9 L1286.0,1792.5 L1286.8,1791.4 L1287.7,1792.5 L1288.5,1791.7 L1287.7,1813.3 L1288.5,1815.2 L1289.3,1817.5 L1290.2,1818.5 L1291.0,1820.0 L1291.8,1836.0 L1292.7,1850.0 L1293.5,1858.1 L1294.3,1875.0 L1295.1,1867.9 L1296.0,1862.4 L1296.8,1853.3 L1297.7,1860.6 L1298.5,1875.8 L1299.3,1885.4 L1300.2,1896.7 L1300.9,1884.4 L1301.6,1880.9 L1302.3,1863.4 L1303.0,1851.7 L1303.7,1861.3 L1304.5,1867.4 L1305.2,1878.3 L1306.0,1889.4 L1306.8,1898.2 L1307.7,1909.5 L1308.5,1920.0 L1309.3,1907.8 L1310.2,1900.9 L1311.0,1881.7 L1311.8,1882.5 L1312.7,1882.5 L1313.5,1882.5 L1314.3,1882.5 L1315.2,1877.5 L1316.0,1878.3 L1316.8,1878.9 L1317.7,1886.1 L1318.5,1888.3 L1319.3,1884.9 L1320.2,1880.7 L1321.0,1875.2 L1321.9,1875.1 L1322.7,1869.2 L1323.5,1878.0 L1324.4,1878.4 L1325.2,1883.3 L1326.0,1888.3 L1326.9,1897.7 L1327.7,1900.0 L1328.5,1894.0 L1329.3,1890.2 L1330.2,1887.2 L1331.0,1881.7 L1331.8,1878.4 L1332.7,1882.5 L1333.5,1878.4 L1334.3,1879.2 L1335.1,1885.0 L1336.0,1888.0 L1336.8,1891.7 L1337.6,1897.7 L1338.5,1898.0 L1339.3,1906.7 L1340.0,1915.8 L1340.8,1915.5 L1341.5,1919.9 L1342.3,1928.3 L1343.0,1927.5 L1343.7,1914.9 L1344.5,1914.0 L1345.2,1903.3 L1346.0,1893.3 L1346.8,1885.0 L1347.6,1878.9 L1348.5,1885.8 L1349.3,1872.8 L1350.2,1877.1 L1351.0,1873.3 L1351.8,1872.0 L1352.7,1872.2 L1353.5,1868.2 L1354.3,1874.0 L1355.2,1869.0 L1356.0,1868.3 L1356.8,1868.4 L1357.7,1875.0 L1358.5,1867.9 L1359.3,1867.1 L1360.2,1858.0 L1361.0,1856.7 L1361.8,1861.0 L1362.7,1862.2 L1363.5,1862.6 L1364.4,1862.0 L1365.2,1869.2 L1366.0,1862.9 L1366.8,1863.0 L1367.7,1856.1 L1368.5,1859.0 L1369.3,1850.0 L1370.2,1846.6 L1371.0,1848.9 L1371.8,1847.7 L1372.7,1845.0 L1373.5,1846.9 L1374.4,1849.7 L1375.2,1853.3 L1376.0,1851.9 L1376.9,1855.8 L1377.7,1856.7 L1378.5,1855.9 L1379.4,1859.1 L1380.2,1856.9 L1381.0,1859.1 L1381.9,1855.9 L1382.7,1858.3 L1383.3,1851.1 L1384.0,1843.3 L1384.8,1835.3 L1385.7,1833.3 L1386.5,1832.3 L1387.4,1828.7 L1388.2,1825.8 L1389.0,1826.4 L1389.9,1827.1 L1390.7,1823.3 L1391.5,1828.0 L1392.3,1826.1 L1393.2,1833.5 L1394.0,1830.4 L1394.8,1835.0 L1395.6,1834.1 L1396.5,1826.4 L1397.3,1829.3 L1398.2,1828.4 L1399.0,1820.0 L1399.8,1814.1 L1400.7,1813.0 L1401.5,1806.7 L1402.3,1803.8 L1403.2,1805.0 L1404.0,1807.5 L1404.9,1803.2 L1405.7,1803.3 L1406.5,1807.9 L1407.3,1808.5 L1408.2,1815.0 L1409.0,1818.3 L1409.8,1812.2 L1410.7,1810.1 L1411.5,1803.3 L1412.3,1801.2 L1413.2,1804.1 L1414.0,1798.4 L1414.8,1799.2 L1415.6,1804.2 L1416.5,1804.7 L1417.3,1811.7 L1418.2,1817.4 L1419.0,1820.0 L1419.8,1812.9 L1420.7,1805.1 L1421.5,1800.0 L1422.3,1799.3 L1423.2,1797.7 L1424.0,1795.0 L1424.8,1797.4 L1425.7,1800.2 L1426.5,1798.9 L1427.4,1805.8 L1428.2,1805.0 L1429.0,1804.4 L1429.8,1800.2 L1430.7,1805.0 L1431.5,1799.8 L1432.3,1800.0 L1433.2,1796.7 L1434.0,1788.9 L1434.8,1787.2 L1435.7,1783.3 L1436.5,1780.4 L1437.4,1783.8 L1438.2,1781.0 L1439.0,1780.0 L1439.9,1780.3 L1440.7,1780.0 L1441.5,1780.8 L1442.3,1778.0 L1443.2,1780.0 L1444.0,1777.5 L1444.8,1778.3 L1445.7,1786.5 L1446.5,1798.3 L1447.3,1800.2 L1448.2,1802.3 L1449.0,1805.1 L1449.9,1808.2 L1450.7,1809.2 L1451.5,1804.3 L1452.4,1800.6 L1453.2,1796.7 L1454.0,1795.8 L1454.8,1793.0 L1455.7,1790.6 L1456.5,1789.0 L1457.3,1786.7 L1458.2,1780.4 L1459.0,1779.9 L1459.8,1774.6 L1460.7,1773.3 L1461.5,1772.0 L1462.3,1772.0 L1463.2,1767.5 L1464.0,1768.3 L1464.8,1769.1 L1465.7,1767.5 L1466.5,1768.2 L1467.3,1767.7 L1468.2,1769.1 L1469.0,1768.3 L1469.8,1760.6 L1470.7,1755.0 L1471.5,1751.7 L1472.3,1754.2 L1473.2,1752.1 L1474.0,1752.5 L1474.8,1750.8 L1475.6,1752.9 L1476.5,1752.1 L1477.3,1755.9 L1478.2,1756.8 L1479.0,1758.3 L1478.2,1788.3 L1479.0,1784.2 L1479.8,1780.4 L1480.7,1776.7 L1481.5,1771.5 L1482.3,1768.3 L1482.8,1784.1 L1483.2,1800.0 L1484.0,1802.0 L1484.9,1799.8 L1485.7,1802.4 L1486.5,1801.5 L1487.3,1802.5 L1488.2,1804.0 L1489.0,1805.0 L1489.8,1799.9 L1490.7,1796.1 L1491.5,1788.1 L1492.3,1783.3 L1493.2,1789.2 L1494.0,1792.9 L1494.8,1797.1 L1495.7,1801.7 L1496.5,1802.4 L1497.4,1812.1 L1498.2,1815.8 L1499.0,1811.5 L1499.9,1806.1 L1500.7,1803.3 L1501.5,1798.2 L1502.4,1794.1 L1503.2,1786.7 L1504.0,1784.4 L1504.8,1785.6 L1505.7,1786.7 L1506.5,1785.0 L1507.3,1782.5 L1508.2,1783.3 L1509.0,1784.3 L1509.8,1783.3 L1510.6,1791.1 L1511.5,1798.0 L1512.3,1803.3 L1513.2,1806.5 L1514.0,1811.2 L1514.8,1810.7 L1515.7,1813.3 L1516.5,1808.7 L1517.3,1807.6 L1518.2,1805.4 L1519.0,1801.7 L1519.8,1795.3 L1520.7,1785.8 L1521.5,1782.7 L1522.3,1775.0 L1523.1,1774.6 L1524.0,1776.7 L1524.8,1779.4 L1525.6,1777.7 L1526.5,1778.4 L1527.3,1780.0 L1528.2,1775.0 L1529.0,1769.2 L1529.8,1767.8 L1530.7,1760.0 L1531.5,1760.9 L1532.3,1761.9 L1533.2,1760.2 L1534.0,1761.7 L1534.8,1746.7 L1535.7,1745.7 L1536.5,1746.3 L1537.3,1744.2 L1538.2,1745.0 L1539.0,1753.0 L1539.9,1755.2 L1540.7,1763.3 L1541.5,1760.9 L1542.3,1757.8 L1543.2,1753.5 L1544.0,1751.7 L1544.8,1754.6 L1545.7,1756.9 L1546.5,1758.3 L1547.3,1753.9 L1548.2,1745.0 L1549.0,1738.3 L1549.8,1739.1 L1550.7,1735.9 L1551.5,1734.3 L1552.3,1733.3 L1553.1,1734.8 L1554.0,1733.0 L1554.8,1734.5 L1555.6,1735.2 L1556.5,1735.8 L1557.3,1735.0 L1558.2,1731.8 L1559.0,1726.4 L1559.8,1727.1 L1560.7,1721.7 L1561.5,1724.2 L1562.3,1726.7 L1563.2,1728.7 L1564.0,1733.3 L1564.8,1735.0 L1565.6,1730.2 L1566.5,1725.8 L1567.3,1720.0 L1568.1,1718.5 L1569.0,1719.7 L1569.8,1715.8 L1570.7,1716.0 L1571.5,1714.2 L1572.3,1717.0 L1573.2,1721.0 L1574.0,1721.1 L1574.8,1725.0 L1575.6,1726.5 L1576.5,1728.1 L1577.3,1730.0 L1578.1,1735.9 L1579.0,1742.6 L1579.8,1750.0 L1580.6,1741.3 L1581.5,1736.8 L1582.3,1728.3 L1583.1,1729.1 L1584.0,1725.4 L1584.8,1727.6 L1585.7,1724.2 L1586.5,1725.0 L1587.3,1726.6 L1588.2,1729.4 L1589.0,1732.2 L1589.9,1734.9 L1590.7,1736.7 L1591.5,1724.0 L1592.3,1720.0 L1593.2,1715.5 L1594.0,1715.0 L1594.8,1716.2 L1595.7,1715.7 L1596.5,1719.1 L1597.4,1716.1 L1598.2,1718.3 L1599.0,1720.5 L1599.9,1727.8 L1600.7,1728.3 L1601.5,1720.9 L1602.3,1722.8 L1603.2,1729.1 L1604.0,1720.9 L1604.8,1721.7 L1605.7,1733.2 L1606.5,1743.3 L1607.2,1745.3 L1607.9,1746.5 L1608.6,1750.8 L1609.3,1753.3 L1610.1,1749.1 L1610.9,1753.3 L1611.6,1750.5 L1612.4,1749.2 L1613.2,1746.7 L1614.0,1730.2 L1614.8,1718.3 L1615.6,1715.9 L1616.5,1716.9 L1617.3,1716.7 L1618.1,1715.9 L1619.0,1719.1 L1619.8,1715.9 L1620.6,1717.6 L1621.5,1720.0 L1622.3,1720.0 L1623.2,1729.2 L1624.0,1736.7 L1624.8,1770.0 L1625.2,1779.2 L1625.7,1788.3 L1626.5,1787.5 L1627.3,1789.3 L1628.2,1794.1 L1629.0,1793.4 L1629.8,1793.3 L1630.6,1786.2 L1631.5,1787.9 L1632.3,1778.3 L1632.8,1766.8 L1633.2,1756.7 L1634.0,1766.9 L1634.8,1776.7 L1635.6,1770.2 L1636.5,1771.0 L1637.3,1762.1 L1638.2,1757.9 L1639.0,1753.3 L1639.8,1760.4 L1640.7,1768.5 L1641.5,1778.3 L1642.2,1782.7 L1642.9,1786.2 L1643.6,1792.0 L1644.3,1794.2 L1645.0,1788.7 L1645.8,1786.1 L1646.5,1783.5 L1647.3,1778.3 L1648.2,1768.3 L1649.0,1756.7 L1649.8,1750.7 L1650.7,1748.8 L1651.5,1741.9 L1652.3,1736.7 L1653.1,1742.1 L1654.0,1745.6 L1654.8,1750.9 L1655.7,1753.2 L1656.5,1758.3 L1657.3,1749.0 L1658.2,1740.0 L1658.9,1751.3 L1659.6,1760.2 L1660.3,1770.4 L1661.0,1780.0 L1661.8,1776.7 L1662.5,1770.9 L1663.2,1766.8 L1664.0,1761.7 L1664.8,1750.4 L1665.7,1745.0 L1666.6,1750.3 L1667.5,1756.9 L1668.4,1759.9 L1669.3,1766.7 L1670.0,1763.7 L1670.8,1761.2 L1671.5,1757.7 L1672.3,1755.0 L1673.2,1752.0 L1674.0,1747.0 L1674.8,1742.2 L1675.7,1738.3 L1676.5,1736.9 L1677.3,1731.7 L1678.2,1728.8 L1679.0,1726.7 L1679.8,1725.2 L1680.7,1723.2 L1681.5,1720.1 L1682.3,1718.3 L1683.1,1715.6 L1684.0,1715.1 L1684.8,1714.5 L1685.6,1713.6 L1686.5,1713.5 L1687.3,1710.0 L1688.1,1708.0 L1689.0,1707.2 L1689.8,1703.2 L1690.7,1706.8 L1691.5,1703.3 L1692.3,1709.6 L1693.2,1714.3 L1694.0,1720.0 L1694.8,1712.4 L1695.7,1703.4 L1696.5,1701.6 L1697.3,1693.3 L1698.0,1691.1 L1698.8,1693.5 L1699.5,1690.8 L1700.3,1690.7 L1701.0,1688.3 L1701.8,1690.3 L1702.5,1694.9 L1703.2,1693.8 L1704.0,1698.3 L1704.8,1704.0 L1705.7,1704.5 L1706.5,1706.9 L1707.3,1711.7 L1708.1,1708.8 L1709.0,1705.1 L1709.8,1704.2 L1710.7,1699.9 L1711.5,1698.3 L1712.3,1700.6 L1713.2,1705.6 L1714.0,1709.3 L1714.8,1713.3 L1715.6,1720.3 L1716.5,1727.5 L1717.3,1733.3 L1718.2,1737.3 L1719.0,1738.3 L1719.7,1739.5 L1720.5,1742.4 L1721.2,1737.7 L1722.0,1742.9 L1722.7,1743.3 L1723.5,1741.0 L1724.2,1734.7 L1725.0,1733.4 L1725.7,1730.0 L1726.5,1723.6 L1727.3,1716.7 L1728.1,1718.5 L1729.0,1724.1 L1729.8,1728.3 L1730.6,1722.5 L1731.5,1714.4 L1732.3,1708.3 L1733.1,1713.7 L1734.0,1717.6 L1734.8,1717.7 L1735.7,1720.3 L1736.5,1725.0 L1737.3,1726.0 L1738.2,1725.9 L1739.0,1725.8 L1739.8,1728.3 L1740.6,1722.0 L1741.5,1715.5 L1742.3,1710.0 L1743.1,1707.7 L1744.0,1707.4 L1744.8,1705.3 L1745.6,1702.5 L1746.5,1699.7 L1747.3,1698.3 L1748.1,1699.7 L1749.0,1699.6 L1749.8,1700.7 L1750.7,1699.8 L1751.5,1698.1 L1752.4,1704.1 L1753.2,1703.3 L1753.9,1697.7 L1754.6,1693.7 L1755.3,1689.6 L1756.0,1685.0 L1756.8,1686.2 L1757.5,1687.1 L1758.2,1690.7 L1759.0,1690.0 L1759.9,1690.4 L1760.7,1691.7 L1761.6,1690.8 L1762.4,1692.8 L1763.3,1693.3 L1764.2,1695.1 L1765.0,1695.6 L1765.8,1697.5 L1766.7,1698.3 L1767.5,1701.5 L1768.4,1708.0 L1769.2,1711.7 L1770.0,1711.5 L1770.8,1714.1 L1771.7,1714.7 L1772.5,1717.4 L1773.3,1718.3 L1774.1,1724.1 L1775.0,1727.3 L1775.8,1731.7 L1776.7,1725.1 L1777.5,1721.3 L1778.3,1716.7 L1779.2,1710.0 L1780.0,1709.5 L1780.9,1708.1 L1781.7,1704.9 L1782.5,1704.8 L1783.3,1703.3 L1784.2,1702.4 L1785.0,1701.7 L1785.8,1704.0 L1786.7,1705.5 L1787.5,1707.1 L1788.3,1710.3 L1789.2,1710.3 L1790.0,1713.3 L1790.8,1695.0 L1791.6,1694.0 L1792.5,1693.5 L1793.3,1690.7 L1794.2,1690.9 L1795.0,1689.2 L1795.9,1689.0 L1796.7,1689.2 L1797.5,1690.2 L1798.4,1691.0 L1799.2,1692.6 L1800.0,1693.4 L1800.9,1692.5 L1801.7,1695.0 L1802.5,1695.8 L1803.4,1692.9 L1804.2,1688.2 L1805.0,1687.8 L1805.9,1686.1 L1806.7,1685.0 L1807.5,1689.3 L1808.4,1693.5 L1809.2,1696.7 L1810.0,1693.2 L1810.8,1686.7 L1811.7,1691.0 L1812.5,1683.6 L1813.3,1680.0 L1814.1,1681.5 L1815.0,1679.8 L1815.8,1681.8 L1816.7,1683.0 L1817.5,1681.5 L1818.4,1684.1 L1819.2,1683.3 L1820.0,1681.1 L1820.8,1681.4 L1821.7,1676.9 L1822.5,1677.3 L1823.3,1673.3 L1824.1,1676.7 L1825.0,1687.3 L1825.8,1690.8 L1826.7,1687.0 L1827.5,1682.4 L1828.3,1680.4 L1829.2,1675.0 L1830.0,1669.4 L1830.9,1666.2 L1831.7,1660.0 L1832.5,1655.1 L1833.3,1648.3 L1834.1,1648.9 L1835.0,1649.1 L1835.8,1646.7 L1836.5,1649.3 L1837.3,1652.4 L1838.0,1651.2 L1838.8,1652.4 L1839.5,1654.1 L1840.3,1655.0 L1841.2,1654.4 L1842.0,1652.6 L1842.8,1654.2 L1843.7,1653.3 L1844.5,1651.1 L1845.4,1652.2 L1846.2,1651.3 L1847.0,1650.5 L1847.9,1649.3 L1848.7,1650.0 L1849.5,1647.4 L1850.3,1643.9 L1851.2,1642.8 L1852.0,1638.5 L1852.8,1635.0 L1853.6,1636.8 L1854.5,1635.5 L1855.3,1636.7 L1856.2,1636.1 L1857.0,1638.3 L1857.8,1632.5 L1858.7,1629.4 L1859.5,1623.3 L1860.3,1623.8 L1861.2,1625.2 L1862.0,1625.6 L1862.9,1629.1 L1863.7,1628.3 L1864.5,1630.1 L1865.3,1634.6 L1866.2,1635.0 L1867.0,1639.0 L1867.8,1640.0 L1868.7,1635.2 L1869.5,1631.9 L1870.3,1631.7 L1871.2,1626.7 L1872.0,1621.0 L1872.9,1617.2 L1873.7,1611.7 L1874.5,1611.7 L1875.3,1610.4 L1876.2,1608.9 L1877.0,1606.1 L1877.8,1606.7 L1878.7,1610.9 L1879.5,1616.4 L1880.3,1621.8 L1881.2,1625.8 L1882.0,1611.8 L1882.8,1596.7 L1883.6,1595.4 L1884.5,1592.3 L1885.3,1591.9 L1886.2,1591.2 L1887.0,1588.3 L1887.8,1589.6 L1888.7,1593.2 L1889.5,1597.6 L1890.4,1600.8 L1891.2,1601.7 L1892.0,1595.7 L1892.9,1589.4 L1893.7,1583.3 L1894.5,1580.0 L1895.3,1579.2 L1896.2,1576.0 L1897.0,1575.0 L1897.8,1576.8 L1898.7,1578.6 L1899.5,1579.6 L1900.3,1582.1 L1901.2,1580.3 L1902.0,1583.3 L1902.8,1574.2 L1903.7,1569.8 L1904.5,1560.0 L1905.3,1560.3 L1906.2,1557.2 L1907.0,1558.5 L1907.9,1555.9 L1908.7,1556.7 L1909.5,1557.8 L1910.4,1558.7 L1911.2,1560.4 L1912.0,1558.5 L1912.9,1559.5 L1913.7,1561.7 L1914.3,1557.1 L1915.0,1550.8 L1915.7,1557.6 L1916.5,1567.4 L1917.2,1571.0 L1918.0,1579.7 L1918.7,1587.5 L1919.5,1575.9 L1920.3,1573.4 L1921.2,1564.4 L1922.0,1555.0 L1922.8,1551.4 L1923.7,1546.8 L1924.5,1543.3 L1925.3,1540.3 L1926.2,1541.0 L1927.0,1541.4 L1927.9,1543.8 L1928.7,1540.8 L1929.5,1542.4 L1930.4,1541.9 L1931.2,1544.5 L1932.0,1545.3 L1932.9,1546.3 L1933.7,1546.7 L1934.5,1548.1 L1935.3,1551.7 L1936.2,1556.0 L1937.0,1558.0 L1937.8,1560.0 L1938.6,1570.0 L1939.5,1584.4 L1940.3,1591.7 L1941.1,1587.1 L1942.0,1582.6 L1942.8,1579.9 L1943.7,1575.1 L1944.5,1570.0 L1945.3,1573.0 L1946.2,1579.1 L1947.0,1580.9 L1947.9,1583.2 L1948.7,1586.7 L1949.5,1586.5 L1950.4,1585.1 L1951.2,1582.9 L1952.0,1583.3 L1952.9,1580.2 L1953.7,1580.0 L1954.5,1568.2 L1955.3,1556.7 L1956.2,1555.9 L1957.0,1551.6 L1957.8,1551.6 L1958.7,1550.0 L1959.5,1547.1 L1960.4,1547.8 L1961.2,1544.0 L1962.0,1545.9 L1962.9,1543.1 L1963.7,1540.0 L1964.5,1533.8 L1965.3,1530.0 L1966.0,1530.1 L1966.6,1529.0 L1967.3,1529.2 L1968.0,1533.7 L1968.8,1538.8 L1969.5,1544.0 L1970.3,1546.7 L1971.2,1545.4 L1972.0,1541.1 L1972.8,1533.5 L1973.7,1531.7 L1974.5,1534.5 L1975.4,1537.6 L1976.2,1540.5 L1977.0,1544.2 L1977.9,1547.7 L1978.7,1550.0 L1979.5,1543.0 L1980.3,1536.9 L1981.2,1534.4 L1982.0,1525.0 L1982.8,1522.9 L1983.7,1523.1 L1984.5,1516.7 L1985.4,1517.7 L1986.2,1513.3 L1987.0,1515.3 L1987.9,1515.2 L1988.7,1512.8 L1989.5,1515.2 L1990.3,1513.3 L1991.2,1513.6 L1992.0,1515.0 L1992.8,1518.2 L1993.7,1521.5 L1994.5,1523.4 L1995.3,1526.7 L1996.2,1530.8 L1997.0,1535.8 L1997.8,1538.1 L1998.7,1543.3 L1999.4,1551.2 L2000.1,1558.5 L2000.8,1565.0 L2001.5,1558.9 L2002.2,1552.3 L2003.0,1543.7 L2003.7,1538.3 L2004.5,1522.4 L2005.3,1506.7 L2006.2,1504.5 L2007.0,1504.4 L2007.8,1499.2 L2008.7,1500.0 L2009.5,1497.4 L2010.3,1491.2 L2011.2,1491.3 L2012.0,1486.7 L2012.8,1484.8 L2013.7,1485.0 L2014.5,1484.9 L2015.4,1484.7 L2016.2,1481.7 L2017.0,1485.0 L2017.9,1492.2 L2018.7,1496.7 L2019.5,1503.2 L2020.3,1515.0 L2021.2,1505.3 L2022.0,1495.0 L2022.8,1488.5 L2023.7,1484.9 L2024.5,1478.3 L2025.3,1480.8 L2026.2,1484.1 L2027.0,1486.7 L2027.8,1490.9 L2028.7,1497.8 L2029.5,1502.2 L2030.3,1509.2 L2031.1,1500.9 L2032.0,1489.8 L2032.8,1483.3 L2033.7,1488.2 L2034.5,1492.9 L2035.3,1498.9 L2036.2,1500.0 L2037.0,1496.9 L2037.9,1492.6 L2038.7,1486.7 L2039.5,1475.0 L2040.3,1461.7 L2041.2,1461.7 L2042.0,1457.5 L2042.8,1456.7 L2043.7,1454.2 L2044.5,1456.5 L2045.3,1463.7 L2046.2,1470.2 L2047.0,1471.0 L2047.8,1478.3 L2048.7,1473.0 L2049.5,1465.6 L2050.3,1459.1 L2051.2,1453.3 L2052.0,1459.7 L2052.8,1464.9 L2053.7,1469.4 L2054.5,1476.7 L2055.3,1474.2 L2056.2,1469.0 L2057.0,1471.1 L2057.9,1465.5 L2058.7,1463.3 L2059.5,1460.2 L2060.3,1453.1 L2061.2,1452.9 L2062.0,1445.8 L2062.8,1453.5 L2063.7,1459.9 L2064.5,1466.7 L2065.3,1473.3 L2066.1,1470.1 L2067.0,1465.0 L2067.8,1462.4 L2068.7,1458.4 L2069.5,1455.0 L2070.3,1453.9 L2071.2,1453.5 L2072.0,1451.1 L2072.8,1448.3 L2073.7,1452.2 L2074.5,1456.6 L2075.3,1459.0 L2076.2,1463.3 L2077.0,1459.5 L2077.9,1454.7 L2078.7,1452.1 L2079.5,1448.7 L2080.4,1446.8 L2081.2,1443.3 L2082.0,1452.0 L2082.9,1461.7 L2083.7,1470.0 L2084.5,1474.1 L2085.4,1476.2 L2086.2,1478.3 L2087.0,1469.4 L2087.7,1460.5 L2088.5,1452.1 L2089.2,1444.5 L2090.0,1435.0 L2090.7,1440.1 L2091.4,1445.9 L2092.1,1453.8 L2092.8,1460.0 L2093.7,1457.6 L2094.5,1453.8 L2095.3,1449.3 L2096.2,1445.0 L2097.0,1444.5 L2097.8,1449.5 L2098.7,1452.1 L2099.5,1453.3 L2100.3,1496.7 L2100.9,1513.9 L2101.5,1529.2 L2102.2,1525.2 L2103.0,1515.5 L2103.8,1511.8 L2104.5,1505.0 L2105.3,1497.0 L2106.2,1493.5 L2107.0,1487.0 L2107.9,1482.8 L2108.7,1475.8 L2109.5,1487.2 L2110.4,1496.4 L2111.2,1510.0 L2112.0,1518.7 L2112.8,1526.7 L2113.6,1517.1 L2114.5,1508.5 L2115.3,1496.7 L2116.1,1488.8 L2117.0,1482.5 L2117.8,1476.7 L2118.6,1470.0 L2119.5,1465.9 L2120.3,1458.3 L2121.1,1454.0 L2122.0,1451.2 L2122.8,1447.9 L2123.7,1442.5 L2124.5,1440.0 L2125.3,1449.6 L2126.2,1453.4 L2127.0,1466.6 L2127.8,1471.7 L2128.7,1461.1 L2129.5,1453.3 L2130.3,1448.5 L2131.2,1444.6 L2132.0,1440.1 L2132.8,1437.5 L2133.6,1444.0 L2134.3,1451.2 L2135.1,1458.2 L2135.8,1466.7 L2136.7,1467.1 L2137.5,1467.9 L2138.3,1467.1 L2139.2,1468.3 L2140.0,1460.9 L2140.9,1451.6 L2141.7,1445.0 L2142.4,1446.0 L2143.0,1445.7 L2143.7,1446.7 L2144.3,1459.8 L2145.0,1475.0 L2145.8,1500.0 L2146.6,1502.6 L2147.5,1504.2 L2148.3,1506.7 L2149.2,1528.3 L2150.0,1522.5 L2150.8,1518.4 L2151.7,1514.0 L2152.5,1508.3 L2153.3,1518.7 L2154.2,1532.2 L2155.0,1545.5 L2155.8,1556.7 L2156.6,1545.4 L2157.5,1535.5 L2158.3,1523.3 L2159.1,1518.4 L2160.0,1505.6 L2160.8,1500.0 L2161.6,1499.0 L2162.5,1495.5 L2163.3,1496.3 L2164.2,1492.8 L2165.0,1488.6 L2165.9,1490.4 L2166.7,1486.7 L2167.5,1484.4 L2168.3,1482.4 L2169.2,1480.8 L2170.0,1479.0 L2170.8,1476.7 L2171.7,1479.7 L2172.5,1484.7 L2173.3,1491.0 L2174.2,1493.3 L2175.0,1486.0 L2175.8,1481.6 L2176.7,1477.5 L2177.5,1470.8 L2178.3,1472.5 L2179.2,1477.1 L2180.0,1480.6 L2180.8,1483.3 L2181.7,1503.3 L2182.5,1502.6 L2183.4,1504.3 L2184.2,1503.9 L2185.0,1505.5 L2185.9,1506.5 L2186.7,1506.7 L2187.5,1498.7 L2188.3,1491.2 L2189.2,1483.3 L2190.0,1475.0 L2190.8,1475.6 L2191.7,1472.8 L2192.5,1474.4 L2193.4,1475.6 L2194.2,1473.3 L2195.0,1479.3 L2195.9,1486.4 L2196.7,1493.3 L2197.5,1500.8 L2198.3,1507.4 L2199.2,1516.7 L2200.0,1523.3 L2200.8,1509.8 L2201.7,1496.5 L2202.5,1483.3 L2203.3,1477.6 L2204.2,1471.3 L2205.0,1463.3 L2205.8,1457.9 L2206.7,1456.4 L2207.5,1453.0 L2208.3,1450.0 L2209.2,1446.2 L2210.0,1447.1 L2210.8,1446.3 L2211.7,1441.7 L2212.5,1441.2 L2213.3,1441.2 L2214.2,1435.9 L2215.0,1437.7 L2215.8,1436.7 L2216.6,1435.9 L2217.5,1438.7 L2218.3,1437.2 L2219.2,1437.8 L2220.0,1438.3 L2220.8,1443.6 L2221.7,1448.4 L2222.5,1454.0 L2223.3,1456.7 L2224.1,1452.4 L2225.0,1446.3 L2225.8,1437.4 L2226.7,1436.1 L2227.5,1428.3 L2228.3,1431.8 L2229.2,1433.9 L2230.0,1440.1 L2230.8,1443.3 L2231.6,1438.7 L2232.5,1434.9 L2233.3,1430.8 L2234.2,1436.0 L2235.0,1436.8 L2235.8,1444.0 L2236.7,1446.7 L2237.5,1443.5 L2238.4,1436.0 L2239.2,1433.3 L2240.0,1446.6 L2240.9,1454.3 L2241.7,1466.7 L2242.5,1457.6 L2243.3,1451.4 L2244.2,1441.4 L2245.0,1433.3 L2245.8,1427.1 L2246.7,1425.2 L2247.5,1421.7 L2248.3,1426.3 L2249.2,1428.1 L2250.0,1432.2 L2250.9,1436.4 L2251.7,1440.0 L2252.5,1429.1 L2253.3,1418.3 L2254.2,1415.3 L2255.0,1413.1 L2255.8,1412.9 L2256.7,1410.0 L2257.5,1414.8 L2258.3,1413.1 L2259.2,1421.2 L2260.0,1423.3 L2260.8,1419.3 L2261.7,1411.9 L2262.5,1408.3 L2263.3,1410.8 L2264.2,1407.5 L2265.0,1410.8 L2265.9,1410.8 L2266.7,1410.0 L2267.5,1409.1 L2268.3,1401.2 L2269.2,1403.3 L2270.0,1400.0 L2270.8,1395.2 L2271.7,1393.3 L2272.5,1386.9 L2273.4,1380.6 L2274.2,1371.7 L2275.0,1370.2 L2275.8,1370.4 L2276.7,1364.1 L2277.5,1364.4 L2278.3,1363.3 L2279.1,1363.0 L2280.0,1364.8 L2280.8,1365.5 L2281.6,1363.1 L2282.5,1363.8 L2283.3,1365.0 L2284.0,1370.6 L2284.6,1372.2 L2285.3,1378.3 L2286.1,1375.2 L2286.8,1368.7 L2287.6,1366.0 L2288.3,1361.7 L2289.1,1367.1 L2290.0,1366.4 L2290.8,1370.2 L2291.6,1371.7 L2292.5,1376.5 L2293.3,1378.3 L2294.1,1372.9 L2295.0,1364.4 L2295.8,1356.7 L2296.7,1349.1 L2297.5,1345.0 L2298.3,1343.8 L2299.2,1342.9 L2300.0,1337.4 L2300.9,1337.1 L2301.7,1335.0 L2302.5,1339.9 L2303.4,1346.7 L2304.2,1353.3 L2305.0,1344.3 L2305.9,1336.3 L2306.7,1330.0 L2307.5,1326.5 L2308.4,1320.9 L2309.2,1316.7 L2310.0,1312.8 L2310.9,1313.6 L2311.7,1313.3 L2312.5,1319.2 L2313.4,1325.4 L2314.2,1333.3 L2315.0,1330.4 L2315.9,1326.3 L2316.7,1323.3 L2317.5,1328.9 L2318.3,1331.4 L2319.2,1337.7 L2320.0,1343.3 L2320.8,1331.8 L2321.7,1320.7 L2322.5,1310.0 L2323.3,1307.3 L2324.2,1304.5 L2325.0,1303.1 L2325.8,1300.8 L2326.7,1307.7 L2327.5,1309.0 L2328.3,1313.3 L2329.2,1320.0 L2330.0,1325.7 L2330.8,1330.0 L2331.6,1329.2 L2332.5,1330.8 L2333.3,1330.8 L2334.1,1330.8 L2335.0,1329.8 L2335.8,1330.0 L2336.7,1303.3 L2337.5,1300.9 L2338.4,1304.1 L2339.2,1303.2 L2340.0,1303.8 L2340.9,1301.8 L2341.7,1301.7 L2342.5,1303.2 L2343.4,1305.7 L2344.2,1305.1 L2345.0,1311.2 L2345.9,1310.2 L2346.7,1313.3 L2347.5,1301.1 L2348.3,1290.0 L2349.2,1288.9 L2350.0,1285.4 L2350.8,1286.3 L2351.7,1283.3 L2352.5,1283.4 L2353.4,1288.8 L2354.2,1287.6 L2355.0,1288.5 L2355.9,1289.2 L2356.7,1290.0 L2357.5,1278.4 L2358.3,1266.7 L2359.1,1266.9 L2360.0,1266.0 L2360.8,1269.0 L2361.6,1269.1 L2362.5,1270.4 L2363.3,1271.7 L2364.2,1250.0 L2365.0,1252.1 L2365.9,1251.3 L2366.7,1254.6 L2367.5,1256.9 L2368.3,1259.0 L2369.2,1262.7 L2370.0,1263.3 L2370.8,1256.4 L2371.7,1236.7 L2372.5,1236.7 L2373.4,1242.0 L2374.2,1241.3 L2375.0,1244.1 L2375.9,1247.5 L2376.7,1246.7 L2377.5,1238.8 L2378.3,1233.2 L2379.2,1224.0 L2380.0,1216.7 L2380.8,1207.7 L2381.7,1201.7 L2382.4,1198.1 L2383.0,1188.6 L2383.7,1183.3 L2384.4,1184.1 L2385.1,1175.2 L2385.8,1175.8 L2386.6,1183.0 L2387.5,1190.3 L2388.3,1191.7 L2389.2,1229.4 L2390.0,1271.7 L2390.8,1259.3 L2391.7,1247.7 L2392.5,1230.9 L2393.3,1216.7 L2394.1,1206.3 L2395.0,1199.6 L2395.8,1191.7 L2396.5,1187.0 L2397.3,1179.1 L2398.0,1175.0 L2398.7,1173.3 L2399.3,1173.2 L2400.0,1171.7 L2400.8,1175.5 L2401.7,1185.3 L2402.5,1188.3 L2403.3,1209.5 L2404.2,1233.3 L2405.0,1244.4 L2405.9,1255.1 L2406.7,1265.8 L2407.5,1261.6 L2408.3,1252.9 L2409.2,1250.6 L2410.0,1241.7 L2410.8,1228.6 L2411.7,1211.7 L2412.5,1221.1 L2413.3,1227.3 L2414.2,1236.6 L2415.0,1246.7 L2415.8,1237.8 L2416.7,1229.3 L2417.5,1220.0 L2418.3,1214.7 L2419.2,1209.3 L2420.0,1201.7 L2420.8,1201.7 L2421.7,1201.2 L2422.5,1201.4 L2423.3,1199.2 L2424.2,1202.4 L2425.0,1200.0 L2425.8,1182.6 L2426.7,1170.0 L2427.5,1166.0 L2428.4,1165.6 L2429.2,1163.7 L2430.0,1160.7 L2430.9,1160.3 L2431.7,1158.3 L2432.5,1171.8 L2433.4,1185.8 L2434.2,1198.3 L2435.0,1192.8 L2435.8,1185.9 L2436.7,1181.1 L2437.5,1175.0 L2438.3,1170.5 L2439.2,1162.2 L2440.0,1156.7 L2440.8,1152.1 L2441.7,1144.8 L2442.5,1143.8 L2443.3,1138.3 L2444.2,1160.0 L2445.0,1176.7 L2445.8,1172.7 L2446.7,1167.4 L2447.5,1163.3 L2448.3,1164.0 L2449.2,1162.6 L2450.0,1161.8 L2450.9,1157.5 L2451.7,1158.3 L2452.5,1146.8 L2453.3,1138.7 L2454.2,1127.6 L2455.0,1116.7 L2455.8,1122.8 L2456.7,1125.8 L2457.5,1133.3 L2458.3,1139.2 L2459.2,1144.5 L2460.0,1146.7 L2460.8,1144.5 L2461.7,1143.2 L2462.5,1136.7 L2463.3,1133.6 L2464.2,1132.4 L2465.0,1126.7 L2465.8,1135.3 L2466.7,1139.1 L2467.5,1150.0 L2468.1,1182.3 L2468.7,1216.7 L2469.4,1206.1 L2470.1,1193.8 L2470.8,1183.3 L2471.6,1208.1 L2472.5,1229.4 L2473.3,1250.0 L2474.1,1238.0 L2475.0,1222.7 L2475.8,1209.9 L2476.7,1197.7 L2477.5,1183.3 L2478.3,1203.1 L2479.2,1225.2 L2480.0,1244.8 L2480.8,1265.0 L2481.6,1256.4 L2482.5,1243.8 L2483.3,1233.3 L2484.1,1219.2 L2485.0,1202.0 L2485.8,1196.7 L2486.6,1212.5 L2487.5,1229.0 L2488.3,1250.0 L2489.1,1269.0 L2490.0,1279.3 L2490.8,1300.0 L2491.7,1325.2 L2492.5,1351.7 L2493.3,1335.9 L2494.2,1318.7 L2495.0,1300.0 L2495.8,1310.1 L2496.7,1316.2 L2497.5,1323.3 L2498.3,1266.7 L2499.2,1253.8 L2500.0,1233.3 L2500.8,1233.6 L2501.7,1241.7 L2502.5,1236.8 L2503.3,1243.1 L2504.2,1246.9 L2505.0,1248.3 L2505.8,1208.3 L2506.6,1211.3 L2507.5,1210.7 L2508.3,1211.9 L2509.2,1212.2 L2510.0,1216.7 L2510.8,1197.4 L2511.7,1188.3 L2512.5,1188.3 L2513.4,1201.0 L2514.2,1194.5 L2515.0,1201.0 L2515.9,1204.2 L2516.7,1211.7 L2517.5,1198.8 L2518.3,1185.2 L2519.2,1171.6 L2520.0,1160.0 L2520.8,1164.4 L2521.7,1171.7 L2522.5,1175.6 L2523.3,1183.3 L2524.2,1175.8 L2525.0,1168.4 L2525.8,1156.7 L2526.7,1150.0 L2527.5,1147.3 L2528.3,1142.5 L2529.2,1139.6 L2530.0,1135.0 L2530.8,1133.3 L2531.5,1130.4 L2532.3,1126.5 L2533.0,1123.3 L2533.7,1126.9 L2534.5,1130.1 L2535.2,1127.3 L2536.0,1133.0 L2536.7,1133.3 L2535.8,1191.7 L2536.6,1183.6 L2537.5,1177.9 L2538.3,1170.2 L2539.2,1165.9 L2540.0,1158.3 L2540.8,1173.7 L2541.7,1185.9 L2542.5,1200.7 L2543.4,1213.2 L2544.2,1228.3 L2545.0,1214.8 L2545.8,1200.0 L2546.7,1188.6 L2547.5,1175.0 L2548.3,1155.6 L2549.2,1141.7 L2550.0,1142.5 L2550.9,1139.8 L2551.7,1136.5 L2552.5,1135.6 L2553.4,1134.2 L2554.2,1133.3 L2555.0,1128.5 L2555.9,1123.5 L2556.7,1118.3 L2557.5,1118.9 L2558.4,1113.6 L2559.2,1110.6 L2560.0,1111.9 L2560.9,1109.7 L2561.7,1107.5 L2562.5,1112.2 L2563.4,1120.4 L2564.2,1125.0 L2563.3,1182.5 L2564.2,1178.0 L2565.0,1173.6 L2565.8,1170.7 L2566.7,1166.7 L2567.5,1167.6 L2568.3,1171.8 L2569.2,1176.9 L2570.0,1178.4 L2570.8,1180.0 L2571.7,1141.7 L2572.5,1139.5 L2573.4,1136.2 L2574.2,1133.7 L2575.0,1128.9 L2575.9,1128.3 L2576.7,1125.0 L2577.5,1125.6 L2578.3,1127.7 L2579.2,1132.2 L2580.0,1130.2 L2580.8,1133.3 L2581.7,1156.2 L2582.5,1178.3 L2583.3,1169.3 L2584.2,1161.6 L2585.0,1150.7 L2585.9,1143.1 L2586.7,1133.3 L2587.5,1128.1 L2588.4,1121.9 L2589.2,1116.7 L2590.0,1110.4 L2590.9,1104.3 L2591.7,1100.0 L2592.5,1100.3 L2593.4,1095.8 L2594.2,1097.7 L2595.0,1096.3 L2595.9,1092.0 L2596.7,1091.7 L2597.5,1085.7 L2598.3,1080.6 L2599.2,1076.2 L2600.0,1073.5 L2600.8,1066.7 L2601.6,1070.0 L2602.5,1074.9 L2603.3,1078.7 L2604.2,1085.9 L2605.0,1090.0 L2605.8,1070.5 L2606.7,1050.0 L2607.5,1045.2 L2608.4,1036.6 L2609.2,1030.0 L2610.0,1031.2 L2610.8,1032.5 L2611.7,1037.5 L2612.5,1037.5 L2613.3,1036.7 L2614.1,1025.1 L2615.0,1004.4 L2615.8,991.7 L2616.5,989.6 L2617.3,988.1 L2618.0,986.7 L2617.3,988.1 L2616.7,990.0 L2617.5,998.5 L2618.3,998.2 L2619.2,1017.9 L2620.0,1007.3 L2620.8,1020.0 L2621.6,1001.2 L2622.5,976.1 L2623.3,950.0 L2624.1,950.8 L2624.9,950.8 L2625.7,945.4 L2626.4,944.3 L2627.2,948.4 L2628.0,940.0 L2628.6,972.1 L2629.2,996.7 L2630.0,1029.1 L2630.8,1063.3 L2630.0,1081.1 L2629.2,1090.0 L2629.9,1102.5 L2630.6,1130.0 L2631.3,1135.7 L2632.0,1163.3 L2632.8,1193.7 L2633.7,1203.2 L2634.5,1230.0 L2635.3,1256.4 L2636.2,1271.7 L2636.9,1279.4 L2637.6,1282.4 L2638.3,1291.7 L2639.2,1274.0 L2640.0,1246.7 L2640.7,1243.3 L2641.3,1228.3 L2642.1,1207.3 L2642.8,1196.7 L2643.3,1186.5 L2643.8,1163.3 L2644.5,1152.2 L2645.1,1137.6 L2645.8,1130.0 L2646.5,1123.1 L2647.3,1118.5 L2648.0,1110.0 L2648.7,1099.9 L2649.3,1080.8 L2650.0,1071.7 L2650.8,1072.2 L2651.7,1076.9 L2652.5,1076.4 L2653.3,1076.7 L2654.2,1071.2 L2655.0,1046.7 L2655.8,1043.4 L2656.7,1039.6 L2657.5,1030.0 L2658.3,1012.8 L2659.2,1002.4 L2660.0,993.3 L2660.8,984.7 L2661.7,985.2 L2662.5,980.0 L2663.3,980.8 L2664.2,980.8 L2665.0,976.7 L2665.8,956.7 L2666.7,930.0 L2667.5,929.2 L2668.3,937.4 L2669.2,944.1 L2670.0,943.3 L2670.8,896.7 L2671.6,892.8 L2672.5,894.4 L2673.3,882.5 L2674.2,882.5 L2675.0,883.3 L2675.8,863.9 L2676.7,846.7 L2677.5,856.4 L2678.4,870.7 L2679.2,878.3 L2680.0,861.2 L2680.9,838.3 L2681.7,830.0 L2682.5,818.5 L2683.3,780.0 L2684.1,796.7 L2685.0,806.8 L2685.8,831.7 L2686.7,730.0 L2687.5,751.0 L2688.4,754.5 L2689.2,763.3 L2689.9,734.6 L2690.6,708.3 L2691.3,680.0 L2692.0,704.4 L2692.6,715.1 L2693.3,746.7 L2694.2,794.0 L2695.0,826.7 L2695.8,835.4 L2696.7,847.4 L2697.5,852.5 L2698.3,808.5 L2699.2,768.8 L2700.0,730.0 L2700.8,730.8 L2701.7,702.5 L2702.5,719.6 L2703.3,703.3 L2704.1,738.4 L2705.0,757.3 L2705.8,796.7 L2706.6,766.9 L2707.5,732.4 L2708.3,705.0 L2709.0,760.9 L2709.7,820.0 L2710.4,788.5 L2711.1,761.6 L2711.8,741.4 L2712.5,713.3 L2713.3,696.7 L2714.1,684.1 L2715.0,677.7 L2715.8,663.3 L2716.6,658.6 L2717.5,644.2 L2718.3,650.3 L2719.2,637.2 L2720.0,623.3 L2720.8,608.3 L2721.7,611.2 L2722.5,601.7 L2723.3,596.7 L2724.2,596.0 L2725.0,585.0 L2725.8,595.6 L2726.7,583.3 L2727.5,585.1 L2728.4,604.7 L2729.2,593.1 L2730.0,614.7 L2730.9,609.1 L2731.7,614.2 L2730.8,588.4 L2730.0,553.3 L2730.8,552.6 L2731.7,551.8 L2732.5,543.4 L2733.3,547.0 L2734.2,541.7 L2735.0,543.2 L2735.9,540.1 L2736.7,540.0 L2737.5,551.7 L2738.3,555.7 L2739.2,561.2 L2740.0,570.0 L2740.8,534.2 L2741.7,520.5 L2742.5,481.6 L2743.3,458.3 L2744.2,463.9 L2745.0,473.2 L2745.8,476.5 L2746.7,483.3 L2747.5,516.0 L2748.3,547.8 L2749.2,570.4 L2750.0,616.6 L2750.8,643.3 L2751.6,610.3 L2752.5,585.3 L2753.3,550.0 L2754.1,543.1 L2755.0,534.9 L2755.8,537.4 L2756.7,522.7 L2757.5,516.7 L2758.3,516.3 L2759.2,507.6 L2760.0,503.6 L2760.8,498.9 L2761.7,491.1 L2762.5,483.3 L2763.3,477.3 L2764.2,480.6 L2765.0,484.1 L2765.9,476.2 L2766.7,476.7 L2767.5,481.3 L2768.3,488.9 L2769.2,498.7 L2770.0,500.0 L2770.8,554.9 L2771.7,619.2 L2772.5,606.0 L2773.3,589.1 L2774.2,574.6 L2775.0,563.3 L2775.8,567.5 L2776.7,562.5 L2777.5,566.0 L2778.3,567.3 L2779.2,567.5 L2780.0,566.7 L2780.8,535.3 L2781.7,500.0 L2782.5,492.9 L2783.3,475.1 L2784.2,458.1 L2785.0,458.3 L2785.8,459.1 L2786.7,459.1 L2787.5,448.6 L2788.3,450.3 L2789.2,451.3 L2790.0,445.0 L2790.8,454.2 L2791.7,473.3 L2792.5,484.2 L2793.3,500.0 L2794.2,431.7 L2795.0,432.5 L2795.9,431.0 L2796.7,432.5 L2797.5,429.2 L2798.3,429.2 L2799.2,429.2 L2800.0,430.0 L2800.8,443.2 L2801.7,450.8 L2802.5,461.7 L2803.3,473.3 L2804.1,446.4 L2805.0,408.2 L2805.8,383.3 L2806.5,380.9 L2807.3,384.1 L2808.0,380.9 L2808.8,380.9 L2809.5,381.7 L2810.3,391.0 L2811.0,388.6 L2811.8,388.4 L2812.5,398.8 L2813.3,400.0 L2814.1,410.2 L2815.0,413.8 L2815.8,416.7 L2816.6,449.8 L2817.5,492.7 L2818.3,518.3 L2819.2,487.3 L2820.0,467.9 L2820.8,444.4 L2821.7,416.7 L2822.5,412.5 L2823.3,417.5 L2824.2,415.2 L2825.0,413.3 L2825.8,380.4 L2826.7,338.3 L2827.5,337.8 L2828.3,339.1 L2829.2,332.5 L2830.0,333.3 L2830.8,332.1 L2831.7,328.5 L2832.5,330.2 L2833.3,328.3 L2834.2,338.1 L2835.0,336.3 L2835.8,354.3 L2836.7,355.0 L2837.5,383.1 L2838.3,402.4 L2839.2,420.0 L2840.0,450.0 L2840.8,431.5 L2841.7,405.5 L2842.5,376.7 L2843.3,358.3 L2844.1,355.1 L2845.0,354.2 L2845.8,355.0 L2846.6,354.5 L2847.5,369.5 L2848.3,376.8 L2849.2,378.5 L2850.0,383.3 L2850.8,409.3 L2851.7,441.7 L2852.5,456.2 L2853.4,469.4 L2854.2,483.3 L2855.0,646.7 L2855.8,639.0 L2856.7,609.7 L2857.5,599.9 L2858.3,580.0 L2859.2,555.6 L2860.0,535.0 L2860.8,588.6 L2861.7,630.0 L2862.5,656.8 L2863.3,693.3 L2864.2,708.2 L2865.0,713.6 L2865.8,730.5 L2866.7,738.3 L2867.5,737.5 L2868.3,751.3 L2869.2,761.0 L2870.0,761.7 L2870.8,731.3 L2871.7,690.9 L2872.5,663.3 L2873.3,636.3 L2874.2,581.9 L2875.0,541.7 L2875.8,554.5 L2876.6,567.7 L2877.4,578.8 L2878.2,604.6 L2879.0,610.0 L2879.8,636.9 L2880.7,660.6 L2881.5,676.7 L2882.3,687.5 L2883.2,702.5 L2884.0,726.7 L2884.8,751.5 L2885.7,793.3 L2885.7,860.0 L2886.5,881.6 L2887.3,913.3 L2888.1,913.8 L2889.0,912.5 L2889.8,912.5 L2890.7,924.1 L2891.5,923.3 L2892.3,898.2 L2893.2,883.5 L2894.0,860.0 L2894.7,853.6 L2895.3,834.3 L2896.0,827.5 L2896.8,842.6 L2897.5,866.7 L2898.2,869.0 L2899.0,893.3 L2898.2,960.0 L2898.9,974.5 L2899.6,985.3 L2900.3,1005.0 L2901.0,984.4 L2901.6,961.4 L2902.3,943.3 L2903.2,950.2 L2904.0,951.5 L2904.8,965.6 L2905.7,965.0 L2906.5,925.8 L2907.3,896.7 L2908.2,908.4 L2909.0,922.2 L2909.8,925.5 L2910.7,941.7 L2911.5,855.0 L2912.3,871.2 L2913.2,891.4 L2914.0,910.0 L2914.8,818.3 L2915.6,802.4 L2916.5,794.6 L2917.3,776.7 L2918.1,760.9 L2919.0,747.5 L2919.8,742.5 L2920.6,769.2 L2921.5,782.6 L2922.3,810.0 L2923.2,857.8 L2924.0,910.0 L2924.8,884.0 L2925.7,860.0 L2926.5,858.7 L2927.3,849.2 L2928.2,840.2 L2929.0,833.3 L2929.8,872.7 L2930.7,910.0 L2931.5,924.3 L2932.3,943.3 L2933.2,1013.3 L2934.0,1006.4 L2934.8,985.6 L2935.7,962.3 L2936.5,951.7 L2937.3,987.4 L2938.2,1005.2 L2939.0,1043.3 L2939.8,1017.5 L2940.7,993.7 L2941.5,981.4 L2942.3,950.0 L2943.1,973.0 L2944.0,979.1 L2944.8,993.7 L2945.6,1017.8 L2946.5,1022.4 L2947.3,1041.7 L2948.2,995.8 L2949.0,933.3 L2949.9,924.5 L2950.8,934.1 L2951.7,920.7 L2952.5,932.5 L2953.4,919.5 L2954.3,918.3 L2955.1,921.8 L2955.8,931.8 L2956.6,926.1 L2957.3,943.3 L2958.2,944.1 L2959.0,944.1 L2959.8,944.1 L2960.7,943.3 L2961.5,1001.7 L2962.3,1020.2 L2963.2,1053.3 L2964.0,1050.4 L2964.9,1037.9 L2965.7,1023.3"/></defs>
<g class="ln" stroke="#000">
<g filter="url(#sh)"><use href="#lg" y="-1.2"/><use href="#lg" y="1.2"/></g>
<g filter="url(#sh)"><use href="#lb" y="-1.2"/><use href="#lb" y="1.2"/></g>
<g filter="url(#sh)"><use href="#lr" y="-1.2"/><use href="#lr" y="1.2"/></g>
</g>
<g class="ln" stroke="#00b050"><use href="#lg" y="-1.2"/><use href="#lg"/><use href="#lg" y="1.2"/></g>
<g class="ln" stroke="#0000ff"><use href="#lb" y="-1.2"/><use href="#lb"/><use href="#lb" y="1.2"/></g>
<g class="ln" stroke="#c00000"><use href="#lr" y="-1.2"/><use href="#lr"/><use href="#lr" y="1.2"/></g>
</svg>
</body></html>
